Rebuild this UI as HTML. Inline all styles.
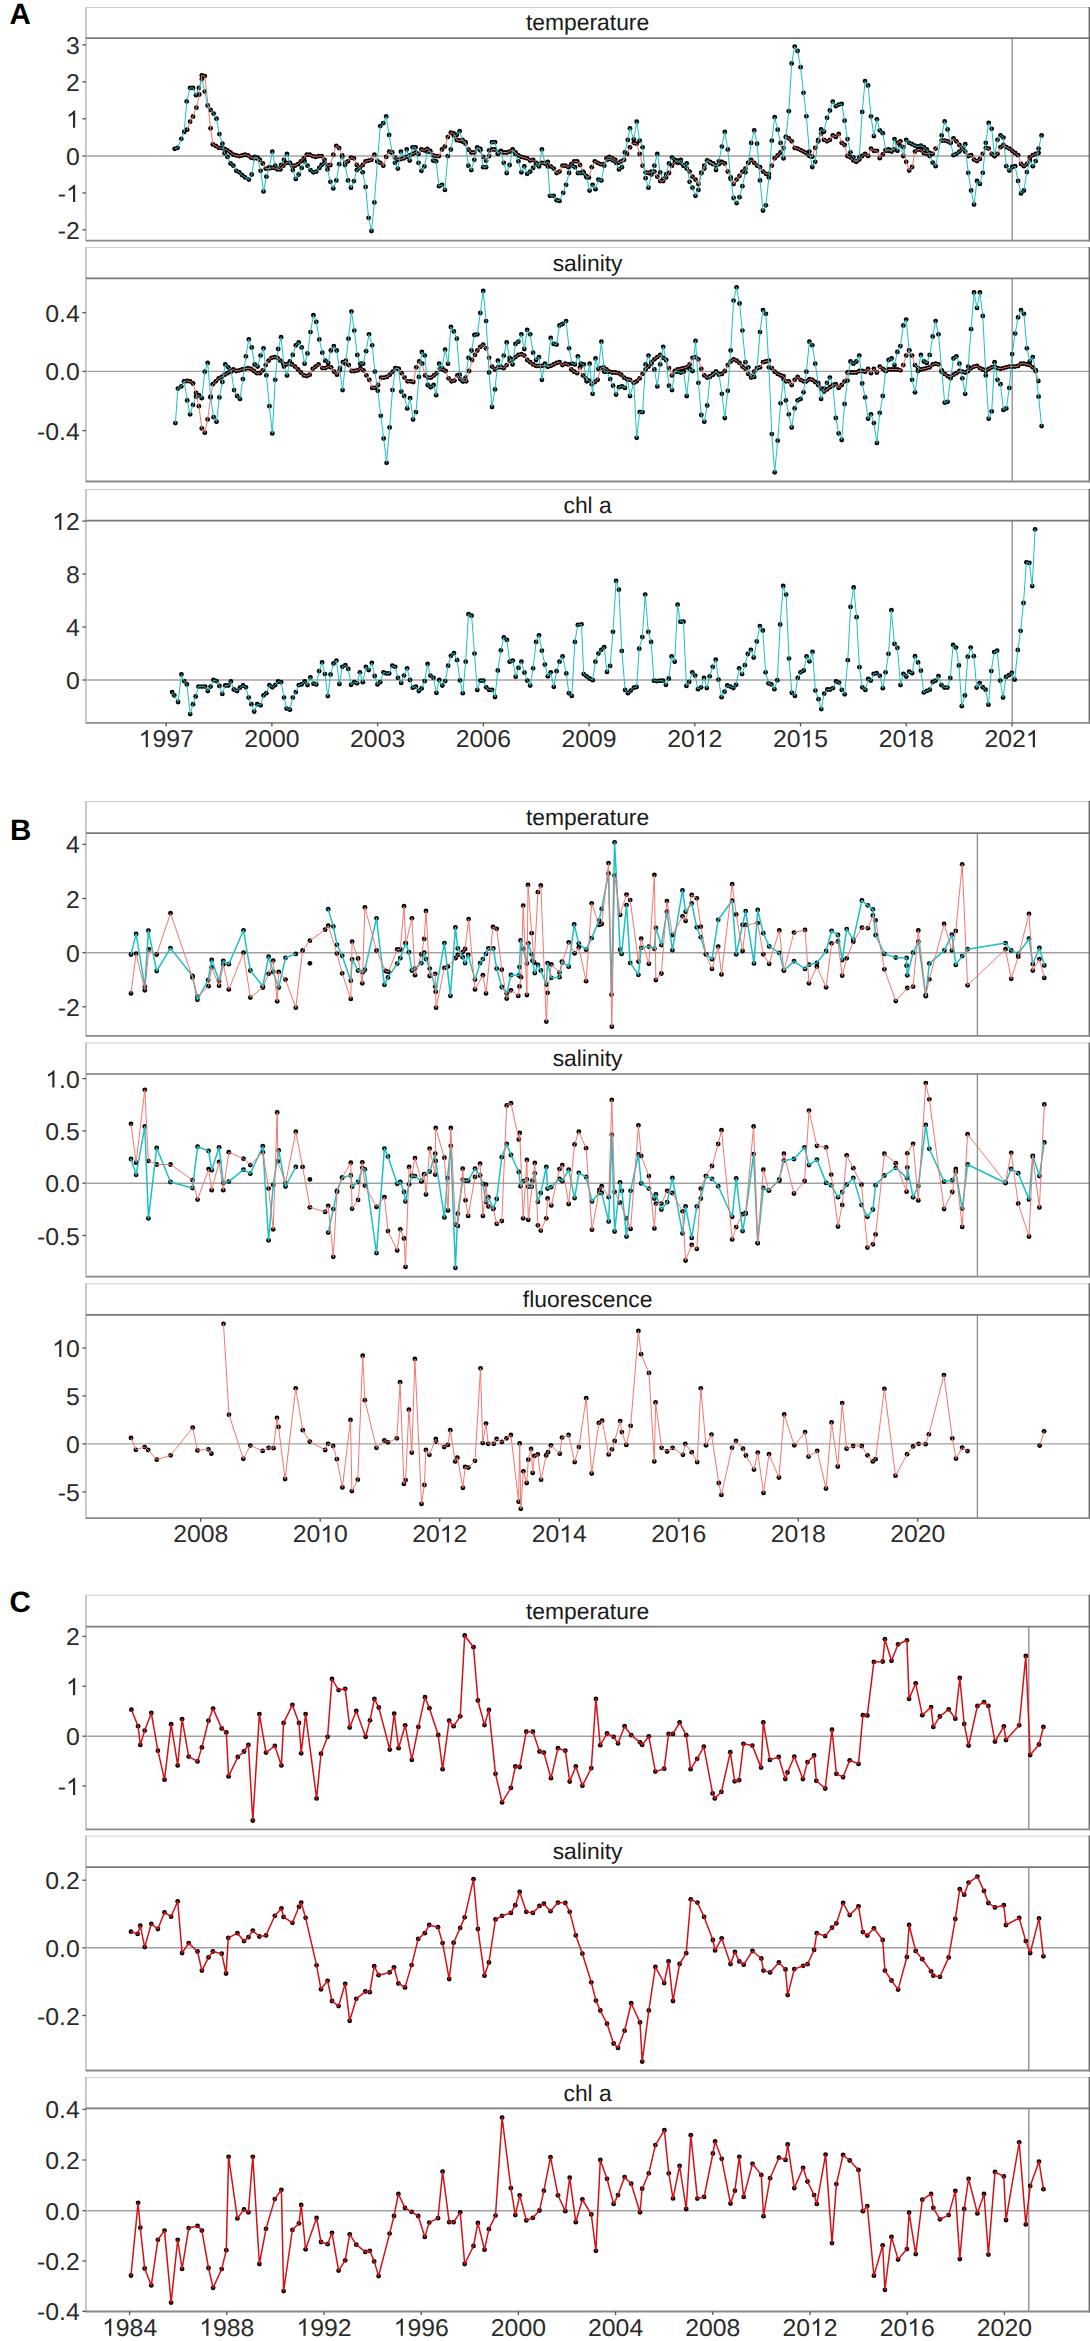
<!DOCTYPE html>
<html><head><meta charset="utf-8"><title>Time series anomalies</title>
<style>
html,body{margin:0;padding:0;background:#fff;}
svg{display:block;}
text{font-family:"Liberation Sans",sans-serif;font-kerning:none;text-rendering:geometricPrecision;}
.one{fill:#2b2b2b;}
.yt{font-size:24.3px;fill:#2b2b2b;text-anchor:end;}
.xt{font-size:24.3px;fill:#2b2b2b;text-anchor:middle;}
.st{font-size:22.85px;fill:#1a1a1a;text-anchor:middle;}
.lt{font-size:29.5px;font-weight:bold;fill:#000;}
</style></head>
<body><svg width="1090" height="2341" viewBox="0 0 1090 2341">
<rect width="1090" height="2341" fill="#fff"/>
<line x1="86.0" y1="7.5" x2="1089.3" y2="7.5" stroke="#cfcfcf" stroke-width="1"/><line x1="86.0" y1="156.0" x2="1089.3" y2="156.0" stroke="#a2a2a2" stroke-width="1.4"/><line x1="1012.2" y1="38.1" x2="1012.2" y2="240.6" stroke="#8a8a8a" stroke-width="1.3"/>
<line x1="86.0" y1="247.5" x2="1089.3" y2="247.5" stroke="#cfcfcf" stroke-width="1"/><line x1="86.0" y1="371.4" x2="1089.3" y2="371.4" stroke="#a2a2a2" stroke-width="1.4"/><line x1="1012.2" y1="278.4" x2="1012.2" y2="481.5" stroke="#8a8a8a" stroke-width="1.3"/>
<line x1="86.0" y1="489.5" x2="1089.3" y2="489.5" stroke="#cfcfcf" stroke-width="1"/><line x1="86.0" y1="680.0" x2="1089.3" y2="680.0" stroke="#a2a2a2" stroke-width="1.4"/><line x1="1012.2" y1="520.6" x2="1012.2" y2="722.9" stroke="#8a8a8a" stroke-width="1.3"/>
<line x1="86.0" y1="801.5" x2="1089.3" y2="801.5" stroke="#cfcfcf" stroke-width="1"/><line x1="86.0" y1="952.7" x2="1089.3" y2="952.7" stroke="#a2a2a2" stroke-width="1.4"/><line x1="977.4" y1="833.2" x2="977.4" y2="1035.9" stroke="#8a8a8a" stroke-width="1.3"/>
<line x1="86.0" y1="1042.9" x2="1089.3" y2="1042.9" stroke="#cfcfcf" stroke-width="1"/><line x1="86.0" y1="1183.2" x2="1089.3" y2="1183.2" stroke="#a2a2a2" stroke-width="1.4"/><line x1="977.4" y1="1074.0" x2="977.4" y2="1276.7" stroke="#8a8a8a" stroke-width="1.3"/>
<line x1="86.0" y1="1283.8" x2="1089.3" y2="1283.8" stroke="#cfcfcf" stroke-width="1"/><line x1="86.0" y1="1443.9" x2="1089.3" y2="1443.9" stroke="#a2a2a2" stroke-width="1.4"/><line x1="977.4" y1="1314.9" x2="977.4" y2="1518.1" stroke="#8a8a8a" stroke-width="1.3"/>
<line x1="86.0" y1="1595.2" x2="1089.3" y2="1595.2" stroke="#cfcfcf" stroke-width="1"/><line x1="86.0" y1="1736.2" x2="1089.3" y2="1736.2" stroke="#a2a2a2" stroke-width="1.4"/><line x1="1028.8" y1="1626.6" x2="1028.8" y2="1829.4" stroke="#8a8a8a" stroke-width="1.3"/>
<line x1="86.0" y1="1836.1" x2="1089.3" y2="1836.1" stroke="#cfcfcf" stroke-width="1"/><line x1="86.0" y1="1947.8" x2="1089.3" y2="1947.8" stroke="#a2a2a2" stroke-width="1.4"/><line x1="1028.8" y1="1867.2" x2="1028.8" y2="2070.5" stroke="#8a8a8a" stroke-width="1.3"/>
<line x1="86.0" y1="2077.6" x2="1089.3" y2="2077.6" stroke="#cfcfcf" stroke-width="1"/><line x1="86.0" y1="2210.7" x2="1089.3" y2="2210.7" stroke="#a2a2a2" stroke-width="1.4"/><line x1="1028.8" y1="2108.4" x2="1028.8" y2="2311.5" stroke="#8a8a8a" stroke-width="1.3"/>
<g fill="#000"><circle cx="187.2" cy="129.7" r="2.4"/><circle cx="190.1" cy="121.7" r="2.4"/><circle cx="193.0" cy="116.5" r="2.4"/><circle cx="196.4" cy="107.7" r="2.4"/><circle cx="199.3" cy="94.5" r="2.4"/><circle cx="201.8" cy="75.4" r="2.4"/><circle cx="204.8" cy="76.1" r="2.4"/><circle cx="210.6" cy="128.3" r="2.4"/><circle cx="212.8" cy="144.4" r="2.4"/><circle cx="215.8" cy="145.9" r="2.4"/><circle cx="218.7" cy="147.8" r="2.4"/><circle cx="221.7" cy="148.1" r="2.4"/><circle cx="224.6" cy="148.8" r="2.4"/><circle cx="227.5" cy="150.3" r="2.4"/><circle cx="230.5" cy="152.5" r="2.4"/><circle cx="233.4" cy="154.7" r="2.4"/><circle cx="236.3" cy="155.4" r="2.4"/><circle cx="239.3" cy="156.1" r="2.4"/><circle cx="242.2" cy="155.4" r="2.4"/><circle cx="245.1" cy="154.7" r="2.4"/><circle cx="248.1" cy="155.4" r="2.4"/><circle cx="251.0" cy="157.6" r="2.4"/><circle cx="253.9" cy="158.3" r="2.4"/><circle cx="256.9" cy="158.3" r="2.4"/><circle cx="259.8" cy="159.8" r="2.4"/><circle cx="262.8" cy="163.5" r="2.4"/><circle cx="265.7" cy="168.6" r="2.4"/><circle cx="268.6" cy="168.6" r="2.4"/><circle cx="271.6" cy="167.9" r="2.4"/><circle cx="274.5" cy="167.9" r="2.4"/><circle cx="277.4" cy="169.4" r="2.4"/><circle cx="280.4" cy="169.4" r="2.4"/><circle cx="283.3" cy="165.7" r="2.4"/><circle cx="286.2" cy="162.8" r="2.4"/><circle cx="289.2" cy="162.8" r="2.4"/><circle cx="292.1" cy="165.7" r="2.4"/><circle cx="295.0" cy="165.7" r="2.4"/><circle cx="298.0" cy="164.2" r="2.4"/><circle cx="300.9" cy="161.3" r="2.4"/><circle cx="303.9" cy="158.3" r="2.4"/><circle cx="306.8" cy="154.7" r="2.4"/><circle cx="309.7" cy="154.7" r="2.4"/><circle cx="312.7" cy="156.1" r="2.4"/><circle cx="315.6" cy="156.9" r="2.4"/><circle cx="318.5" cy="156.1" r="2.4"/><circle cx="321.6" cy="156.1" r="2.4"/><circle cx="324.5" cy="159.8" r="2.4"/><circle cx="327.5" cy="165.7" r="2.4"/><circle cx="330.4" cy="165.0" r="2.4"/><circle cx="333.3" cy="154.7" r="2.4"/><circle cx="336.3" cy="145.9" r="2.4"/><circle cx="339.2" cy="148.1" r="2.4"/><circle cx="342.2" cy="155.4" r="2.4"/><circle cx="345.1" cy="162.8" r="2.4"/><circle cx="348.0" cy="161.3" r="2.4"/><circle cx="351.0" cy="157.6" r="2.4"/><circle cx="353.9" cy="158.3" r="2.4"/><circle cx="356.8" cy="165.0" r="2.4"/><circle cx="359.8" cy="167.9" r="2.4"/><circle cx="362.7" cy="165.0" r="2.4"/><circle cx="365.6" cy="161.3" r="2.4"/><circle cx="368.6" cy="160.6" r="2.4"/><circle cx="371.5" cy="159.8" r="2.4"/><circle cx="374.4" cy="154.7" r="2.4"/><circle cx="377.4" cy="161.3" r="2.4"/><circle cx="380.3" cy="162.8" r="2.4"/><circle cx="383.3" cy="165.7" r="2.4"/><circle cx="386.2" cy="156.9" r="2.4"/><circle cx="389.1" cy="151.7" r="2.4"/><circle cx="392.1" cy="152.5" r="2.4"/><circle cx="395.0" cy="157.6" r="2.4"/><circle cx="397.9" cy="159.8" r="2.4"/><circle cx="400.9" cy="159.1" r="2.4"/><circle cx="403.8" cy="158.3" r="2.4"/><circle cx="406.7" cy="156.9" r="2.4"/><circle cx="409.7" cy="155.4" r="2.4"/><circle cx="412.6" cy="153.9" r="2.4"/><circle cx="415.6" cy="152.5" r="2.4"/><circle cx="418.5" cy="153.9" r="2.4"/><circle cx="421.4" cy="149.5" r="2.4"/><circle cx="424.4" cy="150.3" r="2.4"/><circle cx="427.3" cy="148.8" r="2.4"/><circle cx="430.2" cy="151.0" r="2.4"/><circle cx="433.2" cy="155.4" r="2.4"/><circle cx="436.1" cy="156.1" r="2.4"/><circle cx="439.0" cy="156.1" r="2.4"/><circle cx="442.0" cy="149.5" r="2.4"/><circle cx="444.9" cy="146.6" r="2.4"/><circle cx="447.8" cy="137.1" r="2.4"/><circle cx="450.8" cy="132.7" r="2.4"/><circle cx="453.7" cy="133.4" r="2.4"/><circle cx="456.7" cy="140.0" r="2.4"/><circle cx="459.6" cy="140.7" r="2.4"/><circle cx="462.5" cy="140.0" r="2.4"/><circle cx="465.5" cy="142.2" r="2.4"/><circle cx="468.4" cy="149.5" r="2.4"/><circle cx="471.3" cy="152.5" r="2.4"/><circle cx="474.3" cy="152.5" r="2.4"/><circle cx="477.3" cy="148.1" r="2.4"/><circle cx="480.3" cy="150.3" r="2.4"/><circle cx="483.2" cy="156.9" r="2.4"/><circle cx="486.1" cy="160.6" r="2.4"/><circle cx="489.1" cy="156.1" r="2.4"/><circle cx="492.0" cy="149.5" r="2.4"/><circle cx="495.0" cy="149.5" r="2.4"/><circle cx="497.9" cy="153.2" r="2.4"/><circle cx="500.8" cy="151.7" r="2.4"/><circle cx="503.8" cy="152.5" r="2.4"/><circle cx="506.7" cy="152.5" r="2.4"/><circle cx="509.6" cy="151.7" r="2.4"/><circle cx="512.6" cy="149.5" r="2.4"/><circle cx="515.5" cy="152.5" r="2.4"/><circle cx="518.4" cy="155.4" r="2.4"/><circle cx="521.4" cy="156.9" r="2.4"/><circle cx="524.3" cy="157.6" r="2.4"/><circle cx="527.2" cy="158.3" r="2.4"/><circle cx="530.2" cy="160.6" r="2.4"/><circle cx="533.1" cy="159.8" r="2.4"/><circle cx="536.1" cy="162.8" r="2.4"/><circle cx="539.0" cy="164.2" r="2.4"/><circle cx="541.9" cy="162.8" r="2.4"/><circle cx="544.9" cy="163.5" r="2.4"/><circle cx="547.8" cy="162.0" r="2.4"/><circle cx="550.7" cy="166.4" r="2.4"/><circle cx="553.7" cy="168.6" r="2.4"/><circle cx="556.6" cy="173.0" r="2.4"/><circle cx="559.5" cy="171.6" r="2.4"/><circle cx="562.5" cy="165.7" r="2.4"/><circle cx="565.4" cy="165.7" r="2.4"/><circle cx="568.3" cy="167.2" r="2.4"/><circle cx="571.3" cy="164.2" r="2.4"/><circle cx="574.2" cy="161.3" r="2.4"/><circle cx="577.2" cy="161.3" r="2.4"/><circle cx="580.1" cy="165.0" r="2.4"/><circle cx="583.0" cy="171.6" r="2.4"/><circle cx="586.0" cy="176.0" r="2.4"/><circle cx="588.9" cy="177.4" r="2.4"/><circle cx="591.8" cy="167.2" r="2.4"/><circle cx="594.8" cy="161.3" r="2.4"/><circle cx="597.7" cy="162.8" r="2.4"/><circle cx="600.6" cy="164.2" r="2.4"/><circle cx="603.6" cy="164.2" r="2.4"/><circle cx="606.5" cy="158.3" r="2.4"/><circle cx="609.4" cy="156.9" r="2.4"/><circle cx="612.4" cy="158.3" r="2.4"/><circle cx="615.3" cy="159.8" r="2.4"/><circle cx="618.3" cy="162.8" r="2.4"/><circle cx="621.2" cy="161.3" r="2.4"/><circle cx="624.1" cy="159.8" r="2.4"/><circle cx="627.1" cy="153.9" r="2.4"/><circle cx="630.0" cy="147.3" r="2.4"/><circle cx="633.8" cy="142.9" r="2.4"/><circle cx="636.7" cy="143.7" r="2.4"/><circle cx="639.7" cy="153.9" r="2.4"/><circle cx="642.6" cy="165.7" r="2.4"/><circle cx="645.6" cy="172.3" r="2.4"/><circle cx="648.5" cy="173.0" r="2.4"/><circle cx="651.4" cy="171.6" r="2.4"/><circle cx="654.4" cy="171.6" r="2.4"/><circle cx="657.3" cy="176.7" r="2.4"/><circle cx="660.2" cy="181.1" r="2.4"/><circle cx="663.2" cy="181.1" r="2.4"/><circle cx="666.1" cy="177.4" r="2.4"/><circle cx="669.0" cy="173.0" r="2.4"/><circle cx="672.0" cy="165.7" r="2.4"/><circle cx="674.9" cy="162.0" r="2.4"/><circle cx="677.8" cy="160.6" r="2.4"/><circle cx="680.8" cy="162.8" r="2.4"/><circle cx="683.7" cy="165.7" r="2.4"/><circle cx="686.7" cy="168.6" r="2.4"/><circle cx="689.6" cy="171.6" r="2.4"/><circle cx="692.5" cy="176.7" r="2.4"/><circle cx="695.5" cy="179.6" r="2.4"/><circle cx="698.4" cy="184.0" r="2.4"/><circle cx="701.3" cy="173.0" r="2.4"/><circle cx="704.3" cy="165.7" r="2.4"/><circle cx="707.2" cy="160.6" r="2.4"/><circle cx="710.1" cy="162.0" r="2.4"/><circle cx="713.1" cy="163.5" r="2.4"/><circle cx="716.0" cy="165.7" r="2.4"/><circle cx="718.9" cy="164.2" r="2.4"/><circle cx="721.9" cy="162.0" r="2.4"/><circle cx="724.8" cy="163.5" r="2.4"/><circle cx="727.8" cy="171.6" r="2.4"/><circle cx="730.7" cy="177.4" r="2.4"/><circle cx="733.6" cy="184.0" r="2.4"/><circle cx="736.6" cy="179.6" r="2.4"/><circle cx="739.5" cy="176.0" r="2.4"/><circle cx="742.4" cy="171.6" r="2.4"/><circle cx="745.4" cy="168.6" r="2.4"/><circle cx="748.3" cy="162.8" r="2.4"/><circle cx="751.2" cy="159.8" r="2.4"/><circle cx="754.2" cy="162.8" r="2.4"/><circle cx="757.1" cy="165.7" r="2.4"/><circle cx="760.0" cy="167.2" r="2.4"/><circle cx="763.0" cy="171.6" r="2.4"/><circle cx="765.9" cy="173.8" r="2.4"/><circle cx="768.9" cy="173.8" r="2.4"/><circle cx="771.8" cy="165.7" r="2.4"/><circle cx="774.7" cy="158.3" r="2.4"/><circle cx="777.7" cy="155.4" r="2.4"/><circle cx="780.6" cy="152.5" r="2.4"/><circle cx="783.5" cy="148.1" r="2.4"/><circle cx="785.9" cy="136.9" r="2.4"/><circle cx="788.8" cy="138.3" r="2.4"/><circle cx="791.7" cy="141.3" r="2.4"/><circle cx="794.7" cy="147.9" r="2.4"/><circle cx="797.6" cy="148.6" r="2.4"/><circle cx="800.6" cy="150.1" r="2.4"/><circle cx="803.5" cy="151.6" r="2.4"/><circle cx="806.4" cy="153.0" r="2.4"/><circle cx="809.4" cy="156.0" r="2.4"/><circle cx="812.3" cy="156.7" r="2.4"/><circle cx="815.2" cy="147.9" r="2.4"/><circle cx="818.2" cy="141.3" r="2.4"/><circle cx="821.1" cy="133.9" r="2.4"/><circle cx="824.0" cy="139.8" r="2.4"/><circle cx="827.0" cy="141.3" r="2.4"/><circle cx="829.9" cy="139.8" r="2.4"/><circle cx="832.8" cy="135.4" r="2.4"/><circle cx="835.8" cy="136.9" r="2.4"/><circle cx="838.7" cy="133.9" r="2.4"/><circle cx="841.7" cy="142.8" r="2.4"/><circle cx="844.6" cy="145.0" r="2.4"/><circle cx="847.5" cy="156.0" r="2.4"/><circle cx="850.5" cy="157.4" r="2.4"/><circle cx="853.4" cy="160.4" r="2.4"/><circle cx="856.3" cy="161.8" r="2.4"/><circle cx="859.3" cy="159.6" r="2.4"/><circle cx="862.2" cy="156.0" r="2.4"/><circle cx="865.1" cy="153.8" r="2.4"/><circle cx="868.1" cy="156.0" r="2.4"/><circle cx="871.0" cy="148.6" r="2.4"/><circle cx="873.9" cy="150.8" r="2.4"/><circle cx="876.9" cy="150.8" r="2.4"/><circle cx="879.8" cy="158.2" r="2.4"/><circle cx="882.8" cy="154.5" r="2.4"/><circle cx="885.7" cy="150.8" r="2.4"/><circle cx="888.6" cy="150.8" r="2.4"/><circle cx="891.6" cy="150.1" r="2.4"/><circle cx="894.5" cy="149.4" r="2.4"/><circle cx="897.4" cy="142.8" r="2.4"/><circle cx="900.4" cy="141.3" r="2.4"/><circle cx="903.3" cy="147.2" r="2.4"/><circle cx="906.2" cy="161.8" r="2.4"/><circle cx="909.2" cy="170.6" r="2.4"/><circle cx="912.1" cy="167.0" r="2.4"/><circle cx="915.0" cy="151.6" r="2.4"/><circle cx="918.0" cy="149.4" r="2.4"/><circle cx="920.9" cy="150.1" r="2.4"/><circle cx="923.9" cy="153.0" r="2.4"/><circle cx="926.8" cy="153.8" r="2.4"/><circle cx="929.7" cy="153.0" r="2.4"/><circle cx="932.7" cy="153.8" r="2.4"/><circle cx="935.6" cy="148.6" r="2.4"/><circle cx="941.7" cy="140.6" r="2.4"/><circle cx="944.7" cy="140.6" r="2.4"/><circle cx="947.6" cy="141.3" r="2.4"/><circle cx="950.6" cy="142.8" r="2.4"/><circle cx="953.5" cy="138.3" r="2.4"/><circle cx="956.4" cy="141.3" r="2.4"/><circle cx="959.4" cy="145.0" r="2.4"/><circle cx="962.3" cy="148.6" r="2.4"/><circle cx="965.2" cy="151.6" r="2.4"/><circle cx="968.2" cy="156.0" r="2.4"/><circle cx="971.1" cy="155.2" r="2.4"/><circle cx="974.0" cy="159.6" r="2.4"/><circle cx="977.0" cy="161.1" r="2.4"/><circle cx="979.9" cy="158.9" r="2.4"/><circle cx="982.8" cy="153.8" r="2.4"/><circle cx="985.8" cy="147.9" r="2.4"/><circle cx="988.7" cy="148.6" r="2.4"/><circle cx="991.7" cy="153.8" r="2.4"/><circle cx="994.6" cy="156.0" r="2.4"/><circle cx="997.5" cy="153.8" r="2.4"/><circle cx="1000.5" cy="147.2" r="2.4"/><circle cx="1003.4" cy="145.0" r="2.4"/><circle cx="1006.3" cy="147.2" r="2.4"/><circle cx="1009.3" cy="148.6" r="2.4"/><circle cx="1012.2" cy="150.8" r="2.4"/><circle cx="1015.1" cy="153.0" r="2.4"/><circle cx="1018.1" cy="155.2" r="2.4"/><circle cx="1021.0" cy="164.0" r="2.4"/><circle cx="1023.9" cy="166.2" r="2.4"/><circle cx="1026.9" cy="164.0" r="2.4"/><circle cx="1029.8" cy="157.4" r="2.4"/><circle cx="1032.8" cy="155.2" r="2.4"/><circle cx="1035.7" cy="153.8" r="2.4"/><circle cx="1038.6" cy="153.0" r="2.4"/><circle cx="174.7" cy="148.8" r="2.4"/><circle cx="177.6" cy="147.8" r="2.4"/><circle cx="181.3" cy="138.8" r="2.4"/><circle cx="184.2" cy="131.9" r="2.4"/><circle cx="186.7" cy="101.4" r="2.4"/><circle cx="190.1" cy="87.9" r="2.4"/><circle cx="193.0" cy="87.9" r="2.4"/><circle cx="196.0" cy="95.2" r="2.4"/><circle cx="198.9" cy="87.9" r="2.4"/><circle cx="201.8" cy="79.1" r="2.4"/><circle cx="204.8" cy="91.6" r="2.4"/><circle cx="207.7" cy="105.5" r="2.4"/><circle cx="210.6" cy="109.9" r="2.4"/><circle cx="213.6" cy="113.6" r="2.4"/><circle cx="216.5" cy="118.7" r="2.4"/><circle cx="219.4" cy="134.1" r="2.4"/><circle cx="222.4" cy="143.7" r="2.4"/><circle cx="224.6" cy="153.2" r="2.4"/><circle cx="227.5" cy="156.9" r="2.4"/><circle cx="230.5" cy="163.5" r="2.4"/><circle cx="233.4" cy="165.7" r="2.4"/><circle cx="236.3" cy="170.8" r="2.4"/><circle cx="239.3" cy="172.3" r="2.4"/><circle cx="242.2" cy="175.2" r="2.4"/><circle cx="245.1" cy="177.4" r="2.4"/><circle cx="248.8" cy="179.6" r="2.4"/><circle cx="251.7" cy="174.5" r="2.4"/><circle cx="254.7" cy="156.9" r="2.4"/><circle cx="257.6" cy="157.6" r="2.4"/><circle cx="260.6" cy="170.8" r="2.4"/><circle cx="263.5" cy="191.4" r="2.4"/><circle cx="266.4" cy="176.7" r="2.4"/><circle cx="269.4" cy="167.2" r="2.4"/><circle cx="272.3" cy="151.7" r="2.4"/><circle cx="275.2" cy="165.7" r="2.4"/><circle cx="278.2" cy="168.6" r="2.4"/><circle cx="281.1" cy="165.0" r="2.4"/><circle cx="284.0" cy="159.8" r="2.4"/><circle cx="287.0" cy="153.9" r="2.4"/><circle cx="289.9" cy="162.8" r="2.4"/><circle cx="292.8" cy="170.1" r="2.4"/><circle cx="295.8" cy="178.9" r="2.4"/><circle cx="298.7" cy="174.5" r="2.4"/><circle cx="301.7" cy="167.9" r="2.4"/><circle cx="304.6" cy="161.3" r="2.4"/><circle cx="307.5" cy="165.7" r="2.4"/><circle cx="310.5" cy="170.1" r="2.4"/><circle cx="313.4" cy="172.3" r="2.4"/><circle cx="316.3" cy="171.6" r="2.4"/><circle cx="319.3" cy="167.9" r="2.4"/><circle cx="321.6" cy="165.0" r="2.4"/><circle cx="324.5" cy="162.8" r="2.4"/><circle cx="327.5" cy="169.4" r="2.4"/><circle cx="330.4" cy="181.8" r="2.4"/><circle cx="333.3" cy="188.4" r="2.4"/><circle cx="336.3" cy="180.4" r="2.4"/><circle cx="339.2" cy="164.2" r="2.4"/><circle cx="342.2" cy="156.9" r="2.4"/><circle cx="345.1" cy="165.0" r="2.4"/><circle cx="348.0" cy="180.4" r="2.4"/><circle cx="351.0" cy="187.7" r="2.4"/><circle cx="353.9" cy="181.1" r="2.4"/><circle cx="356.8" cy="170.1" r="2.4"/><circle cx="359.8" cy="167.9" r="2.4"/><circle cx="362.7" cy="172.3" r="2.4"/><circle cx="365.6" cy="187.0" r="2.4"/><circle cx="368.6" cy="217.8" r="2.4"/><circle cx="371.5" cy="231.0" r="2.4"/><circle cx="374.4" cy="202.4" r="2.4"/><circle cx="377.4" cy="161.3" r="2.4"/><circle cx="380.3" cy="126.1" r="2.4"/><circle cx="383.3" cy="123.1" r="2.4"/><circle cx="386.2" cy="116.5" r="2.4"/><circle cx="389.1" cy="134.9" r="2.4"/><circle cx="392.1" cy="152.5" r="2.4"/><circle cx="395.0" cy="162.8" r="2.4"/><circle cx="397.9" cy="168.6" r="2.4"/><circle cx="400.9" cy="151.7" r="2.4"/><circle cx="403.8" cy="157.6" r="2.4"/><circle cx="406.7" cy="149.5" r="2.4"/><circle cx="409.7" cy="160.6" r="2.4"/><circle cx="412.6" cy="147.3" r="2.4"/><circle cx="415.6" cy="147.3" r="2.4"/><circle cx="418.5" cy="162.8" r="2.4"/><circle cx="421.4" cy="170.8" r="2.4"/><circle cx="424.4" cy="166.4" r="2.4"/><circle cx="427.3" cy="151.7" r="2.4"/><circle cx="430.2" cy="151.7" r="2.4"/><circle cx="433.2" cy="160.6" r="2.4"/><circle cx="436.1" cy="161.3" r="2.4"/><circle cx="439.0" cy="186.2" r="2.4"/><circle cx="442.0" cy="184.8" r="2.4"/><circle cx="444.9" cy="189.9" r="2.4"/><circle cx="447.8" cy="156.1" r="2.4"/><circle cx="450.8" cy="149.5" r="2.4"/><circle cx="453.7" cy="135.6" r="2.4"/><circle cx="456.7" cy="134.9" r="2.4"/><circle cx="459.6" cy="131.2" r="2.4"/><circle cx="462.5" cy="141.5" r="2.4"/><circle cx="465.5" cy="143.7" r="2.4"/><circle cx="468.4" cy="165.7" r="2.4"/><circle cx="471.3" cy="170.1" r="2.4"/><circle cx="474.3" cy="159.8" r="2.4"/><circle cx="477.3" cy="147.3" r="2.4"/><circle cx="480.3" cy="148.8" r="2.4"/><circle cx="483.2" cy="167.2" r="2.4"/><circle cx="486.1" cy="167.2" r="2.4"/><circle cx="489.1" cy="150.3" r="2.4"/><circle cx="492.0" cy="142.2" r="2.4"/><circle cx="495.0" cy="142.2" r="2.4"/><circle cx="497.9" cy="153.9" r="2.4"/><circle cx="500.8" cy="151.0" r="2.4"/><circle cx="503.8" cy="162.8" r="2.4"/><circle cx="506.7" cy="173.0" r="2.4"/><circle cx="509.6" cy="165.0" r="2.4"/><circle cx="512.6" cy="150.3" r="2.4"/><circle cx="515.5" cy="153.9" r="2.4"/><circle cx="518.4" cy="161.3" r="2.4"/><circle cx="521.4" cy="172.3" r="2.4"/><circle cx="524.3" cy="166.4" r="2.4"/><circle cx="527.2" cy="173.8" r="2.4"/><circle cx="530.2" cy="171.6" r="2.4"/><circle cx="533.1" cy="167.9" r="2.4"/><circle cx="536.1" cy="164.2" r="2.4"/><circle cx="539.0" cy="166.4" r="2.4"/><circle cx="541.9" cy="149.5" r="2.4"/><circle cx="544.9" cy="162.8" r="2.4"/><circle cx="547.8" cy="166.4" r="2.4"/><circle cx="550.0" cy="195.8" r="2.4"/><circle cx="553.7" cy="195.8" r="2.4"/><circle cx="556.6" cy="200.2" r="2.4"/><circle cx="559.5" cy="200.9" r="2.4"/><circle cx="563.2" cy="192.8" r="2.4"/><circle cx="566.1" cy="184.8" r="2.4"/><circle cx="569.1" cy="173.0" r="2.4"/><circle cx="572.0" cy="165.7" r="2.4"/><circle cx="575.0" cy="167.2" r="2.4"/><circle cx="577.9" cy="173.0" r="2.4"/><circle cx="580.8" cy="173.0" r="2.4"/><circle cx="583.8" cy="173.0" r="2.4"/><circle cx="586.7" cy="177.4" r="2.4"/><circle cx="589.6" cy="190.6" r="2.4"/><circle cx="592.6" cy="184.8" r="2.4"/><circle cx="595.5" cy="189.2" r="2.4"/><circle cx="598.4" cy="179.6" r="2.4"/><circle cx="601.4" cy="180.4" r="2.4"/><circle cx="604.3" cy="165.7" r="2.4"/><circle cx="607.2" cy="159.8" r="2.4"/><circle cx="610.2" cy="159.1" r="2.4"/><circle cx="613.1" cy="160.6" r="2.4"/><circle cx="616.1" cy="162.8" r="2.4"/><circle cx="619.0" cy="169.4" r="2.4"/><circle cx="621.9" cy="167.2" r="2.4"/><circle cx="624.9" cy="152.5" r="2.4"/><circle cx="627.8" cy="140.0" r="2.4"/><circle cx="630.0" cy="128.3" r="2.4"/><circle cx="633.8" cy="139.3" r="2.4"/><circle cx="636.7" cy="121.7" r="2.4"/><circle cx="639.7" cy="140.7" r="2.4"/><circle cx="642.6" cy="147.3" r="2.4"/><circle cx="645.6" cy="178.2" r="2.4"/><circle cx="648.5" cy="187.7" r="2.4"/><circle cx="651.4" cy="174.5" r="2.4"/><circle cx="654.4" cy="165.7" r="2.4"/><circle cx="657.3" cy="153.9" r="2.4"/><circle cx="660.2" cy="172.3" r="2.4"/><circle cx="663.2" cy="178.9" r="2.4"/><circle cx="666.1" cy="174.5" r="2.4"/><circle cx="669.0" cy="163.5" r="2.4"/><circle cx="672.0" cy="157.6" r="2.4"/><circle cx="674.9" cy="159.8" r="2.4"/><circle cx="677.8" cy="162.8" r="2.4"/><circle cx="680.8" cy="159.8" r="2.4"/><circle cx="683.7" cy="165.7" r="2.4"/><circle cx="686.7" cy="163.5" r="2.4"/><circle cx="689.6" cy="181.8" r="2.4"/><circle cx="692.5" cy="187.7" r="2.4"/><circle cx="695.5" cy="195.8" r="2.4"/><circle cx="698.4" cy="189.9" r="2.4"/><circle cx="701.3" cy="173.0" r="2.4"/><circle cx="704.3" cy="168.6" r="2.4"/><circle cx="707.2" cy="160.6" r="2.4"/><circle cx="710.1" cy="162.8" r="2.4"/><circle cx="713.1" cy="164.2" r="2.4"/><circle cx="716.0" cy="170.1" r="2.4"/><circle cx="718.9" cy="161.3" r="2.4"/><circle cx="721.9" cy="146.6" r="2.4"/><circle cx="724.8" cy="131.9" r="2.4"/><circle cx="727.8" cy="149.5" r="2.4"/><circle cx="730.7" cy="178.9" r="2.4"/><circle cx="733.6" cy="198.0" r="2.4"/><circle cx="736.6" cy="203.1" r="2.4"/><circle cx="739.5" cy="197.2" r="2.4"/><circle cx="742.4" cy="186.2" r="2.4"/><circle cx="745.4" cy="172.3" r="2.4"/><circle cx="748.3" cy="162.8" r="2.4"/><circle cx="751.2" cy="142.9" r="2.4"/><circle cx="754.2" cy="130.5" r="2.4"/><circle cx="757.1" cy="143.7" r="2.4"/><circle cx="760.0" cy="180.4" r="2.4"/><circle cx="763.0" cy="210.5" r="2.4"/><circle cx="765.9" cy="205.3" r="2.4"/><circle cx="768.9" cy="177.4" r="2.4"/><circle cx="771.8" cy="140.7" r="2.4"/><circle cx="774.7" cy="117.2" r="2.4"/><circle cx="777.7" cy="129.7" r="2.4"/><circle cx="780.6" cy="142.9" r="2.4"/><circle cx="783.5" cy="158.3" r="2.4"/><circle cx="785.9" cy="136.9" r="2.4"/><circle cx="788.8" cy="111.2" r="2.4"/><circle cx="791.7" cy="63.5" r="2.4"/><circle cx="794.7" cy="46.6" r="2.4"/><circle cx="797.6" cy="51.0" r="2.4"/><circle cx="800.6" cy="67.2" r="2.4"/><circle cx="803.5" cy="92.8" r="2.4"/><circle cx="806.4" cy="116.3" r="2.4"/><circle cx="809.4" cy="151.6" r="2.4"/><circle cx="812.3" cy="167.0" r="2.4"/><circle cx="815.2" cy="161.8" r="2.4"/><circle cx="818.2" cy="139.8" r="2.4"/><circle cx="821.1" cy="129.5" r="2.4"/><circle cx="824.0" cy="131.7" r="2.4"/><circle cx="827.0" cy="117.8" r="2.4"/><circle cx="829.9" cy="110.5" r="2.4"/><circle cx="832.8" cy="101.7" r="2.4"/><circle cx="835.8" cy="106.1" r="2.4"/><circle cx="838.7" cy="104.6" r="2.4"/><circle cx="841.7" cy="103.9" r="2.4"/><circle cx="844.6" cy="120.7" r="2.4"/><circle cx="847.5" cy="139.1" r="2.4"/><circle cx="850.5" cy="152.3" r="2.4"/><circle cx="853.4" cy="157.4" r="2.4"/><circle cx="856.3" cy="161.1" r="2.4"/><circle cx="859.3" cy="157.4" r="2.4"/><circle cx="862.2" cy="111.9" r="2.4"/><circle cx="865.1" cy="81.1" r="2.4"/><circle cx="868.1" cy="85.5" r="2.4"/><circle cx="871.0" cy="116.3" r="2.4"/><circle cx="873.9" cy="136.1" r="2.4"/><circle cx="876.9" cy="119.3" r="2.4"/><circle cx="879.8" cy="130.3" r="2.4"/><circle cx="882.8" cy="133.2" r="2.4"/><circle cx="885.7" cy="150.1" r="2.4"/><circle cx="888.6" cy="149.4" r="2.4"/><circle cx="891.6" cy="151.6" r="2.4"/><circle cx="894.5" cy="139.1" r="2.4"/><circle cx="897.4" cy="150.8" r="2.4"/><circle cx="900.4" cy="145.7" r="2.4"/><circle cx="903.3" cy="156.0" r="2.4"/><circle cx="906.2" cy="139.8" r="2.4"/><circle cx="909.2" cy="142.8" r="2.4"/><circle cx="912.1" cy="144.2" r="2.4"/><circle cx="915.0" cy="145.7" r="2.4"/><circle cx="918.0" cy="146.4" r="2.4"/><circle cx="920.9" cy="145.7" r="2.4"/><circle cx="923.9" cy="147.2" r="2.4"/><circle cx="926.8" cy="149.4" r="2.4"/><circle cx="929.7" cy="156.0" r="2.4"/><circle cx="932.7" cy="162.6" r="2.4"/><circle cx="935.6" cy="166.2" r="2.4"/><circle cx="941.7" cy="135.4" r="2.4"/><circle cx="944.7" cy="121.5" r="2.4"/><circle cx="947.6" cy="129.5" r="2.4"/><circle cx="950.6" cy="142.8" r="2.4"/><circle cx="953.5" cy="155.2" r="2.4"/><circle cx="956.4" cy="153.8" r="2.4"/><circle cx="959.4" cy="151.6" r="2.4"/><circle cx="962.3" cy="148.6" r="2.4"/><circle cx="965.2" cy="144.2" r="2.4"/><circle cx="968.2" cy="172.8" r="2.4"/><circle cx="971.1" cy="190.5" r="2.4"/><circle cx="974.0" cy="204.4" r="2.4"/><circle cx="977.0" cy="180.9" r="2.4"/><circle cx="979.9" cy="183.9" r="2.4"/><circle cx="982.8" cy="172.8" r="2.4"/><circle cx="985.8" cy="142.8" r="2.4"/><circle cx="988.7" cy="122.9" r="2.4"/><circle cx="991.7" cy="128.8" r="2.4"/><circle cx="994.6" cy="156.0" r="2.4"/><circle cx="997.5" cy="139.8" r="2.4"/><circle cx="1000.5" cy="135.4" r="2.4"/><circle cx="1003.4" cy="137.6" r="2.4"/><circle cx="1006.3" cy="166.2" r="2.4"/><circle cx="1009.3" cy="170.6" r="2.4"/><circle cx="1012.2" cy="167.0" r="2.4"/><circle cx="1015.1" cy="166.2" r="2.4"/><circle cx="1018.1" cy="180.9" r="2.4"/><circle cx="1021.0" cy="193.4" r="2.4"/><circle cx="1023.9" cy="190.5" r="2.4"/><circle cx="1026.9" cy="172.1" r="2.4"/><circle cx="1029.8" cy="160.4" r="2.4"/><circle cx="1032.8" cy="166.2" r="2.4"/><circle cx="1035.7" cy="161.1" r="2.4"/><circle cx="1038.6" cy="148.6" r="2.4"/><circle cx="1041.6" cy="135.4" r="2.4"/></g>
<polyline points="187.2,129.7 190.1,121.7 193.0,116.5 196.4,107.7 199.3,94.5 201.8,75.4 204.8,76.1 210.6,128.3 212.8,144.4 215.8,145.9 218.7,147.8 221.7,148.1 224.6,148.8 227.5,150.3 230.5,152.5 233.4,154.7 236.3,155.4 239.3,156.1 242.2,155.4 245.1,154.7 248.1,155.4 251.0,157.6 253.9,158.3 256.9,158.3 259.8,159.8 262.8,163.5 265.7,168.6 268.6,168.6 271.6,167.9 274.5,167.9 277.4,169.4 280.4,169.4 283.3,165.7 286.2,162.8 289.2,162.8 292.1,165.7 295.0,165.7 298.0,164.2 300.9,161.3 303.9,158.3 306.8,154.7 309.7,154.7 312.7,156.1 315.6,156.9 318.5,156.1 321.6,156.1 324.5,159.8 327.5,165.7 330.4,165.0 333.3,154.7 336.3,145.9 339.2,148.1 342.2,155.4 345.1,162.8 348.0,161.3 351.0,157.6 353.9,158.3 356.8,165.0 359.8,167.9 362.7,165.0 365.6,161.3 368.6,160.6 371.5,159.8 374.4,154.7 377.4,161.3 380.3,162.8 383.3,165.7 386.2,156.9 389.1,151.7 392.1,152.5 395.0,157.6 397.9,159.8 400.9,159.1 403.8,158.3 406.7,156.9 409.7,155.4 412.6,153.9 415.6,152.5 418.5,153.9 421.4,149.5 424.4,150.3 427.3,148.8 430.2,151.0 433.2,155.4 436.1,156.1 439.0,156.1 442.0,149.5 444.9,146.6 447.8,137.1 450.8,132.7 453.7,133.4 456.7,140.0 459.6,140.7 462.5,140.0 465.5,142.2 468.4,149.5 471.3,152.5 474.3,152.5 477.3,148.1 480.3,150.3 483.2,156.9 486.1,160.6 489.1,156.1 492.0,149.5 495.0,149.5 497.9,153.2 500.8,151.7 503.8,152.5 506.7,152.5 509.6,151.7 512.6,149.5 515.5,152.5 518.4,155.4 521.4,156.9 524.3,157.6 527.2,158.3 530.2,160.6 533.1,159.8 536.1,162.8 539.0,164.2 541.9,162.8 544.9,163.5 547.8,162.0 550.7,166.4 553.7,168.6 556.6,173.0 559.5,171.6 562.5,165.7 565.4,165.7 568.3,167.2 571.3,164.2 574.2,161.3 577.2,161.3 580.1,165.0 583.0,171.6 586.0,176.0 588.9,177.4 591.8,167.2 594.8,161.3 597.7,162.8 600.6,164.2 603.6,164.2 606.5,158.3 609.4,156.9 612.4,158.3 615.3,159.8 618.3,162.8 621.2,161.3 624.1,159.8 627.1,153.9 630.0,147.3 633.8,142.9 636.7,143.7 639.7,153.9 642.6,165.7 645.6,172.3 648.5,173.0 651.4,171.6 654.4,171.6 657.3,176.7 660.2,181.1 663.2,181.1 666.1,177.4 669.0,173.0 672.0,165.7 674.9,162.0 677.8,160.6 680.8,162.8 683.7,165.7 686.7,168.6 689.6,171.6 692.5,176.7 695.5,179.6 698.4,184.0 701.3,173.0 704.3,165.7 707.2,160.6 710.1,162.0 713.1,163.5 716.0,165.7 718.9,164.2 721.9,162.0 724.8,163.5 727.8,171.6 730.7,177.4 733.6,184.0 736.6,179.6 739.5,176.0 742.4,171.6 745.4,168.6 748.3,162.8 751.2,159.8 754.2,162.8 757.1,165.7 760.0,167.2 763.0,171.6 765.9,173.8 768.9,173.8 771.8,165.7 774.7,158.3 777.7,155.4 780.6,152.5 783.5,148.1 785.9,136.9 788.8,138.3 791.7,141.3 794.7,147.9 797.6,148.6 800.6,150.1 803.5,151.6 806.4,153.0 809.4,156.0 812.3,156.7 815.2,147.9 818.2,141.3 821.1,133.9 824.0,139.8 827.0,141.3 829.9,139.8 832.8,135.4 835.8,136.9 838.7,133.9 841.7,142.8 844.6,145.0 847.5,156.0 850.5,157.4 853.4,160.4 856.3,161.8 859.3,159.6 862.2,156.0 865.1,153.8 868.1,156.0 871.0,148.6 873.9,150.8 876.9,150.8 879.8,158.2 882.8,154.5 885.7,150.8 888.6,150.8 891.6,150.1 894.5,149.4 897.4,142.8 900.4,141.3 903.3,147.2 906.2,161.8 909.2,170.6 912.1,167.0 915.0,151.6 918.0,149.4 920.9,150.1 923.9,153.0 926.8,153.8 929.7,153.0 932.7,153.8 935.6,148.6 941.7,140.6 944.7,140.6 947.6,141.3 950.6,142.8 953.5,138.3 956.4,141.3 959.4,145.0 962.3,148.6 965.2,151.6 968.2,156.0 971.1,155.2 974.0,159.6 977.0,161.1 979.9,158.9 982.8,153.8 985.8,147.9 988.7,148.6 991.7,153.8 994.6,156.0 997.5,153.8 1000.5,147.2 1003.4,145.0 1006.3,147.2 1009.3,148.6 1012.2,150.8 1015.1,153.0 1018.1,155.2 1021.0,164.0 1023.9,166.2 1026.9,164.0 1029.8,157.4 1032.8,155.2 1035.7,153.8 1038.6,153.0" fill="none" stroke="#f4766e" stroke-width="1.0" stroke-linejoin="round" stroke-linecap="round"/>
<polyline points="174.7,148.8 177.6,147.8 181.3,138.8 184.2,131.9 186.7,101.4 190.1,87.9 193.0,87.9 196.0,95.2 198.9,87.9 201.8,79.1 204.8,91.6 207.7,105.5 210.6,109.9 213.6,113.6 216.5,118.7 219.4,134.1 222.4,143.7 224.6,153.2 227.5,156.9 230.5,163.5 233.4,165.7 236.3,170.8 239.3,172.3 242.2,175.2 245.1,177.4 248.8,179.6 251.7,174.5 254.7,156.9 257.6,157.6 260.6,170.8 263.5,191.4 266.4,176.7 269.4,167.2 272.3,151.7 275.2,165.7 278.2,168.6 281.1,165.0 284.0,159.8 287.0,153.9 289.9,162.8 292.8,170.1 295.8,178.9 298.7,174.5 301.7,167.9 304.6,161.3 307.5,165.7 310.5,170.1 313.4,172.3 316.3,171.6 319.3,167.9 321.6,165.0 324.5,162.8 327.5,169.4 330.4,181.8 333.3,188.4 336.3,180.4 339.2,164.2 342.2,156.9 345.1,165.0 348.0,180.4 351.0,187.7 353.9,181.1 356.8,170.1 359.8,167.9 362.7,172.3 365.6,187.0 368.6,217.8 371.5,231.0 374.4,202.4 377.4,161.3 380.3,126.1 383.3,123.1 386.2,116.5 389.1,134.9 392.1,152.5 395.0,162.8 397.9,168.6 400.9,151.7 403.8,157.6 406.7,149.5 409.7,160.6 412.6,147.3 415.6,147.3 418.5,162.8 421.4,170.8 424.4,166.4 427.3,151.7 430.2,151.7 433.2,160.6 436.1,161.3 439.0,186.2 442.0,184.8 444.9,189.9 447.8,156.1 450.8,149.5 453.7,135.6 456.7,134.9 459.6,131.2 462.5,141.5 465.5,143.7 468.4,165.7 471.3,170.1 474.3,159.8 477.3,147.3 480.3,148.8 483.2,167.2 486.1,167.2 489.1,150.3 492.0,142.2 495.0,142.2 497.9,153.9 500.8,151.0 503.8,162.8 506.7,173.0 509.6,165.0 512.6,150.3 515.5,153.9 518.4,161.3 521.4,172.3 524.3,166.4 527.2,173.8 530.2,171.6 533.1,167.9 536.1,164.2 539.0,166.4 541.9,149.5 544.9,162.8 547.8,166.4 550.0,195.8 553.7,195.8 556.6,200.2 559.5,200.9 563.2,192.8 566.1,184.8 569.1,173.0 572.0,165.7 575.0,167.2 577.9,173.0 580.8,173.0 583.8,173.0 586.7,177.4 589.6,190.6 592.6,184.8 595.5,189.2 598.4,179.6 601.4,180.4 604.3,165.7 607.2,159.8 610.2,159.1 613.1,160.6 616.1,162.8 619.0,169.4 621.9,167.2 624.9,152.5 627.8,140.0 630.0,128.3 633.8,139.3 636.7,121.7 639.7,140.7 642.6,147.3 645.6,178.2 648.5,187.7 651.4,174.5 654.4,165.7 657.3,153.9 660.2,172.3 663.2,178.9 666.1,174.5 669.0,163.5 672.0,157.6 674.9,159.8 677.8,162.8 680.8,159.8 683.7,165.7 686.7,163.5 689.6,181.8 692.5,187.7 695.5,195.8 698.4,189.9 701.3,173.0 704.3,168.6 707.2,160.6 710.1,162.8 713.1,164.2 716.0,170.1 718.9,161.3 721.9,146.6 724.8,131.9 727.8,149.5 730.7,178.9 733.6,198.0 736.6,203.1 739.5,197.2 742.4,186.2 745.4,172.3 748.3,162.8 751.2,142.9 754.2,130.5 757.1,143.7 760.0,180.4 763.0,210.5 765.9,205.3 768.9,177.4 771.8,140.7 774.7,117.2 777.7,129.7 780.6,142.9 783.5,158.3 785.9,136.9 788.8,111.2 791.7,63.5 794.7,46.6 797.6,51.0 800.6,67.2 803.5,92.8 806.4,116.3 809.4,151.6 812.3,167.0 815.2,161.8 818.2,139.8 821.1,129.5 824.0,131.7 827.0,117.8 829.9,110.5 832.8,101.7 835.8,106.1 838.7,104.6 841.7,103.9 844.6,120.7 847.5,139.1 850.5,152.3 853.4,157.4 856.3,161.1 859.3,157.4 862.2,111.9 865.1,81.1 868.1,85.5 871.0,116.3 873.9,136.1 876.9,119.3 879.8,130.3 882.8,133.2 885.7,150.1 888.6,149.4 891.6,151.6 894.5,139.1 897.4,150.8 900.4,145.7 903.3,156.0 906.2,139.8 909.2,142.8 912.1,144.2 915.0,145.7 918.0,146.4 920.9,145.7 923.9,147.2 926.8,149.4 929.7,156.0 932.7,162.6 935.6,166.2 941.7,135.4 944.7,121.5 947.6,129.5 950.6,142.8 953.5,155.2 956.4,153.8 959.4,151.6 962.3,148.6 965.2,144.2 968.2,172.8 971.1,190.5 974.0,204.4 977.0,180.9 979.9,183.9 982.8,172.8 985.8,142.8 988.7,122.9 991.7,128.8 994.6,156.0 997.5,139.8 1000.5,135.4 1003.4,137.6 1006.3,166.2 1009.3,170.6 1012.2,167.0 1015.1,166.2 1018.1,180.9 1021.0,193.4 1023.9,190.5 1026.9,172.1 1029.8,160.4 1032.8,166.2 1035.7,161.1 1038.6,148.6 1041.6,135.4" fill="none" stroke="#1cc0c4" stroke-width="1.0" stroke-linejoin="round" stroke-linecap="round"/>
<g fill="#000"><circle cx="184.2" cy="381.3" r="2.4"/><circle cx="187.2" cy="381.0" r="2.4"/><circle cx="190.1" cy="381.3" r="2.4"/><circle cx="193.0" cy="383.5" r="2.4"/><circle cx="196.0" cy="393.0" r="2.4"/><circle cx="198.9" cy="406.2" r="2.4"/><circle cx="201.8" cy="428.3" r="2.4"/><circle cx="204.8" cy="432.7" r="2.4"/><circle cx="207.7" cy="419.4" r="2.4"/><circle cx="210.6" cy="397.4" r="2.4"/><circle cx="212.8" cy="384.2" r="2.4"/><circle cx="215.8" cy="381.3" r="2.4"/><circle cx="218.7" cy="378.3" r="2.4"/><circle cx="221.7" cy="376.9" r="2.4"/><circle cx="224.6" cy="374.7" r="2.4"/><circle cx="227.5" cy="373.2" r="2.4"/><circle cx="230.5" cy="371.0" r="2.4"/><circle cx="233.4" cy="369.5" r="2.4"/><circle cx="236.3" cy="371.0" r="2.4"/><circle cx="239.3" cy="370.3" r="2.4"/><circle cx="242.2" cy="369.5" r="2.4"/><circle cx="245.1" cy="368.8" r="2.4"/><circle cx="248.1" cy="368.1" r="2.4"/><circle cx="251.0" cy="368.8" r="2.4"/><circle cx="253.9" cy="371.0" r="2.4"/><circle cx="256.9" cy="373.2" r="2.4"/><circle cx="259.8" cy="373.2" r="2.4"/><circle cx="262.8" cy="370.3" r="2.4"/><circle cx="265.7" cy="365.1" r="2.4"/><circle cx="268.6" cy="360.7" r="2.4"/><circle cx="271.6" cy="357.8" r="2.4"/><circle cx="274.5" cy="357.1" r="2.4"/><circle cx="277.4" cy="357.8" r="2.4"/><circle cx="280.4" cy="360.7" r="2.4"/><circle cx="283.3" cy="363.7" r="2.4"/><circle cx="286.2" cy="364.4" r="2.4"/><circle cx="289.2" cy="363.7" r="2.4"/><circle cx="292.1" cy="364.4" r="2.4"/><circle cx="295.0" cy="366.6" r="2.4"/><circle cx="298.0" cy="369.5" r="2.4"/><circle cx="300.9" cy="372.5" r="2.4"/><circle cx="303.9" cy="375.4" r="2.4"/><circle cx="306.8" cy="376.1" r="2.4"/><circle cx="309.7" cy="374.7" r="2.4"/><circle cx="312.7" cy="368.8" r="2.4"/><circle cx="315.6" cy="366.6" r="2.4"/><circle cx="318.5" cy="364.4" r="2.4"/><circle cx="322.3" cy="368.1" r="2.4"/><circle cx="325.3" cy="368.1" r="2.4"/><circle cx="328.2" cy="366.6" r="2.4"/><circle cx="331.1" cy="367.3" r="2.4"/><circle cx="334.1" cy="371.7" r="2.4"/><circle cx="337.0" cy="374.7" r="2.4"/><circle cx="340.0" cy="368.1" r="2.4"/><circle cx="342.9" cy="362.2" r="2.4"/><circle cx="345.8" cy="360.7" r="2.4"/><circle cx="348.8" cy="365.1" r="2.4"/><circle cx="351.7" cy="371.0" r="2.4"/><circle cx="354.6" cy="371.0" r="2.4"/><circle cx="357.6" cy="370.3" r="2.4"/><circle cx="360.5" cy="368.1" r="2.4"/><circle cx="363.4" cy="370.3" r="2.4"/><circle cx="366.4" cy="375.4" r="2.4"/><circle cx="369.3" cy="379.8" r="2.4"/><circle cx="372.2" cy="387.9" r="2.4"/><circle cx="375.2" cy="387.9" r="2.4"/><circle cx="378.1" cy="385.0" r="2.4"/><circle cx="381.1" cy="377.6" r="2.4"/><circle cx="384.0" cy="377.6" r="2.4"/><circle cx="386.9" cy="376.9" r="2.4"/><circle cx="389.9" cy="374.7" r="2.4"/><circle cx="392.8" cy="371.7" r="2.4"/><circle cx="395.7" cy="368.1" r="2.4"/><circle cx="398.7" cy="368.8" r="2.4"/><circle cx="401.6" cy="373.2" r="2.4"/><circle cx="404.5" cy="377.6" r="2.4"/><circle cx="407.5" cy="381.3" r="2.4"/><circle cx="410.4" cy="381.3" r="2.4"/><circle cx="413.3" cy="382.0" r="2.4"/><circle cx="416.3" cy="367.3" r="2.4"/><circle cx="419.2" cy="361.5" r="2.4"/><circle cx="422.2" cy="363.7" r="2.4"/><circle cx="425.1" cy="375.4" r="2.4"/><circle cx="428.0" cy="377.6" r="2.4"/><circle cx="431.0" cy="377.6" r="2.4"/><circle cx="433.9" cy="375.4" r="2.4"/><circle cx="436.8" cy="373.2" r="2.4"/><circle cx="439.8" cy="368.8" r="2.4"/><circle cx="442.7" cy="369.5" r="2.4"/><circle cx="445.6" cy="371.0" r="2.4"/><circle cx="448.6" cy="378.3" r="2.4"/><circle cx="451.5" cy="381.3" r="2.4"/><circle cx="454.4" cy="380.6" r="2.4"/><circle cx="457.4" cy="375.4" r="2.4"/><circle cx="460.3" cy="379.1" r="2.4"/><circle cx="463.3" cy="381.3" r="2.4"/><circle cx="466.2" cy="381.3" r="2.4"/><circle cx="469.1" cy="371.0" r="2.4"/><circle cx="472.1" cy="360.0" r="2.4"/><circle cx="475.0" cy="354.9" r="2.4"/><circle cx="477.3" cy="350.5" r="2.4"/><circle cx="480.3" cy="346.8" r="2.4"/><circle cx="483.2" cy="344.6" r="2.4"/><circle cx="486.1" cy="348.3" r="2.4"/><circle cx="489.1" cy="357.8" r="2.4"/><circle cx="492.0" cy="366.6" r="2.4"/><circle cx="495.0" cy="369.5" r="2.4"/><circle cx="497.9" cy="367.3" r="2.4"/><circle cx="500.8" cy="367.3" r="2.4"/><circle cx="503.8" cy="368.1" r="2.4"/><circle cx="506.7" cy="365.1" r="2.4"/><circle cx="509.6" cy="360.7" r="2.4"/><circle cx="512.6" cy="359.3" r="2.4"/><circle cx="515.5" cy="357.1" r="2.4"/><circle cx="518.4" cy="354.9" r="2.4"/><circle cx="521.4" cy="354.1" r="2.4"/><circle cx="524.3" cy="355.6" r="2.4"/><circle cx="527.2" cy="360.0" r="2.4"/><circle cx="530.2" cy="362.2" r="2.4"/><circle cx="533.1" cy="364.4" r="2.4"/><circle cx="536.1" cy="365.9" r="2.4"/><circle cx="539.0" cy="365.9" r="2.4"/><circle cx="541.9" cy="365.9" r="2.4"/><circle cx="544.9" cy="365.1" r="2.4"/><circle cx="547.8" cy="366.6" r="2.4"/><circle cx="550.7" cy="365.9" r="2.4"/><circle cx="553.7" cy="364.4" r="2.4"/><circle cx="556.6" cy="362.9" r="2.4"/><circle cx="559.5" cy="362.2" r="2.4"/><circle cx="562.5" cy="365.1" r="2.4"/><circle cx="565.4" cy="363.7" r="2.4"/><circle cx="568.3" cy="364.4" r="2.4"/><circle cx="571.3" cy="369.5" r="2.4"/><circle cx="574.2" cy="371.7" r="2.4"/><circle cx="577.2" cy="373.2" r="2.4"/><circle cx="580.1" cy="367.3" r="2.4"/><circle cx="583.0" cy="375.4" r="2.4"/><circle cx="586.0" cy="378.3" r="2.4"/><circle cx="588.9" cy="380.6" r="2.4"/><circle cx="591.8" cy="384.2" r="2.4"/><circle cx="594.8" cy="382.0" r="2.4"/><circle cx="597.7" cy="379.8" r="2.4"/><circle cx="600.6" cy="368.1" r="2.4"/><circle cx="603.6" cy="367.3" r="2.4"/><circle cx="606.5" cy="369.5" r="2.4"/><circle cx="609.4" cy="371.7" r="2.4"/><circle cx="612.4" cy="372.5" r="2.4"/><circle cx="615.3" cy="372.5" r="2.4"/><circle cx="618.3" cy="373.2" r="2.4"/><circle cx="621.2" cy="374.7" r="2.4"/><circle cx="624.1" cy="377.6" r="2.4"/><circle cx="627.1" cy="379.1" r="2.4"/><circle cx="630.0" cy="379.8" r="2.4"/><circle cx="633.8" cy="382.8" r="2.4"/><circle cx="636.7" cy="381.3" r="2.4"/><circle cx="639.7" cy="378.3" r="2.4"/><circle cx="642.6" cy="373.9" r="2.4"/><circle cx="645.6" cy="369.5" r="2.4"/><circle cx="648.5" cy="366.6" r="2.4"/><circle cx="651.4" cy="362.2" r="2.4"/><circle cx="654.4" cy="359.3" r="2.4"/><circle cx="657.3" cy="357.1" r="2.4"/><circle cx="660.2" cy="354.9" r="2.4"/><circle cx="663.2" cy="357.8" r="2.4"/><circle cx="666.1" cy="360.0" r="2.4"/><circle cx="669.0" cy="368.1" r="2.4"/><circle cx="672.0" cy="375.4" r="2.4"/><circle cx="674.9" cy="371.0" r="2.4"/><circle cx="677.8" cy="369.5" r="2.4"/><circle cx="680.8" cy="368.8" r="2.4"/><circle cx="683.7" cy="368.1" r="2.4"/><circle cx="686.7" cy="367.3" r="2.4"/><circle cx="689.6" cy="364.4" r="2.4"/><circle cx="692.5" cy="357.8" r="2.4"/><circle cx="695.5" cy="357.1" r="2.4"/><circle cx="698.4" cy="359.3" r="2.4"/><circle cx="701.3" cy="368.8" r="2.4"/><circle cx="704.3" cy="375.4" r="2.4"/><circle cx="707.2" cy="377.6" r="2.4"/><circle cx="710.1" cy="376.1" r="2.4"/><circle cx="713.1" cy="374.7" r="2.4"/><circle cx="716.0" cy="371.7" r="2.4"/><circle cx="718.9" cy="374.7" r="2.4"/><circle cx="721.9" cy="373.9" r="2.4"/><circle cx="724.8" cy="371.0" r="2.4"/><circle cx="727.8" cy="365.1" r="2.4"/><circle cx="730.7" cy="361.5" r="2.4"/><circle cx="733.6" cy="359.3" r="2.4"/><circle cx="736.6" cy="360.7" r="2.4"/><circle cx="739.5" cy="362.9" r="2.4"/><circle cx="742.4" cy="366.6" r="2.4"/><circle cx="745.4" cy="368.8" r="2.4"/><circle cx="748.3" cy="373.9" r="2.4"/><circle cx="751.2" cy="376.1" r="2.4"/><circle cx="754.2" cy="371.7" r="2.4"/><circle cx="757.1" cy="368.1" r="2.4"/><circle cx="760.0" cy="367.3" r="2.4"/><circle cx="763.0" cy="362.2" r="2.4"/><circle cx="765.9" cy="361.5" r="2.4"/><circle cx="768.9" cy="360.7" r="2.4"/><circle cx="771.8" cy="368.1" r="2.4"/><circle cx="774.7" cy="371.7" r="2.4"/><circle cx="777.7" cy="373.9" r="2.4"/><circle cx="780.6" cy="375.4" r="2.4"/><circle cx="783.5" cy="376.1" r="2.4"/><circle cx="785.9" cy="381.3" r="2.4"/><circle cx="788.8" cy="381.3" r="2.4"/><circle cx="791.7" cy="385.0" r="2.4"/><circle cx="794.7" cy="379.8" r="2.4"/><circle cx="797.6" cy="376.9" r="2.4"/><circle cx="800.6" cy="379.8" r="2.4"/><circle cx="803.5" cy="381.3" r="2.4"/><circle cx="806.4" cy="381.3" r="2.4"/><circle cx="809.4" cy="379.1" r="2.4"/><circle cx="812.3" cy="379.8" r="2.4"/><circle cx="815.2" cy="382.0" r="2.4"/><circle cx="818.2" cy="385.0" r="2.4"/><circle cx="821.1" cy="388.6" r="2.4"/><circle cx="824.0" cy="391.6" r="2.4"/><circle cx="827.0" cy="389.4" r="2.4"/><circle cx="829.9" cy="387.2" r="2.4"/><circle cx="832.8" cy="385.7" r="2.4"/><circle cx="835.8" cy="384.2" r="2.4"/><circle cx="838.7" cy="387.9" r="2.4"/><circle cx="841.7" cy="385.0" r="2.4"/><circle cx="844.6" cy="381.3" r="2.4"/><circle cx="847.5" cy="372.5" r="2.4"/><circle cx="850.5" cy="372.5" r="2.4"/><circle cx="853.4" cy="372.5" r="2.4"/><circle cx="856.3" cy="372.5" r="2.4"/><circle cx="859.3" cy="371.0" r="2.4"/><circle cx="862.2" cy="371.0" r="2.4"/><circle cx="865.1" cy="371.7" r="2.4"/><circle cx="868.1" cy="368.8" r="2.4"/><circle cx="871.0" cy="373.2" r="2.4"/><circle cx="873.9" cy="368.8" r="2.4"/><circle cx="876.9" cy="372.5" r="2.4"/><circle cx="879.8" cy="366.6" r="2.4"/><circle cx="882.8" cy="368.8" r="2.4"/><circle cx="885.7" cy="371.0" r="2.4"/><circle cx="888.6" cy="369.5" r="2.4"/><circle cx="891.6" cy="369.5" r="2.4"/><circle cx="894.5" cy="369.5" r="2.4"/><circle cx="897.4" cy="369.5" r="2.4"/><circle cx="900.4" cy="370.3" r="2.4"/><circle cx="903.3" cy="365.1" r="2.4"/><circle cx="906.2" cy="355.6" r="2.4"/><circle cx="909.2" cy="350.5" r="2.4"/><circle cx="912.1" cy="355.6" r="2.4"/><circle cx="915.0" cy="365.1" r="2.4"/><circle cx="918.0" cy="368.1" r="2.4"/><circle cx="920.9" cy="369.5" r="2.4"/><circle cx="923.9" cy="368.8" r="2.4"/><circle cx="926.8" cy="368.1" r="2.4"/><circle cx="929.7" cy="367.3" r="2.4"/><circle cx="932.7" cy="364.4" r="2.4"/><circle cx="935.6" cy="363.7" r="2.4"/><circle cx="938.5" cy="364.4" r="2.4"/><circle cx="941.7" cy="371.7" r="2.4"/><circle cx="944.7" cy="373.9" r="2.4"/><circle cx="947.6" cy="376.1" r="2.4"/><circle cx="950.6" cy="376.9" r="2.4"/><circle cx="953.5" cy="374.7" r="2.4"/><circle cx="956.4" cy="373.2" r="2.4"/><circle cx="959.4" cy="371.0" r="2.4"/><circle cx="962.3" cy="371.7" r="2.4"/><circle cx="965.2" cy="372.5" r="2.4"/><circle cx="968.2" cy="371.0" r="2.4"/><circle cx="971.1" cy="368.1" r="2.4"/><circle cx="974.0" cy="366.6" r="2.4"/><circle cx="977.0" cy="365.9" r="2.4"/><circle cx="979.9" cy="368.1" r="2.4"/><circle cx="982.8" cy="369.5" r="2.4"/><circle cx="985.8" cy="371.0" r="2.4"/><circle cx="988.7" cy="368.8" r="2.4"/><circle cx="991.7" cy="367.3" r="2.4"/><circle cx="994.6" cy="366.6" r="2.4"/><circle cx="997.5" cy="368.1" r="2.4"/><circle cx="1000.5" cy="368.8" r="2.4"/><circle cx="1003.4" cy="368.1" r="2.4"/><circle cx="1006.3" cy="367.3" r="2.4"/><circle cx="1009.3" cy="366.6" r="2.4"/><circle cx="1012.2" cy="366.6" r="2.4"/><circle cx="1015.1" cy="366.6" r="2.4"/><circle cx="1018.1" cy="365.9" r="2.4"/><circle cx="1021.0" cy="363.7" r="2.4"/><circle cx="1023.9" cy="363.7" r="2.4"/><circle cx="1026.9" cy="364.4" r="2.4"/><circle cx="1029.8" cy="365.1" r="2.4"/><circle cx="1032.8" cy="367.3" r="2.4"/><circle cx="1035.7" cy="370.3" r="2.4"/><circle cx="1038.3" cy="381.0" r="2.4"/><circle cx="175.4" cy="423.1" r="2.4"/><circle cx="177.9" cy="388.6" r="2.4"/><circle cx="181.3" cy="386.4" r="2.4"/><circle cx="184.2" cy="381.3" r="2.4"/><circle cx="187.2" cy="400.4" r="2.4"/><circle cx="190.1" cy="414.3" r="2.4"/><circle cx="193.0" cy="404.8" r="2.4"/><circle cx="196.0" cy="396.7" r="2.4"/><circle cx="198.9" cy="395.2" r="2.4"/><circle cx="201.8" cy="398.2" r="2.4"/><circle cx="204.8" cy="371.7" r="2.4"/><circle cx="207.7" cy="362.9" r="2.4"/><circle cx="210.6" cy="396.7" r="2.4"/><circle cx="213.6" cy="417.2" r="2.4"/><circle cx="216.5" cy="421.7" r="2.4"/><circle cx="219.4" cy="397.4" r="2.4"/><circle cx="222.4" cy="382.0" r="2.4"/><circle cx="225.3" cy="364.4" r="2.4"/><circle cx="228.3" cy="367.3" r="2.4"/><circle cx="231.2" cy="371.7" r="2.4"/><circle cx="234.1" cy="390.1" r="2.4"/><circle cx="237.1" cy="396.0" r="2.4"/><circle cx="240.0" cy="398.9" r="2.4"/><circle cx="242.9" cy="379.1" r="2.4"/><circle cx="245.9" cy="356.3" r="2.4"/><circle cx="248.8" cy="339.4" r="2.4"/><circle cx="251.7" cy="347.5" r="2.4"/><circle cx="254.7" cy="364.4" r="2.4"/><circle cx="257.6" cy="366.6" r="2.4"/><circle cx="260.6" cy="355.6" r="2.4"/><circle cx="263.5" cy="348.3" r="2.4"/><circle cx="266.4" cy="375.4" r="2.4"/><circle cx="269.4" cy="406.2" r="2.4"/><circle cx="272.3" cy="433.4" r="2.4"/><circle cx="275.2" cy="379.8" r="2.4"/><circle cx="278.2" cy="349.0" r="2.4"/><circle cx="281.1" cy="337.2" r="2.4"/><circle cx="284.0" cy="366.6" r="2.4"/><circle cx="287.0" cy="375.4" r="2.4"/><circle cx="289.9" cy="361.5" r="2.4"/><circle cx="292.8" cy="354.9" r="2.4"/><circle cx="295.8" cy="345.3" r="2.4"/><circle cx="298.7" cy="342.4" r="2.4"/><circle cx="301.7" cy="347.5" r="2.4"/><circle cx="304.6" cy="363.7" r="2.4"/><circle cx="307.5" cy="353.4" r="2.4"/><circle cx="310.5" cy="332.1" r="2.4"/><circle cx="313.4" cy="315.2" r="2.4"/><circle cx="316.3" cy="321.8" r="2.4"/><circle cx="319.3" cy="339.4" r="2.4"/><circle cx="322.3" cy="352.7" r="2.4"/><circle cx="325.3" cy="360.7" r="2.4"/><circle cx="328.2" cy="362.9" r="2.4"/><circle cx="330.9" cy="350.5" r="2.4"/><circle cx="333.8" cy="346.1" r="2.4"/><circle cx="336.7" cy="350.5" r="2.4"/><circle cx="339.7" cy="370.3" r="2.4"/><circle cx="342.6" cy="390.1" r="2.4"/><circle cx="345.5" cy="363.7" r="2.4"/><circle cx="348.5" cy="338.7" r="2.4"/><circle cx="351.4" cy="311.6" r="2.4"/><circle cx="354.3" cy="330.6" r="2.4"/><circle cx="357.3" cy="354.9" r="2.4"/><circle cx="360.2" cy="363.7" r="2.4"/><circle cx="363.1" cy="363.7" r="2.4"/><circle cx="366.1" cy="351.2" r="2.4"/><circle cx="369.0" cy="334.3" r="2.4"/><circle cx="372.2" cy="345.3" r="2.4"/><circle cx="374.9" cy="371.7" r="2.4"/><circle cx="377.8" cy="390.8" r="2.4"/><circle cx="380.8" cy="415.8" r="2.4"/><circle cx="383.7" cy="438.5" r="2.4"/><circle cx="386.6" cy="462.8" r="2.4"/><circle cx="389.6" cy="427.5" r="2.4"/><circle cx="392.5" cy="390.1" r="2.4"/><circle cx="395.4" cy="368.1" r="2.4"/><circle cx="398.4" cy="368.8" r="2.4"/><circle cx="401.3" cy="391.6" r="2.4"/><circle cx="404.2" cy="396.0" r="2.4"/><circle cx="407.2" cy="408.4" r="2.4"/><circle cx="410.1" cy="398.2" r="2.4"/><circle cx="413.1" cy="419.4" r="2.4"/><circle cx="416.0" cy="412.1" r="2.4"/><circle cx="418.9" cy="376.9" r="2.4"/><circle cx="421.9" cy="351.9" r="2.4"/><circle cx="424.8" cy="355.6" r="2.4"/><circle cx="427.7" cy="385.0" r="2.4"/><circle cx="430.7" cy="387.2" r="2.4"/><circle cx="433.6" cy="385.0" r="2.4"/><circle cx="436.2" cy="395.2" r="2.4"/><circle cx="439.2" cy="363.7" r="2.4"/><circle cx="442.1" cy="368.1" r="2.4"/><circle cx="445.1" cy="349.7" r="2.4"/><circle cx="448.0" cy="363.7" r="2.4"/><circle cx="450.9" cy="327.0" r="2.4"/><circle cx="453.9" cy="331.4" r="2.4"/><circle cx="456.8" cy="338.7" r="2.4"/><circle cx="459.7" cy="374.7" r="2.4"/><circle cx="462.7" cy="381.3" r="2.4"/><circle cx="465.6" cy="377.6" r="2.4"/><circle cx="468.5" cy="357.8" r="2.4"/><circle cx="471.5" cy="350.5" r="2.4"/><circle cx="474.4" cy="335.0" r="2.4"/><circle cx="477.3" cy="334.3" r="2.4"/><circle cx="480.3" cy="313.0" r="2.4"/><circle cx="483.2" cy="291.0" r="2.4"/><circle cx="486.1" cy="321.1" r="2.4"/><circle cx="489.1" cy="372.5" r="2.4"/><circle cx="492.0" cy="407.0" r="2.4"/><circle cx="495.0" cy="389.4" r="2.4"/><circle cx="497.9" cy="360.7" r="2.4"/><circle cx="500.8" cy="366.6" r="2.4"/><circle cx="503.8" cy="355.6" r="2.4"/><circle cx="506.7" cy="342.4" r="2.4"/><circle cx="509.6" cy="357.8" r="2.4"/><circle cx="512.6" cy="364.4" r="2.4"/><circle cx="515.5" cy="343.9" r="2.4"/><circle cx="518.4" cy="341.7" r="2.4"/><circle cx="521.4" cy="334.3" r="2.4"/><circle cx="524.3" cy="349.0" r="2.4"/><circle cx="527.2" cy="329.9" r="2.4"/><circle cx="530.2" cy="334.3" r="2.4"/><circle cx="533.1" cy="352.7" r="2.4"/><circle cx="536.1" cy="360.0" r="2.4"/><circle cx="539.0" cy="357.1" r="2.4"/><circle cx="541.9" cy="379.8" r="2.4"/><circle cx="544.9" cy="363.7" r="2.4"/><circle cx="547.8" cy="366.6" r="2.4"/><circle cx="550.7" cy="338.0" r="2.4"/><circle cx="553.7" cy="343.9" r="2.4"/><circle cx="556.6" cy="344.6" r="2.4"/><circle cx="559.5" cy="325.5" r="2.4"/><circle cx="562.5" cy="324.0" r="2.4"/><circle cx="566.1" cy="321.1" r="2.4"/><circle cx="569.1" cy="348.3" r="2.4"/><circle cx="572.0" cy="363.7" r="2.4"/><circle cx="575.0" cy="364.4" r="2.4"/><circle cx="577.9" cy="356.3" r="2.4"/><circle cx="580.8" cy="363.7" r="2.4"/><circle cx="583.8" cy="364.4" r="2.4"/><circle cx="586.7" cy="381.3" r="2.4"/><circle cx="589.6" cy="363.7" r="2.4"/><circle cx="592.6" cy="393.8" r="2.4"/><circle cx="595.5" cy="358.5" r="2.4"/><circle cx="598.4" cy="368.8" r="2.4"/><circle cx="601.4" cy="341.7" r="2.4"/><circle cx="604.3" cy="371.7" r="2.4"/><circle cx="607.2" cy="371.7" r="2.4"/><circle cx="610.2" cy="379.1" r="2.4"/><circle cx="613.1" cy="385.7" r="2.4"/><circle cx="616.1" cy="394.5" r="2.4"/><circle cx="619.0" cy="387.2" r="2.4"/><circle cx="621.9" cy="386.4" r="2.4"/><circle cx="624.9" cy="387.9" r="2.4"/><circle cx="627.8" cy="379.8" r="2.4"/><circle cx="630.0" cy="396.0" r="2.4"/><circle cx="633.8" cy="382.8" r="2.4"/><circle cx="636.7" cy="437.8" r="2.4"/><circle cx="639.7" cy="412.1" r="2.4"/><circle cx="642.6" cy="412.1" r="2.4"/><circle cx="645.6" cy="364.4" r="2.4"/><circle cx="648.5" cy="355.6" r="2.4"/><circle cx="651.4" cy="363.7" r="2.4"/><circle cx="654.4" cy="369.5" r="2.4"/><circle cx="657.3" cy="386.4" r="2.4"/><circle cx="660.2" cy="364.4" r="2.4"/><circle cx="663.2" cy="346.8" r="2.4"/><circle cx="666.1" cy="360.0" r="2.4"/><circle cx="669.0" cy="385.7" r="2.4"/><circle cx="672.0" cy="390.1" r="2.4"/><circle cx="674.9" cy="371.7" r="2.4"/><circle cx="677.8" cy="371.7" r="2.4"/><circle cx="680.8" cy="372.5" r="2.4"/><circle cx="683.7" cy="371.7" r="2.4"/><circle cx="686.7" cy="396.0" r="2.4"/><circle cx="689.6" cy="368.8" r="2.4"/><circle cx="692.5" cy="371.0" r="2.4"/><circle cx="695.5" cy="340.9" r="2.4"/><circle cx="698.4" cy="382.8" r="2.4"/><circle cx="701.3" cy="415.0" r="2.4"/><circle cx="704.3" cy="421.7" r="2.4"/><circle cx="707.2" cy="405.5" r="2.4"/><circle cx="710.1" cy="376.9" r="2.4"/><circle cx="713.1" cy="373.9" r="2.4"/><circle cx="716.0" cy="371.7" r="2.4"/><circle cx="718.9" cy="373.9" r="2.4"/><circle cx="721.9" cy="393.8" r="2.4"/><circle cx="724.8" cy="418.0" r="2.4"/><circle cx="727.8" cy="390.8" r="2.4"/><circle cx="730.7" cy="350.5" r="2.4"/><circle cx="733.6" cy="300.6" r="2.4"/><circle cx="736.6" cy="287.3" r="2.4"/><circle cx="739.5" cy="303.5" r="2.4"/><circle cx="742.4" cy="330.6" r="2.4"/><circle cx="745.4" cy="362.2" r="2.4"/><circle cx="748.3" cy="367.3" r="2.4"/><circle cx="751.2" cy="377.6" r="2.4"/><circle cx="754.2" cy="376.9" r="2.4"/><circle cx="757.1" cy="368.1" r="2.4"/><circle cx="760.0" cy="332.1" r="2.4"/><circle cx="763.0" cy="310.1" r="2.4"/><circle cx="765.9" cy="313.8" r="2.4"/><circle cx="768.9" cy="367.3" r="2.4"/><circle cx="771.8" cy="434.1" r="2.4"/><circle cx="774.7" cy="472.3" r="2.4"/><circle cx="777.7" cy="440.7" r="2.4"/><circle cx="780.6" cy="403.3" r="2.4"/><circle cx="783.5" cy="379.1" r="2.4"/><circle cx="785.9" cy="400.4" r="2.4"/><circle cx="788.8" cy="414.3" r="2.4"/><circle cx="791.7" cy="427.5" r="2.4"/><circle cx="794.7" cy="408.4" r="2.4"/><circle cx="797.6" cy="400.4" r="2.4"/><circle cx="800.6" cy="398.9" r="2.4"/><circle cx="803.5" cy="392.3" r="2.4"/><circle cx="806.4" cy="371.7" r="2.4"/><circle cx="809.4" cy="341.7" r="2.4"/><circle cx="812.3" cy="345.3" r="2.4"/><circle cx="815.2" cy="363.7" r="2.4"/><circle cx="818.2" cy="382.8" r="2.4"/><circle cx="821.1" cy="398.9" r="2.4"/><circle cx="824.0" cy="388.6" r="2.4"/><circle cx="827.0" cy="382.8" r="2.4"/><circle cx="829.9" cy="377.6" r="2.4"/><circle cx="832.8" cy="385.0" r="2.4"/><circle cx="835.8" cy="418.0" r="2.4"/><circle cx="838.7" cy="433.4" r="2.4"/><circle cx="841.7" cy="440.0" r="2.4"/><circle cx="844.6" cy="404.0" r="2.4"/><circle cx="847.5" cy="380.6" r="2.4"/><circle cx="850.5" cy="361.5" r="2.4"/><circle cx="853.4" cy="363.7" r="2.4"/><circle cx="856.3" cy="361.5" r="2.4"/><circle cx="859.3" cy="355.6" r="2.4"/><circle cx="862.2" cy="383.5" r="2.4"/><circle cx="865.1" cy="397.4" r="2.4"/><circle cx="868.1" cy="418.7" r="2.4"/><circle cx="871.0" cy="414.3" r="2.4"/><circle cx="873.9" cy="423.1" r="2.4"/><circle cx="876.9" cy="442.9" r="2.4"/><circle cx="879.8" cy="412.8" r="2.4"/><circle cx="882.8" cy="396.0" r="2.4"/><circle cx="885.7" cy="371.0" r="2.4"/><circle cx="888.6" cy="360.0" r="2.4"/><circle cx="891.6" cy="358.5" r="2.4"/><circle cx="894.5" cy="365.1" r="2.4"/><circle cx="897.4" cy="351.9" r="2.4"/><circle cx="900.4" cy="346.1" r="2.4"/><circle cx="903.3" cy="325.5" r="2.4"/><circle cx="906.2" cy="319.6" r="2.4"/><circle cx="909.2" cy="350.5" r="2.4"/><circle cx="912.1" cy="379.8" r="2.4"/><circle cx="915.0" cy="392.3" r="2.4"/><circle cx="918.0" cy="371.0" r="2.4"/><circle cx="920.9" cy="354.9" r="2.4"/><circle cx="923.9" cy="361.5" r="2.4"/><circle cx="926.8" cy="362.9" r="2.4"/><circle cx="929.7" cy="354.9" r="2.4"/><circle cx="932.7" cy="336.5" r="2.4"/><circle cx="935.6" cy="321.1" r="2.4"/><circle cx="938.5" cy="334.3" r="2.4"/><circle cx="941.7" cy="370.3" r="2.4"/><circle cx="944.7" cy="402.6" r="2.4"/><circle cx="947.6" cy="401.8" r="2.4"/><circle cx="950.6" cy="378.3" r="2.4"/><circle cx="953.5" cy="358.5" r="2.4"/><circle cx="956.4" cy="356.3" r="2.4"/><circle cx="959.4" cy="363.7" r="2.4"/><circle cx="962.3" cy="378.3" r="2.4"/><circle cx="965.2" cy="393.8" r="2.4"/><circle cx="968.2" cy="366.6" r="2.4"/><circle cx="971.1" cy="329.2" r="2.4"/><circle cx="974.0" cy="292.5" r="2.4"/><circle cx="977.0" cy="307.9" r="2.4"/><circle cx="979.9" cy="292.5" r="2.4"/><circle cx="982.8" cy="316.0" r="2.4"/><circle cx="985.8" cy="375.4" r="2.4"/><circle cx="988.7" cy="418.7" r="2.4"/><circle cx="991.7" cy="411.4" r="2.4"/><circle cx="994.6" cy="362.2" r="2.4"/><circle cx="997.5" cy="379.8" r="2.4"/><circle cx="1000.5" cy="384.2" r="2.4"/><circle cx="1003.4" cy="409.9" r="2.4"/><circle cx="1006.3" cy="408.4" r="2.4"/><circle cx="1009.3" cy="387.9" r="2.4"/><circle cx="1012.2" cy="354.1" r="2.4"/><circle cx="1015.1" cy="333.6" r="2.4"/><circle cx="1018.1" cy="317.4" r="2.4"/><circle cx="1021.0" cy="310.1" r="2.4"/><circle cx="1023.9" cy="313.8" r="2.4"/><circle cx="1026.9" cy="348.3" r="2.4"/><circle cx="1029.8" cy="361.5" r="2.4"/><circle cx="1032.8" cy="357.1" r="2.4"/><circle cx="1035.7" cy="371.0" r="2.4"/><circle cx="1038.6" cy="396.7" r="2.4"/><circle cx="1041.6" cy="426.1" r="2.4"/></g>
<polyline points="184.2,381.3 187.2,381.0 190.1,381.3 193.0,383.5 196.0,393.0 198.9,406.2 201.8,428.3 204.8,432.7 207.7,419.4 210.6,397.4 212.8,384.2 215.8,381.3 218.7,378.3 221.7,376.9 224.6,374.7 227.5,373.2 230.5,371.0 233.4,369.5 236.3,371.0 239.3,370.3 242.2,369.5 245.1,368.8 248.1,368.1 251.0,368.8 253.9,371.0 256.9,373.2 259.8,373.2 262.8,370.3 265.7,365.1 268.6,360.7 271.6,357.8 274.5,357.1 277.4,357.8 280.4,360.7 283.3,363.7 286.2,364.4 289.2,363.7 292.1,364.4 295.0,366.6 298.0,369.5 300.9,372.5 303.9,375.4 306.8,376.1 309.7,374.7 312.7,368.8 315.6,366.6 318.5,364.4 322.3,368.1 325.3,368.1 328.2,366.6 331.1,367.3 334.1,371.7 337.0,374.7 340.0,368.1 342.9,362.2 345.8,360.7 348.8,365.1 351.7,371.0 354.6,371.0 357.6,370.3 360.5,368.1 363.4,370.3 366.4,375.4 369.3,379.8 372.2,387.9 375.2,387.9 378.1,385.0 381.1,377.6 384.0,377.6 386.9,376.9 389.9,374.7 392.8,371.7 395.7,368.1 398.7,368.8 401.6,373.2 404.5,377.6 407.5,381.3 410.4,381.3 413.3,382.0 416.3,367.3 419.2,361.5 422.2,363.7 425.1,375.4 428.0,377.6 431.0,377.6 433.9,375.4 436.8,373.2 439.8,368.8 442.7,369.5 445.6,371.0 448.6,378.3 451.5,381.3 454.4,380.6 457.4,375.4 460.3,379.1 463.3,381.3 466.2,381.3 469.1,371.0 472.1,360.0 475.0,354.9 477.3,350.5 480.3,346.8 483.2,344.6 486.1,348.3 489.1,357.8 492.0,366.6 495.0,369.5 497.9,367.3 500.8,367.3 503.8,368.1 506.7,365.1 509.6,360.7 512.6,359.3 515.5,357.1 518.4,354.9 521.4,354.1 524.3,355.6 527.2,360.0 530.2,362.2 533.1,364.4 536.1,365.9 539.0,365.9 541.9,365.9 544.9,365.1 547.8,366.6 550.7,365.9 553.7,364.4 556.6,362.9 559.5,362.2 562.5,365.1 565.4,363.7 568.3,364.4 571.3,369.5 574.2,371.7 577.2,373.2 580.1,367.3 583.0,375.4 586.0,378.3 588.9,380.6 591.8,384.2 594.8,382.0 597.7,379.8 600.6,368.1 603.6,367.3 606.5,369.5 609.4,371.7 612.4,372.5 615.3,372.5 618.3,373.2 621.2,374.7 624.1,377.6 627.1,379.1 630.0,379.8 633.8,382.8 636.7,381.3 639.7,378.3 642.6,373.9 645.6,369.5 648.5,366.6 651.4,362.2 654.4,359.3 657.3,357.1 660.2,354.9 663.2,357.8 666.1,360.0 669.0,368.1 672.0,375.4 674.9,371.0 677.8,369.5 680.8,368.8 683.7,368.1 686.7,367.3 689.6,364.4 692.5,357.8 695.5,357.1 698.4,359.3 701.3,368.8 704.3,375.4 707.2,377.6 710.1,376.1 713.1,374.7 716.0,371.7 718.9,374.7 721.9,373.9 724.8,371.0 727.8,365.1 730.7,361.5 733.6,359.3 736.6,360.7 739.5,362.9 742.4,366.6 745.4,368.8 748.3,373.9 751.2,376.1 754.2,371.7 757.1,368.1 760.0,367.3 763.0,362.2 765.9,361.5 768.9,360.7 771.8,368.1 774.7,371.7 777.7,373.9 780.6,375.4 783.5,376.1 785.9,381.3 788.8,381.3 791.7,385.0 794.7,379.8 797.6,376.9 800.6,379.8 803.5,381.3 806.4,381.3 809.4,379.1 812.3,379.8 815.2,382.0 818.2,385.0 821.1,388.6 824.0,391.6 827.0,389.4 829.9,387.2 832.8,385.7 835.8,384.2 838.7,387.9 841.7,385.0 844.6,381.3 847.5,372.5 850.5,372.5 853.4,372.5 856.3,372.5 859.3,371.0 862.2,371.0 865.1,371.7 868.1,368.8 871.0,373.2 873.9,368.8 876.9,372.5 879.8,366.6 882.8,368.8 885.7,371.0 888.6,369.5 891.6,369.5 894.5,369.5 897.4,369.5 900.4,370.3 903.3,365.1 906.2,355.6 909.2,350.5 912.1,355.6 915.0,365.1 918.0,368.1 920.9,369.5 923.9,368.8 926.8,368.1 929.7,367.3 932.7,364.4 935.6,363.7 938.5,364.4 941.7,371.7 944.7,373.9 947.6,376.1 950.6,376.9 953.5,374.7 956.4,373.2 959.4,371.0 962.3,371.7 965.2,372.5 968.2,371.0 971.1,368.1 974.0,366.6 977.0,365.9 979.9,368.1 982.8,369.5 985.8,371.0 988.7,368.8 991.7,367.3 994.6,366.6 997.5,368.1 1000.5,368.8 1003.4,368.1 1006.3,367.3 1009.3,366.6 1012.2,366.6 1015.1,366.6 1018.1,365.9 1021.0,363.7 1023.9,363.7 1026.9,364.4 1029.8,365.1 1032.8,367.3 1035.7,370.3 1038.3,381.0" fill="none" stroke="#f4766e" stroke-width="1.0" stroke-linejoin="round" stroke-linecap="round"/>
<polyline points="175.4,423.1 177.9,388.6 181.3,386.4 184.2,381.3 187.2,400.4 190.1,414.3 193.0,404.8 196.0,396.7 198.9,395.2 201.8,398.2 204.8,371.7 207.7,362.9 210.6,396.7 213.6,417.2 216.5,421.7 219.4,397.4 222.4,382.0 225.3,364.4 228.3,367.3 231.2,371.7 234.1,390.1 237.1,396.0 240.0,398.9 242.9,379.1 245.9,356.3 248.8,339.4 251.7,347.5 254.7,364.4 257.6,366.6 260.6,355.6 263.5,348.3 266.4,375.4 269.4,406.2 272.3,433.4 275.2,379.8 278.2,349.0 281.1,337.2 284.0,366.6 287.0,375.4 289.9,361.5 292.8,354.9 295.8,345.3 298.7,342.4 301.7,347.5 304.6,363.7 307.5,353.4 310.5,332.1 313.4,315.2 316.3,321.8 319.3,339.4 322.3,352.7 325.3,360.7 328.2,362.9 330.9,350.5 333.8,346.1 336.7,350.5 339.7,370.3 342.6,390.1 345.5,363.7 348.5,338.7 351.4,311.6 354.3,330.6 357.3,354.9 360.2,363.7 363.1,363.7 366.1,351.2 369.0,334.3 372.2,345.3 374.9,371.7 377.8,390.8 380.8,415.8 383.7,438.5 386.6,462.8 389.6,427.5 392.5,390.1 395.4,368.1 398.4,368.8 401.3,391.6 404.2,396.0 407.2,408.4 410.1,398.2 413.1,419.4 416.0,412.1 418.9,376.9 421.9,351.9 424.8,355.6 427.7,385.0 430.7,387.2 433.6,385.0 436.2,395.2 439.2,363.7 442.1,368.1 445.1,349.7 448.0,363.7 450.9,327.0 453.9,331.4 456.8,338.7 459.7,374.7 462.7,381.3 465.6,377.6 468.5,357.8 471.5,350.5 474.4,335.0 477.3,334.3 480.3,313.0 483.2,291.0 486.1,321.1 489.1,372.5 492.0,407.0 495.0,389.4 497.9,360.7 500.8,366.6 503.8,355.6 506.7,342.4 509.6,357.8 512.6,364.4 515.5,343.9 518.4,341.7 521.4,334.3 524.3,349.0 527.2,329.9 530.2,334.3 533.1,352.7 536.1,360.0 539.0,357.1 541.9,379.8 544.9,363.7 547.8,366.6 550.7,338.0 553.7,343.9 556.6,344.6 559.5,325.5 562.5,324.0 566.1,321.1 569.1,348.3 572.0,363.7 575.0,364.4 577.9,356.3 580.8,363.7 583.8,364.4 586.7,381.3 589.6,363.7 592.6,393.8 595.5,358.5 598.4,368.8 601.4,341.7 604.3,371.7 607.2,371.7 610.2,379.1 613.1,385.7 616.1,394.5 619.0,387.2 621.9,386.4 624.9,387.9 627.8,379.8 630.0,396.0 633.8,382.8 636.7,437.8 639.7,412.1 642.6,412.1 645.6,364.4 648.5,355.6 651.4,363.7 654.4,369.5 657.3,386.4 660.2,364.4 663.2,346.8 666.1,360.0 669.0,385.7 672.0,390.1 674.9,371.7 677.8,371.7 680.8,372.5 683.7,371.7 686.7,396.0 689.6,368.8 692.5,371.0 695.5,340.9 698.4,382.8 701.3,415.0 704.3,421.7 707.2,405.5 710.1,376.9 713.1,373.9 716.0,371.7 718.9,373.9 721.9,393.8 724.8,418.0 727.8,390.8 730.7,350.5 733.6,300.6 736.6,287.3 739.5,303.5 742.4,330.6 745.4,362.2 748.3,367.3 751.2,377.6 754.2,376.9 757.1,368.1 760.0,332.1 763.0,310.1 765.9,313.8 768.9,367.3 771.8,434.1 774.7,472.3 777.7,440.7 780.6,403.3 783.5,379.1 785.9,400.4 788.8,414.3 791.7,427.5 794.7,408.4 797.6,400.4 800.6,398.9 803.5,392.3 806.4,371.7 809.4,341.7 812.3,345.3 815.2,363.7 818.2,382.8 821.1,398.9 824.0,388.6 827.0,382.8 829.9,377.6 832.8,385.0 835.8,418.0 838.7,433.4 841.7,440.0 844.6,404.0 847.5,380.6 850.5,361.5 853.4,363.7 856.3,361.5 859.3,355.6 862.2,383.5 865.1,397.4 868.1,418.7 871.0,414.3 873.9,423.1 876.9,442.9 879.8,412.8 882.8,396.0 885.7,371.0 888.6,360.0 891.6,358.5 894.5,365.1 897.4,351.9 900.4,346.1 903.3,325.5 906.2,319.6 909.2,350.5 912.1,379.8 915.0,392.3 918.0,371.0 920.9,354.9 923.9,361.5 926.8,362.9 929.7,354.9 932.7,336.5 935.6,321.1 938.5,334.3 941.7,370.3 944.7,402.6 947.6,401.8 950.6,378.3 953.5,358.5 956.4,356.3 959.4,363.7 962.3,378.3 965.2,393.8 968.2,366.6 971.1,329.2 974.0,292.5 977.0,307.9 979.9,292.5 982.8,316.0 985.8,375.4 988.7,418.7 991.7,411.4 994.6,362.2 997.5,379.8 1000.5,384.2 1003.4,409.9 1006.3,408.4 1009.3,387.9 1012.2,354.1 1015.1,333.6 1018.1,317.4 1021.0,310.1 1023.9,313.8 1026.9,348.3 1029.8,361.5 1032.8,357.1 1035.7,371.0 1038.6,396.7 1041.6,426.1" fill="none" stroke="#1cc0c4" stroke-width="1.0" stroke-linejoin="round" stroke-linecap="round"/>
<g fill="#000"><circle cx="172.1" cy="692.1" r="2.4"/><circle cx="174.3" cy="695.4" r="2.4"/><circle cx="178.1" cy="702.0" r="2.4"/><circle cx="181.4" cy="674.5" r="2.4"/><circle cx="184.2" cy="681.1" r="2.4"/><circle cx="186.9" cy="684.4" r="2.4"/><circle cx="190.2" cy="714.1" r="2.4"/><circle cx="193.0" cy="704.2" r="2.4"/><circle cx="195.7" cy="696.5" r="2.4"/><circle cx="198.5" cy="686.6" r="2.4"/><circle cx="201.8" cy="686.6" r="2.4"/><circle cx="205.1" cy="686.6" r="2.4"/><circle cx="207.8" cy="691.0" r="2.4"/><circle cx="210.6" cy="686.6" r="2.4"/><circle cx="213.5" cy="680.0" r="2.4"/><circle cx="216.6" cy="681.1" r="2.4"/><circle cx="219.4" cy="685.9" r="2.4"/><circle cx="222.3" cy="693.9" r="2.4"/><circle cx="225.2" cy="685.5" r="2.4"/><circle cx="228.3" cy="685.5" r="2.4"/><circle cx="230.9" cy="681.5" r="2.4"/><circle cx="233.8" cy="689.5" r="2.4"/><circle cx="237.1" cy="691.0" r="2.4"/><circle cx="239.9" cy="687.7" r="2.4"/><circle cx="243.0" cy="685.5" r="2.4"/><circle cx="245.9" cy="687.3" r="2.4"/><circle cx="248.7" cy="697.6" r="2.4"/><circle cx="251.4" cy="704.2" r="2.4"/><circle cx="254.2" cy="711.5" r="2.4"/><circle cx="257.3" cy="704.2" r="2.4"/><circle cx="260.6" cy="705.3" r="2.4"/><circle cx="263.5" cy="695.4" r="2.4"/><circle cx="266.3" cy="693.2" r="2.4"/><circle cx="269.4" cy="685.1" r="2.4"/><circle cx="272.3" cy="687.3" r="2.4"/><circle cx="275.2" cy="685.1" r="2.4"/><circle cx="278.2" cy="681.5" r="2.4"/><circle cx="281.1" cy="682.2" r="2.4"/><circle cx="284.0" cy="697.6" r="2.4"/><circle cx="286.6" cy="708.6" r="2.4"/><circle cx="289.9" cy="709.7" r="2.4"/><circle cx="292.8" cy="697.6" r="2.4"/><circle cx="295.9" cy="692.1" r="2.4"/><circle cx="298.7" cy="685.1" r="2.4"/><circle cx="301.6" cy="684.4" r="2.4"/><circle cx="304.7" cy="681.5" r="2.4"/><circle cx="307.5" cy="685.1" r="2.4"/><circle cx="310.4" cy="677.4" r="2.4"/><circle cx="313.5" cy="683.7" r="2.4"/><circle cx="316.3" cy="684.4" r="2.4"/><circle cx="319.2" cy="671.2" r="2.4"/><circle cx="322.1" cy="662.4" r="2.4"/><circle cx="324.9" cy="674.1" r="2.4"/><circle cx="327.8" cy="696.1" r="2.4"/><circle cx="330.6" cy="674.5" r="2.4"/><circle cx="333.5" cy="663.5" r="2.4"/><circle cx="336.4" cy="660.6" r="2.4"/><circle cx="339.4" cy="684.0" r="2.4"/><circle cx="342.3" cy="666.8" r="2.4"/><circle cx="345.4" cy="665.2" r="2.4"/><circle cx="348.3" cy="669.0" r="2.4"/><circle cx="351.1" cy="684.8" r="2.4"/><circle cx="354.2" cy="682.2" r="2.4"/><circle cx="357.1" cy="683.3" r="2.4"/><circle cx="359.9" cy="672.3" r="2.4"/><circle cx="362.8" cy="682.2" r="2.4"/><circle cx="365.9" cy="666.8" r="2.4"/><circle cx="368.7" cy="670.1" r="2.4"/><circle cx="371.8" cy="662.8" r="2.4"/><circle cx="374.7" cy="676.0" r="2.4"/><circle cx="377.5" cy="684.4" r="2.4"/><circle cx="380.2" cy="682.2" r="2.4"/><circle cx="383.5" cy="672.3" r="2.4"/><circle cx="386.3" cy="673.4" r="2.4"/><circle cx="389.2" cy="673.4" r="2.4"/><circle cx="392.3" cy="665.7" r="2.4"/><circle cx="395.2" cy="666.8" r="2.4"/><circle cx="398.0" cy="677.8" r="2.4"/><circle cx="401.2" cy="682.9" r="2.4"/><circle cx="404.0" cy="675.6" r="2.4"/><circle cx="407.1" cy="668.3" r="2.4"/><circle cx="410.0" cy="680.0" r="2.4"/><circle cx="412.8" cy="687.7" r="2.4"/><circle cx="415.9" cy="686.6" r="2.4"/><circle cx="418.8" cy="691.0" r="2.4"/><circle cx="421.6" cy="688.4" r="2.4"/><circle cx="424.7" cy="681.1" r="2.4"/><circle cx="427.6" cy="663.9" r="2.4"/><circle cx="430.4" cy="675.6" r="2.4"/><circle cx="433.5" cy="677.8" r="2.4"/><circle cx="436.4" cy="692.8" r="2.4"/><circle cx="439.3" cy="680.0" r="2.4"/><circle cx="442.3" cy="685.5" r="2.4"/><circle cx="445.2" cy="681.1" r="2.4"/><circle cx="448.1" cy="665.7" r="2.4"/><circle cx="450.9" cy="655.8" r="2.4"/><circle cx="454.0" cy="653.1" r="2.4"/><circle cx="457.1" cy="660.2" r="2.4"/><circle cx="460.0" cy="680.4" r="2.4"/><circle cx="462.8" cy="693.2" r="2.4"/><circle cx="465.7" cy="661.7" r="2.4"/><circle cx="468.5" cy="614.2" r="2.4"/><circle cx="471.6" cy="615.7" r="2.4"/><circle cx="474.5" cy="653.6" r="2.4"/><circle cx="477.3" cy="689.9" r="2.4"/><circle cx="480.4" cy="680.7" r="2.4"/><circle cx="483.3" cy="680.7" r="2.4"/><circle cx="486.2" cy="687.3" r="2.4"/><circle cx="489.2" cy="689.9" r="2.4"/><circle cx="492.1" cy="689.9" r="2.4"/><circle cx="495.0" cy="697.0" r="2.4"/><circle cx="497.8" cy="670.5" r="2.4"/><circle cx="500.9" cy="650.3" r="2.4"/><circle cx="503.8" cy="637.5" r="2.4"/><circle cx="506.9" cy="639.9" r="2.4"/><circle cx="509.7" cy="661.7" r="2.4"/><circle cx="512.8" cy="660.6" r="2.4"/><circle cx="515.7" cy="676.7" r="2.4"/><circle cx="518.5" cy="667.9" r="2.4"/><circle cx="521.4" cy="661.7" r="2.4"/><circle cx="524.5" cy="672.7" r="2.4"/><circle cx="527.3" cy="680.7" r="2.4"/><circle cx="530.2" cy="685.5" r="2.4"/><circle cx="533.1" cy="668.3" r="2.4"/><circle cx="536.1" cy="641.9" r="2.4"/><circle cx="539.0" cy="635.3" r="2.4"/><circle cx="541.9" cy="650.7" r="2.4"/><circle cx="544.9" cy="664.6" r="2.4"/><circle cx="547.8" cy="676.3" r="2.4"/><circle cx="550.7" cy="672.3" r="2.4"/><circle cx="553.8" cy="686.8" r="2.4"/><circle cx="556.6" cy="671.2" r="2.4"/><circle cx="559.5" cy="661.7" r="2.4"/><circle cx="562.6" cy="656.4" r="2.4"/><circle cx="566.3" cy="673.4" r="2.4"/><circle cx="568.9" cy="693.2" r="2.4"/><circle cx="571.8" cy="695.9" r="2.4"/><circle cx="574.9" cy="641.9" r="2.4"/><circle cx="577.8" cy="625.0" r="2.4"/><circle cx="581.5" cy="624.3" r="2.4"/><circle cx="583.7" cy="674.1" r="2.4"/><circle cx="586.6" cy="676.3" r="2.4"/><circle cx="589.6" cy="678.5" r="2.4"/><circle cx="592.7" cy="680.2" r="2.4"/><circle cx="595.4" cy="661.7" r="2.4"/><circle cx="598.4" cy="653.6" r="2.4"/><circle cx="601.3" cy="649.8" r="2.4"/><circle cx="604.2" cy="647.2" r="2.4"/><circle cx="607.0" cy="671.9" r="2.4"/><circle cx="610.1" cy="665.9" r="2.4"/><circle cx="613.0" cy="631.8" r="2.4"/><circle cx="616.1" cy="580.9" r="2.4"/><circle cx="618.9" cy="589.7" r="2.4"/><circle cx="621.8" cy="650.9" r="2.4"/><circle cx="625.1" cy="689.9" r="2.4"/><circle cx="628.0" cy="693.2" r="2.4"/><circle cx="630.8" cy="690.6" r="2.4"/><circle cx="633.9" cy="687.7" r="2.4"/><circle cx="636.6" cy="687.0" r="2.4"/><circle cx="639.2" cy="648.7" r="2.4"/><circle cx="642.3" cy="637.1" r="2.4"/><circle cx="645.2" cy="594.6" r="2.4"/><circle cx="648.3" cy="631.8" r="2.4"/><circle cx="651.1" cy="641.9" r="2.4"/><circle cx="654.0" cy="680.7" r="2.4"/><circle cx="656.9" cy="681.1" r="2.4"/><circle cx="659.9" cy="680.7" r="2.4"/><circle cx="663.0" cy="680.7" r="2.4"/><circle cx="665.9" cy="684.8" r="2.4"/><circle cx="668.8" cy="678.5" r="2.4"/><circle cx="671.6" cy="656.4" r="2.4"/><circle cx="674.7" cy="661.7" r="2.4"/><circle cx="677.6" cy="604.7" r="2.4"/><circle cx="680.4" cy="621.7" r="2.4"/><circle cx="683.5" cy="621.7" r="2.4"/><circle cx="686.4" cy="685.9" r="2.4"/><circle cx="689.2" cy="681.8" r="2.4"/><circle cx="692.3" cy="672.3" r="2.4"/><circle cx="695.2" cy="675.6" r="2.4"/><circle cx="698.0" cy="689.2" r="2.4"/><circle cx="701.1" cy="687.3" r="2.4"/><circle cx="704.0" cy="677.8" r="2.4"/><circle cx="706.8" cy="688.1" r="2.4"/><circle cx="709.7" cy="676.3" r="2.4"/><circle cx="712.8" cy="666.8" r="2.4"/><circle cx="715.7" cy="659.7" r="2.4"/><circle cx="718.5" cy="679.6" r="2.4"/><circle cx="721.6" cy="697.2" r="2.4"/><circle cx="724.5" cy="691.7" r="2.4"/><circle cx="727.3" cy="685.5" r="2.4"/><circle cx="730.4" cy="686.6" r="2.4"/><circle cx="733.3" cy="688.1" r="2.4"/><circle cx="736.1" cy="684.8" r="2.4"/><circle cx="739.2" cy="668.3" r="2.4"/><circle cx="742.1" cy="674.1" r="2.4"/><circle cx="744.9" cy="665.2" r="2.4"/><circle cx="747.8" cy="654.0" r="2.4"/><circle cx="750.9" cy="649.8" r="2.4"/><circle cx="753.7" cy="657.5" r="2.4"/><circle cx="756.8" cy="641.5" r="2.4"/><circle cx="759.9" cy="626.1" r="2.4"/><circle cx="762.8" cy="630.5" r="2.4"/><circle cx="765.6" cy="672.3" r="2.4"/><circle cx="768.5" cy="683.3" r="2.4"/><circle cx="771.4" cy="684.4" r="2.4"/><circle cx="774.4" cy="689.2" r="2.4"/><circle cx="777.3" cy="680.2" r="2.4"/><circle cx="780.2" cy="624.5" r="2.4"/><circle cx="783.2" cy="586.0" r="2.4"/><circle cx="786.1" cy="594.6" r="2.4"/><circle cx="789.0" cy="658.6" r="2.4"/><circle cx="791.8" cy="692.8" r="2.4"/><circle cx="794.9" cy="695.9" r="2.4"/><circle cx="797.8" cy="677.8" r="2.4"/><circle cx="800.6" cy="672.3" r="2.4"/><circle cx="803.7" cy="670.5" r="2.4"/><circle cx="806.6" cy="656.4" r="2.4"/><circle cx="809.4" cy="661.3" r="2.4"/><circle cx="812.5" cy="651.8" r="2.4"/><circle cx="815.4" cy="690.6" r="2.4"/><circle cx="818.5" cy="699.2" r="2.4"/><circle cx="821.3" cy="709.1" r="2.4"/><circle cx="824.2" cy="693.7" r="2.4"/><circle cx="827.3" cy="689.5" r="2.4"/><circle cx="830.1" cy="689.5" r="2.4"/><circle cx="833.0" cy="688.1" r="2.4"/><circle cx="836.1" cy="681.5" r="2.4"/><circle cx="839.0" cy="682.6" r="2.4"/><circle cx="841.8" cy="689.9" r="2.4"/><circle cx="844.7" cy="694.3" r="2.4"/><circle cx="847.8" cy="660.2" r="2.4"/><circle cx="850.6" cy="606.9" r="2.4"/><circle cx="853.7" cy="587.5" r="2.4"/><circle cx="856.6" cy="617.2" r="2.4"/><circle cx="859.4" cy="667.2" r="2.4"/><circle cx="862.3" cy="687.3" r="2.4"/><circle cx="865.4" cy="689.9" r="2.4"/><circle cx="868.2" cy="678.9" r="2.4"/><circle cx="870.8" cy="680.6" r="2.4"/><circle cx="873.7" cy="673.8" r="2.4"/><circle cx="876.6" cy="673.2" r="2.4"/><circle cx="879.9" cy="675.8" r="2.4"/><circle cx="882.8" cy="688.2" r="2.4"/><circle cx="885.6" cy="672.3" r="2.4"/><circle cx="888.5" cy="653.8" r="2.4"/><circle cx="891.4" cy="610.2" r="2.4"/><circle cx="894.5" cy="643.9" r="2.4"/><circle cx="897.4" cy="648.0" r="2.4"/><circle cx="900.5" cy="685.1" r="2.4"/><circle cx="903.4" cy="673.8" r="2.4"/><circle cx="906.3" cy="676.5" r="2.4"/><circle cx="909.2" cy="671.7" r="2.4"/><circle cx="912.1" cy="673.2" r="2.4"/><circle cx="915.0" cy="656.2" r="2.4"/><circle cx="918.1" cy="662.4" r="2.4"/><circle cx="920.9" cy="670.7" r="2.4"/><circle cx="923.8" cy="692.4" r="2.4"/><circle cx="926.9" cy="690.9" r="2.4"/><circle cx="929.8" cy="689.7" r="2.4"/><circle cx="932.7" cy="682.0" r="2.4"/><circle cx="935.6" cy="680.6" r="2.4"/><circle cx="938.5" cy="676.1" r="2.4"/><circle cx="941.4" cy="685.1" r="2.4"/><circle cx="944.5" cy="687.6" r="2.4"/><circle cx="947.4" cy="687.6" r="2.4"/><circle cx="950.3" cy="677.9" r="2.4"/><circle cx="953.1" cy="644.9" r="2.4"/><circle cx="956.0" cy="647.6" r="2.4"/><circle cx="958.9" cy="665.5" r="2.4"/><circle cx="961.8" cy="706.2" r="2.4"/><circle cx="964.9" cy="695.5" r="2.4"/><circle cx="967.8" cy="656.7" r="2.4"/><circle cx="970.7" cy="647.6" r="2.4"/><circle cx="973.8" cy="656.2" r="2.4"/><circle cx="976.7" cy="687.6" r="2.4"/><circle cx="979.6" cy="683.1" r="2.4"/><circle cx="982.7" cy="687.2" r="2.4"/><circle cx="985.6" cy="689.7" r="2.4"/><circle cx="988.4" cy="704.7" r="2.4"/><circle cx="991.3" cy="671.1" r="2.4"/><circle cx="994.2" cy="652.1" r="2.4"/><circle cx="997.1" cy="650.7" r="2.4"/><circle cx="1000.2" cy="680.6" r="2.4"/><circle cx="1003.1" cy="697.5" r="2.4"/><circle cx="1006.0" cy="676.9" r="2.4"/><circle cx="1008.9" cy="675.2" r="2.4"/><circle cx="1011.8" cy="672.8" r="2.4"/><circle cx="1014.7" cy="679.6" r="2.4"/><circle cx="1017.8" cy="650.0" r="2.4"/><circle cx="1020.6" cy="630.8" r="2.4"/><circle cx="1023.5" cy="603.0" r="2.4"/><circle cx="1026.4" cy="562.3" r="2.4"/><circle cx="1029.3" cy="562.9" r="2.4"/><circle cx="1032.2" cy="586.1" r="2.4"/><circle cx="1035.1" cy="529.3" r="2.4"/></g>
<polyline points="172.1,692.1 174.3,695.4 178.1,702.0 181.4,674.5 184.2,681.1 186.9,684.4 190.2,714.1 193.0,704.2 195.7,696.5 198.5,686.6 201.8,686.6 205.1,686.6 207.8,691.0 210.6,686.6 213.5,680.0 216.6,681.1 219.4,685.9 222.3,693.9 225.2,685.5 228.3,685.5 230.9,681.5 233.8,689.5 237.1,691.0 239.9,687.7 243.0,685.5 245.9,687.3 248.7,697.6 251.4,704.2 254.2,711.5 257.3,704.2 260.6,705.3 263.5,695.4 266.3,693.2 269.4,685.1 272.3,687.3 275.2,685.1 278.2,681.5 281.1,682.2 284.0,697.6 286.6,708.6 289.9,709.7 292.8,697.6 295.9,692.1 298.7,685.1 301.6,684.4 304.7,681.5 307.5,685.1 310.4,677.4 313.5,683.7 316.3,684.4 319.2,671.2 322.1,662.4 324.9,674.1 327.8,696.1 330.6,674.5 333.5,663.5 336.4,660.6 339.4,684.0 342.3,666.8 345.4,665.2 348.3,669.0 351.1,684.8 354.2,682.2 357.1,683.3 359.9,672.3 362.8,682.2 365.9,666.8 368.7,670.1 371.8,662.8 374.7,676.0 377.5,684.4 380.2,682.2 383.5,672.3 386.3,673.4 389.2,673.4 392.3,665.7 395.2,666.8 398.0,677.8 401.2,682.9 404.0,675.6 407.1,668.3 410.0,680.0 412.8,687.7 415.9,686.6 418.8,691.0 421.6,688.4 424.7,681.1 427.6,663.9 430.4,675.6 433.5,677.8 436.4,692.8 439.3,680.0 442.3,685.5 445.2,681.1 448.1,665.7 450.9,655.8 454.0,653.1 457.1,660.2 460.0,680.4 462.8,693.2 465.7,661.7 468.5,614.2 471.6,615.7 474.5,653.6 477.3,689.9 480.4,680.7 483.3,680.7 486.2,687.3 489.2,689.9 492.1,689.9 495.0,697.0 497.8,670.5 500.9,650.3 503.8,637.5 506.9,639.9 509.7,661.7 512.8,660.6 515.7,676.7 518.5,667.9 521.4,661.7 524.5,672.7 527.3,680.7 530.2,685.5 533.1,668.3 536.1,641.9 539.0,635.3 541.9,650.7 544.9,664.6 547.8,676.3 550.7,672.3 553.8,686.8 556.6,671.2 559.5,661.7 562.6,656.4 566.3,673.4 568.9,693.2 571.8,695.9 574.9,641.9 577.8,625.0 581.5,624.3 583.7,674.1 586.6,676.3 589.6,678.5 592.7,680.2 595.4,661.7 598.4,653.6 601.3,649.8 604.2,647.2 607.0,671.9 610.1,665.9 613.0,631.8 616.1,580.9 618.9,589.7 621.8,650.9 625.1,689.9 628.0,693.2 630.8,690.6 633.9,687.7 636.6,687.0 639.2,648.7 642.3,637.1 645.2,594.6 648.3,631.8 651.1,641.9 654.0,680.7 656.9,681.1 659.9,680.7 663.0,680.7 665.9,684.8 668.8,678.5 671.6,656.4 674.7,661.7 677.6,604.7 680.4,621.7 683.5,621.7 686.4,685.9 689.2,681.8 692.3,672.3 695.2,675.6 698.0,689.2 701.1,687.3 704.0,677.8 706.8,688.1 709.7,676.3 712.8,666.8 715.7,659.7 718.5,679.6 721.6,697.2 724.5,691.7 727.3,685.5 730.4,686.6 733.3,688.1 736.1,684.8 739.2,668.3 742.1,674.1 744.9,665.2 747.8,654.0 750.9,649.8 753.7,657.5 756.8,641.5 759.9,626.1 762.8,630.5 765.6,672.3 768.5,683.3 771.4,684.4 774.4,689.2 777.3,680.2 780.2,624.5 783.2,586.0 786.1,594.6 789.0,658.6 791.8,692.8 794.9,695.9 797.8,677.8 800.6,672.3 803.7,670.5 806.6,656.4 809.4,661.3 812.5,651.8 815.4,690.6 818.5,699.2 821.3,709.1 824.2,693.7 827.3,689.5 830.1,689.5 833.0,688.1 836.1,681.5 839.0,682.6 841.8,689.9 844.7,694.3 847.8,660.2 850.6,606.9 853.7,587.5 856.6,617.2 859.4,667.2 862.3,687.3 865.4,689.9 868.2,678.9 870.8,680.6 873.7,673.8 876.6,673.2 879.9,675.8 882.8,688.2 885.6,672.3 888.5,653.8 891.4,610.2 894.5,643.9 897.4,648.0 900.5,685.1 903.4,673.8 906.3,676.5 909.2,671.7 912.1,673.2 915.0,656.2 918.1,662.4 920.9,670.7 923.8,692.4 926.9,690.9 929.8,689.7 932.7,682.0 935.6,680.6 938.5,676.1 941.4,685.1 944.5,687.6 947.4,687.6 950.3,677.9 953.1,644.9 956.0,647.6 958.9,665.5 961.8,706.2 964.9,695.5 967.8,656.7 970.7,647.6 973.8,656.2 976.7,687.6 979.6,683.1 982.7,687.2 985.6,689.7 988.4,704.7 991.3,671.1 994.2,652.1 997.1,650.7 1000.2,680.6 1003.1,697.5 1006.0,676.9 1008.9,675.2 1011.8,672.8 1014.7,679.6 1017.8,650.0 1020.6,630.8 1023.5,603.0 1026.4,562.3 1029.3,562.9 1032.2,586.1 1035.1,529.3" fill="none" stroke="#1cc0c4" stroke-width="1.0" stroke-linejoin="round" stroke-linecap="round"/>
<g fill="#000"><circle cx="131.0" cy="954.5" r="2.4"/><circle cx="136.1" cy="933.9" r="2.4"/><circle cx="144.8" cy="986.6" r="2.4"/><circle cx="148.4" cy="930.6" r="2.4"/><circle cx="156.7" cy="971.0" r="2.4"/><circle cx="170.5" cy="948.1" r="2.4"/><circle cx="192.5" cy="976.0" r="2.4"/><circle cx="197.4" cy="999.8" r="2.4"/><circle cx="208.1" cy="980.2" r="2.4"/><circle cx="211.7" cy="960.0" r="2.4"/><circle cx="219.1" cy="981.1" r="2.4"/><circle cx="223.3" cy="960.9" r="2.4"/><circle cx="228.8" cy="964.2" r="2.4"/><circle cx="243.5" cy="930.3" r="2.4"/><circle cx="250.3" cy="970.5" r="2.4"/><circle cx="262.8" cy="986.2" r="2.4"/><circle cx="268.6" cy="956.7" r="2.4"/><circle cx="273.2" cy="971.9" r="2.4"/><circle cx="278.7" cy="987.5" r="2.4"/><circle cx="285.5" cy="957.8" r="2.4"/><circle cx="295.8" cy="953.9" r="2.4"/><circle cx="328.2" cy="909.2" r="2.4"/><circle cx="333.3" cy="926.4" r="2.4"/><circle cx="337.0" cy="944.8" r="2.4"/><circle cx="342.2" cy="955.8" r="2.4"/><circle cx="350.8" cy="980.7" r="2.4"/><circle cx="352.1" cy="959.4" r="2.4"/><circle cx="358.1" cy="970.5" r="2.4"/><circle cx="362.7" cy="972.3" r="2.4"/><circle cx="364.9" cy="969.7" r="2.4"/><circle cx="376.5" cy="918.3" r="2.4"/><circle cx="384.4" cy="984.8" r="2.4"/><circle cx="388.0" cy="977.4" r="2.4"/><circle cx="397.2" cy="963.7" r="2.4"/><circle cx="400.3" cy="958.2" r="2.4"/><circle cx="405.5" cy="943.1" r="2.4"/><circle cx="408.9" cy="952.1" r="2.4"/><circle cx="411.9" cy="970.5" r="2.4"/><circle cx="415.0" cy="968.6" r="2.4"/><circle cx="421.4" cy="963.1" r="2.4"/><circle cx="424.2" cy="952.7" r="2.4"/><circle cx="426.0" cy="959.1" r="2.4"/><circle cx="429.7" cy="968.6" r="2.4"/><circle cx="435.2" cy="986.6" r="2.4"/><circle cx="435.7" cy="991.7" r="2.4"/><circle cx="444.4" cy="943.1" r="2.4"/><circle cx="450.4" cy="995.8" r="2.4"/><circle cx="455.4" cy="927.5" r="2.4"/><circle cx="457.8" cy="948.4" r="2.4"/><circle cx="462.7" cy="957.2" r="2.4"/><circle cx="465.1" cy="963.1" r="2.4"/><circle cx="468.2" cy="955.0" r="2.4"/><circle cx="475.0" cy="979.6" r="2.4"/><circle cx="480.1" cy="963.1" r="2.4"/><circle cx="482.9" cy="959.1" r="2.4"/><circle cx="486.0" cy="953.9" r="2.4"/><circle cx="488.4" cy="948.4" r="2.4"/><circle cx="493.3" cy="948.4" r="2.4"/><circle cx="496.7" cy="968.6" r="2.4"/><circle cx="501.8" cy="987.0" r="2.4"/><circle cx="506.7" cy="993.4" r="2.4"/><circle cx="511.0" cy="975.0" r="2.4"/><circle cx="518.8" cy="975.4" r="2.4"/><circle cx="519.5" cy="967.1" r="2.4"/><circle cx="520.6" cy="940.5" r="2.4"/><circle cx="523.2" cy="948.8" r="2.4"/><circle cx="526.9" cy="963.4" r="2.4"/><circle cx="528.3" cy="943.3" r="2.4"/><circle cx="531.7" cy="954.3" r="2.4"/><circle cx="532.4" cy="960.7" r="2.4"/><circle cx="534.8" cy="973.0" r="2.4"/><circle cx="537.9" cy="964.9" r="2.4"/><circle cx="540.8" cy="970.4" r="2.4"/><circle cx="546.3" cy="984.5" r="2.4"/><circle cx="547.6" cy="963.1" r="2.4"/><circle cx="551.3" cy="977.8" r="2.4"/><circle cx="559.5" cy="977.2" r="2.4"/><circle cx="561.9" cy="961.6" r="2.4"/><circle cx="568.7" cy="966.7" r="2.4"/><circle cx="574.2" cy="924.4" r="2.4"/><circle cx="578.8" cy="943.6" r="2.4"/><circle cx="586.1" cy="949.7" r="2.4"/><circle cx="591.7" cy="938.1" r="2.4"/><circle cx="599.0" cy="920.7" r="2.4"/><circle cx="601.7" cy="908.9" r="2.4"/><circle cx="608.5" cy="873.5" r="2.4"/><circle cx="611.5" cy="994.6" r="2.4"/><circle cx="614.6" cy="842.3" r="2.4"/><circle cx="620.1" cy="949.7" r="2.4"/><circle cx="621.6" cy="953.9" r="2.4"/><circle cx="626.5" cy="905.1" r="2.4"/><circle cx="630.2" cy="962.9" r="2.4"/><circle cx="638.4" cy="974.8" r="2.4"/><circle cx="641.2" cy="947.8" r="2.4"/><circle cx="648.9" cy="946.6" r="2.4"/><circle cx="654.4" cy="948.8" r="2.4"/><circle cx="655.9" cy="928.0" r="2.4"/><circle cx="661.4" cy="945.1" r="2.4"/><circle cx="666.9" cy="911.7" r="2.4"/><circle cx="672.4" cy="950.2" r="2.4"/><circle cx="682.5" cy="890.4" r="2.4"/><circle cx="685.6" cy="911.7" r="2.4"/><circle cx="691.7" cy="903.4" r="2.4"/><circle cx="696.8" cy="927.3" r="2.4"/><circle cx="700.8" cy="937.2" r="2.4"/><circle cx="706.0" cy="954.3" r="2.4"/><circle cx="712.0" cy="959.2" r="2.4"/><circle cx="718.2" cy="919.8" r="2.4"/><circle cx="732.2" cy="900.7" r="2.4"/><circle cx="736.2" cy="954.3" r="2.4"/><circle cx="742.6" cy="924.9" r="2.4"/><circle cx="745.7" cy="911.1" r="2.4"/><circle cx="754.0" cy="963.4" r="2.4"/><circle cx="757.7" cy="909.9" r="2.4"/><circle cx="763.3" cy="933.2" r="2.4"/><circle cx="769.2" cy="946.4" r="2.4"/><circle cx="779.3" cy="952.8" r="2.4"/><circle cx="783.9" cy="970.4" r="2.4"/><circle cx="794.0" cy="961.2" r="2.4"/><circle cx="805.0" cy="968.9" r="2.4"/><circle cx="809.0" cy="964.7" r="2.4"/><circle cx="816.9" cy="962.9" r="2.4"/><circle cx="826.1" cy="951.0" r="2.4"/><circle cx="831.6" cy="930.8" r="2.4"/><circle cx="838.0" cy="935.0" r="2.4"/><circle cx="842.2" cy="960.1" r="2.4"/><circle cx="846.7" cy="929.1" r="2.4"/><circle cx="853.3" cy="939.6" r="2.4"/><circle cx="861.9" cy="900.5" r="2.4"/><circle cx="867.8" cy="905.3" r="2.4"/><circle cx="872.9" cy="909.3" r="2.4"/><circle cx="875.6" cy="935.0" r="2.4"/><circle cx="884.4" cy="953.9" r="2.4"/><circle cx="895.8" cy="957.6" r="2.4"/><circle cx="906.6" cy="957.9" r="2.4"/><circle cx="906.6" cy="965.7" r="2.4"/><circle cx="907.3" cy="975.3" r="2.4"/><circle cx="913.1" cy="952.7" r="2.4"/><circle cx="918.3" cy="941.7" r="2.4"/><circle cx="925.8" cy="996.2" r="2.4"/><circle cx="929.3" cy="963.6" r="2.4"/><circle cx="944.4" cy="950.4" r="2.4"/><circle cx="951.9" cy="934.7" r="2.4"/><circle cx="955.8" cy="964.9" r="2.4"/><circle cx="962.2" cy="956.1" r="2.4"/><circle cx="967.6" cy="949.2" r="2.4"/><circle cx="1005.5" cy="943.1" r="2.4"/><circle cx="1011.2" cy="950.4" r="2.4"/><circle cx="1018.2" cy="953.9" r="2.4"/><circle cx="1029.0" cy="938.7" r="2.4"/><circle cx="1032.8" cy="964.0" r="2.4"/><circle cx="1039.4" cy="948.0" r="2.4"/><circle cx="1044.3" cy="965.4" r="2.4"/><circle cx="131.0" cy="993.4" r="2.4"/><circle cx="136.1" cy="953.6" r="2.4"/><circle cx="144.8" cy="990.3" r="2.4"/><circle cx="148.8" cy="949.5" r="2.4"/><circle cx="156.7" cy="954.5" r="2.4"/><circle cx="170.5" cy="913.2" r="2.4"/><circle cx="192.5" cy="977.4" r="2.4"/><circle cx="197.4" cy="996.7" r="2.4"/><circle cx="208.6" cy="986.2" r="2.4"/><circle cx="211.7" cy="967.3" r="2.4"/><circle cx="219.1" cy="985.7" r="2.4"/><circle cx="223.3" cy="964.6" r="2.4"/><circle cx="228.8" cy="989.4" r="2.4"/><circle cx="243.5" cy="952.7" r="2.4"/><circle cx="250.3" cy="997.6" r="2.4"/><circle cx="262.8" cy="987.5" r="2.4"/><circle cx="268.6" cy="973.8" r="2.4"/><circle cx="273.2" cy="960.6" r="2.4"/><circle cx="277.2" cy="1001.3" r="2.4"/><circle cx="278.7" cy="971.9" r="2.4"/><circle cx="285.5" cy="979.6" r="2.4"/><circle cx="295.8" cy="1007.7" r="2.4"/><circle cx="302.6" cy="950.5" r="2.4"/><circle cx="309.9" cy="940.7" r="2.4"/><circle cx="325.1" cy="929.7" r="2.4"/><circle cx="328.2" cy="925.7" r="2.4"/><circle cx="337.0" cy="953.6" r="2.4"/><circle cx="342.2" cy="973.4" r="2.4"/><circle cx="350.8" cy="998.9" r="2.4"/><circle cx="352.1" cy="941.7" r="2.4"/><circle cx="358.1" cy="958.5" r="2.4"/><circle cx="362.3" cy="983.3" r="2.4"/><circle cx="364.9" cy="907.3" r="2.4"/><circle cx="376.5" cy="950.5" r="2.4"/><circle cx="385.6" cy="971.0" r="2.4"/><circle cx="388.4" cy="971.9" r="2.4"/><circle cx="397.2" cy="949.5" r="2.4"/><circle cx="400.3" cy="949.5" r="2.4"/><circle cx="404.0" cy="906.2" r="2.4"/><circle cx="405.8" cy="943.5" r="2.4"/><circle cx="411.9" cy="918.3" r="2.4"/><circle cx="415.0" cy="975.2" r="2.4"/><circle cx="421.4" cy="954.5" r="2.4"/><circle cx="424.2" cy="938.9" r="2.4"/><circle cx="426.0" cy="911.0" r="2.4"/><circle cx="429.7" cy="976.0" r="2.4"/><circle cx="435.2" cy="973.8" r="2.4"/><circle cx="436.1" cy="1007.7" r="2.4"/><circle cx="444.4" cy="967.9" r="2.4"/><circle cx="448.0" cy="966.4" r="2.4"/><circle cx="455.4" cy="958.2" r="2.4"/><circle cx="457.8" cy="955.0" r="2.4"/><circle cx="462.7" cy="952.1" r="2.4"/><circle cx="465.1" cy="949.0" r="2.4"/><circle cx="468.6" cy="919.1" r="2.4"/><circle cx="475.0" cy="989.4" r="2.4"/><circle cx="482.9" cy="975.2" r="2.4"/><circle cx="486.0" cy="993.4" r="2.4"/><circle cx="493.0" cy="927.0" r="2.4"/><circle cx="496.7" cy="928.8" r="2.4"/><circle cx="501.8" cy="969.7" r="2.4"/><circle cx="506.7" cy="998.5" r="2.4"/><circle cx="511.0" cy="990.3" r="2.4"/><circle cx="518.3" cy="995.9" r="2.4"/><circle cx="519.5" cy="986.4" r="2.4"/><circle cx="521.0" cy="977.2" r="2.4"/><circle cx="523.2" cy="905.6" r="2.4"/><circle cx="526.9" cy="995.0" r="2.4"/><circle cx="528.0" cy="884.9" r="2.4"/><circle cx="531.7" cy="933.2" r="2.4"/><circle cx="534.2" cy="962.5" r="2.4"/><circle cx="537.9" cy="892.2" r="2.4"/><circle cx="540.8" cy="885.5" r="2.4"/><circle cx="546.3" cy="1021.6" r="2.4"/><circle cx="547.6" cy="992.8" r="2.4"/><circle cx="551.3" cy="964.4" r="2.4"/><circle cx="559.5" cy="972.6" r="2.4"/><circle cx="562.3" cy="962.5" r="2.4"/><circle cx="568.7" cy="942.3" r="2.4"/><circle cx="574.6" cy="953.3" r="2.4"/><circle cx="578.8" cy="947.3" r="2.4"/><circle cx="586.1" cy="981.2" r="2.4"/><circle cx="591.7" cy="903.3" r="2.4"/><circle cx="599.0" cy="924.9" r="2.4"/><circle cx="601.7" cy="924.0" r="2.4"/><circle cx="608.5" cy="863.1" r="2.4"/><circle cx="611.8" cy="1026.7" r="2.4"/><circle cx="614.6" cy="875.4" r="2.4"/><circle cx="620.1" cy="914.8" r="2.4"/><circle cx="626.5" cy="894.6" r="2.4"/><circle cx="630.2" cy="900.1" r="2.4"/><circle cx="638.4" cy="961.6" r="2.4"/><circle cx="641.2" cy="938.7" r="2.4"/><circle cx="648.9" cy="963.8" r="2.4"/><circle cx="654.4" cy="875.0" r="2.4"/><circle cx="655.9" cy="980.0" r="2.4"/><circle cx="661.4" cy="973.5" r="2.4"/><circle cx="666.9" cy="901.1" r="2.4"/><circle cx="672.4" cy="935.0" r="2.4"/><circle cx="682.5" cy="916.3" r="2.4"/><circle cx="685.6" cy="920.9" r="2.4"/><circle cx="691.7" cy="895.0" r="2.4"/><circle cx="696.8" cy="898.3" r="2.4"/><circle cx="700.8" cy="926.7" r="2.4"/><circle cx="706.0" cy="954.3" r="2.4"/><circle cx="712.0" cy="968.9" r="2.4"/><circle cx="718.2" cy="946.6" r="2.4"/><circle cx="721.5" cy="974.4" r="2.4"/><circle cx="732.2" cy="884.2" r="2.4"/><circle cx="736.2" cy="914.4" r="2.4"/><circle cx="742.6" cy="951.0" r="2.4"/><circle cx="745.7" cy="924.9" r="2.4"/><circle cx="757.7" cy="923.1" r="2.4"/><circle cx="763.3" cy="954.3" r="2.4"/><circle cx="769.2" cy="963.8" r="2.4"/><circle cx="779.3" cy="930.4" r="2.4"/><circle cx="783.9" cy="970.4" r="2.4"/><circle cx="794.0" cy="932.6" r="2.4"/><circle cx="805.0" cy="929.9" r="2.4"/><circle cx="809.0" cy="983.3" r="2.4"/><circle cx="816.9" cy="966.7" r="2.4"/><circle cx="826.1" cy="987.3" r="2.4"/><circle cx="831.6" cy="943.3" r="2.4"/><circle cx="838.0" cy="941.4" r="2.4"/><circle cx="842.2" cy="975.7" r="2.4"/><circle cx="846.7" cy="958.3" r="2.4"/><circle cx="853.3" cy="941.8" r="2.4"/><circle cx="861.9" cy="927.7" r="2.4"/><circle cx="867.8" cy="928.2" r="2.4"/><circle cx="872.9" cy="915.4" r="2.4"/><circle cx="875.6" cy="920.3" r="2.4"/><circle cx="884.4" cy="969.3" r="2.4"/><circle cx="895.8" cy="1001.1" r="2.4"/><circle cx="907.3" cy="988.0" r="2.4"/><circle cx="913.1" cy="986.7" r="2.4"/><circle cx="918.3" cy="930.5" r="2.4"/><circle cx="925.8" cy="995.0" r="2.4"/><circle cx="929.3" cy="979.3" r="2.4"/><circle cx="944.1" cy="923.9" r="2.4"/><circle cx="951.9" cy="950.4" r="2.4"/><circle cx="955.8" cy="930.9" r="2.4"/><circle cx="962.2" cy="864.3" r="2.4"/><circle cx="967.6" cy="985.3" r="2.4"/><circle cx="1005.5" cy="949.2" r="2.4"/><circle cx="1011.2" cy="978.8" r="2.4"/><circle cx="1018.2" cy="956.7" r="2.4"/><circle cx="1029.0" cy="913.8" r="2.4"/><circle cx="1032.8" cy="970.6" r="2.4"/><circle cx="1039.4" cy="959.1" r="2.4"/><circle cx="1044.3" cy="977.9" r="2.4"/><circle cx="309.9" cy="963.3" r="2.4"/></g>
<polyline points="131.0,954.5 136.1,933.9 144.8,986.6 148.4,930.6 156.7,971.0 170.5,948.1 192.5,976.0 197.4,999.8 208.1,980.2 211.7,960.0 219.1,981.1 223.3,960.9 228.8,964.2 243.5,930.3 250.3,970.5 262.8,986.2 268.6,956.7 273.2,971.9 278.7,987.5 285.5,957.8 295.8,953.9" fill="none" stroke="#1cc0c4" stroke-width="1.5" stroke-linejoin="round" stroke-linecap="round"/>
<polyline points="328.2,909.2 333.3,926.4 337.0,944.8 342.2,955.8 350.8,980.7 352.1,959.4 358.1,970.5 362.7,972.3 364.9,969.7 376.5,918.3 384.4,984.8 388.0,977.4 397.2,963.7 400.3,958.2 405.5,943.1 408.9,952.1 411.9,970.5 415.0,968.6 421.4,963.1 424.2,952.7 426.0,959.1 429.7,968.6 435.2,986.6 435.7,991.7 444.4,943.1 450.4,995.8 455.4,927.5 457.8,948.4 462.7,957.2 465.1,963.1 468.2,955.0 475.0,979.6 480.1,963.1 482.9,959.1 486.0,953.9 488.4,948.4 493.3,948.4 496.7,968.6 501.8,987.0 506.7,993.4 511.0,975.0 518.8,975.4 519.5,967.1 520.6,940.5 523.2,948.8 526.9,963.4 528.3,943.3 531.7,954.3 532.4,960.7 534.8,973.0 537.9,964.9 540.8,970.4 546.3,984.5 547.6,963.1 551.3,977.8 559.5,977.2 561.9,961.6 568.7,966.7 574.2,924.4 578.8,943.6 586.1,949.7 591.7,938.1 599.0,920.7 601.7,908.9 608.5,873.5 611.5,994.6 614.6,842.3 620.1,949.7 621.6,953.9 626.5,905.1 630.2,962.9 638.4,974.8 641.2,947.8 648.9,946.6 654.4,948.8 655.9,928.0 661.4,945.1 666.9,911.7 672.4,950.2 682.5,890.4 685.6,911.7 691.7,903.4 696.8,927.3 700.8,937.2 706.0,954.3 712.0,959.2 718.2,919.8 732.2,900.7 736.2,954.3 742.6,924.9 745.7,911.1 754.0,963.4 757.7,909.9 763.3,933.2 769.2,946.4 779.3,952.8 783.9,970.4 794.0,961.2 805.0,968.9 809.0,964.7 816.9,962.9 826.1,951.0 831.6,930.8 838.0,935.0 842.2,960.1 846.7,929.1 853.3,939.6 861.9,900.5 867.8,905.3 872.9,909.3 875.6,935.0 884.4,953.9 895.8,957.6 906.6,957.9 906.6,965.7 907.3,975.3 913.1,952.7 918.3,941.7 925.8,996.2 929.3,963.6 944.4,950.4 951.9,934.7 955.8,964.9 962.2,956.1 967.6,949.2 1005.5,943.1 1011.2,950.4 1018.2,953.9 1029.0,938.7 1032.8,964.0 1039.4,948.0 1044.3,965.4" fill="none" stroke="#1cc0c4" stroke-width="1.5" stroke-linejoin="round" stroke-linecap="round"/>
<polyline points="131.0,993.4 136.1,953.6 144.8,990.3 148.8,949.5 156.7,954.5 170.5,913.2 192.5,977.4 197.4,996.7 208.6,986.2 211.7,967.3 219.1,985.7 223.3,964.6 228.8,989.4 243.5,952.7 250.3,997.6 262.8,987.5 268.6,973.8 273.2,960.6 277.2,1001.3 278.7,971.9 285.5,979.6 295.8,1007.7 302.6,950.5 309.9,940.7 325.1,929.7 328.2,925.7 337.0,953.6 342.2,973.4 350.8,998.9 352.1,941.7 358.1,958.5 362.3,983.3 364.9,907.3 376.5,950.5 385.6,971.0 388.4,971.9 397.2,949.5 400.3,949.5 404.0,906.2 405.8,943.5 411.9,918.3 415.0,975.2 421.4,954.5 424.2,938.9 426.0,911.0 429.7,976.0 435.2,973.8 436.1,1007.7 444.4,967.9 448.0,966.4 455.4,958.2 457.8,955.0 462.7,952.1 465.1,949.0 468.6,919.1 475.0,989.4 482.9,975.2 486.0,993.4 493.0,927.0 496.7,928.8 501.8,969.7 506.7,998.5 511.0,990.3 518.3,995.9 519.5,986.4 521.0,977.2 523.2,905.6 526.9,995.0 528.0,884.9 531.7,933.2 534.2,962.5 537.9,892.2 540.8,885.5 546.3,1021.6 547.6,992.8 551.3,964.4 559.5,972.6 562.3,962.5 568.7,942.3 574.6,953.3 578.8,947.3 586.1,981.2 591.7,903.3 599.0,924.9 601.7,924.0 608.5,863.1 611.8,1026.7 614.6,875.4 620.1,914.8 626.5,894.6 630.2,900.1 638.4,961.6 641.2,938.7 648.9,963.8 654.4,875.0 655.9,980.0 661.4,973.5 666.9,901.1 672.4,935.0 682.5,916.3 685.6,920.9 691.7,895.0 696.8,898.3 700.8,926.7 706.0,954.3 712.0,968.9 718.2,946.6 721.5,974.4 732.2,884.2 736.2,914.4 742.6,951.0 745.7,924.9 757.7,923.1 763.3,954.3 769.2,963.8 779.3,930.4 783.9,970.4 794.0,932.6 805.0,929.9 809.0,983.3 816.9,966.7 826.1,987.3 831.6,943.3 838.0,941.4 842.2,975.7 846.7,958.3 853.3,941.8 861.9,927.7 867.8,928.2 872.9,915.4 875.6,920.3 884.4,969.3 895.8,1001.1 907.3,988.0 913.1,986.7 918.3,930.5 925.8,995.0 929.3,979.3 944.1,923.9 951.9,950.4 955.8,930.9 962.2,864.3 967.6,985.3 1005.5,949.2 1011.2,978.8 1018.2,956.7 1029.0,913.8 1032.8,970.6 1039.4,959.1 1044.3,977.9" fill="none" stroke="#f4766e" stroke-width="1.0" stroke-linejoin="round" stroke-linecap="round"/>
<g fill="#000"><circle cx="131.0" cy="1159.0" r="2.4"/><circle cx="136.1" cy="1174.8" r="2.4"/><circle cx="144.8" cy="1126.5" r="2.4"/><circle cx="148.4" cy="1218.3" r="2.4"/><circle cx="156.7" cy="1148.0" r="2.4"/><circle cx="170.5" cy="1182.0" r="2.4"/><circle cx="192.5" cy="1188.0" r="2.4"/><circle cx="197.6" cy="1146.7" r="2.4"/><circle cx="208.6" cy="1150.9" r="2.4"/><circle cx="211.7" cy="1170.2" r="2.4"/><circle cx="219.1" cy="1147.3" r="2.4"/><circle cx="223.3" cy="1182.9" r="2.4"/><circle cx="228.8" cy="1181.6" r="2.4"/><circle cx="243.5" cy="1169.7" r="2.4"/><circle cx="250.3" cy="1173.7" r="2.4"/><circle cx="262.8" cy="1146.2" r="2.4"/><circle cx="268.6" cy="1240.3" r="2.4"/><circle cx="273.2" cy="1184.9" r="2.4"/><circle cx="278.7" cy="1150.4" r="2.4"/><circle cx="285.5" cy="1186.5" r="2.4"/><circle cx="295.8" cy="1166.9" r="2.4"/><circle cx="328.2" cy="1232.6" r="2.4"/><circle cx="333.3" cy="1209.1" r="2.4"/><circle cx="337.0" cy="1191.7" r="2.4"/><circle cx="342.2" cy="1177.6" r="2.4"/><circle cx="350.8" cy="1175.5" r="2.4"/><circle cx="352.1" cy="1186.7" r="2.4"/><circle cx="358.1" cy="1182.0" r="2.4"/><circle cx="362.3" cy="1167.8" r="2.4"/><circle cx="364.9" cy="1169.3" r="2.4"/><circle cx="376.5" cy="1253.1" r="2.4"/><circle cx="384.4" cy="1148.6" r="2.4"/><circle cx="388.0" cy="1156.4" r="2.4"/><circle cx="397.2" cy="1183.8" r="2.4"/><circle cx="400.3" cy="1182.0" r="2.4"/><circle cx="404.0" cy="1192.0" r="2.4"/><circle cx="405.5" cy="1201.4" r="2.4"/><circle cx="409.1" cy="1184.3" r="2.4"/><circle cx="411.9" cy="1176.1" r="2.4"/><circle cx="415.0" cy="1176.1" r="2.4"/><circle cx="421.4" cy="1181.2" r="2.4"/><circle cx="424.2" cy="1174.2" r="2.4"/><circle cx="429.7" cy="1171.5" r="2.4"/><circle cx="435.2" cy="1153.7" r="2.4"/><circle cx="435.7" cy="1161.0" r="2.4"/><circle cx="444.4" cy="1217.4" r="2.4"/><circle cx="447.5" cy="1177.9" r="2.4"/><circle cx="450.8" cy="1145.8" r="2.4"/><circle cx="455.4" cy="1267.8" r="2.4"/><circle cx="457.8" cy="1213.7" r="2.4"/><circle cx="462.7" cy="1179.8" r="2.4"/><circle cx="465.5" cy="1180.7" r="2.4"/><circle cx="468.2" cy="1180.7" r="2.4"/><circle cx="475.0" cy="1168.7" r="2.4"/><circle cx="480.1" cy="1175.5" r="2.4"/><circle cx="482.9" cy="1183.8" r="2.4"/><circle cx="486.0" cy="1202.1" r="2.4"/><circle cx="488.4" cy="1197.2" r="2.4"/><circle cx="493.3" cy="1208.2" r="2.4"/><circle cx="496.7" cy="1199.0" r="2.4"/><circle cx="501.8" cy="1157.2" r="2.4"/><circle cx="506.7" cy="1144.0" r="2.4"/><circle cx="511.0" cy="1155.0" r="2.4"/><circle cx="518.8" cy="1172.0" r="2.4"/><circle cx="520.6" cy="1186.2" r="2.4"/><circle cx="523.2" cy="1181.2" r="2.4"/><circle cx="526.9" cy="1179.4" r="2.4"/><circle cx="528.3" cy="1186.7" r="2.4"/><circle cx="531.7" cy="1186.7" r="2.4"/><circle cx="532.4" cy="1180.7" r="2.4"/><circle cx="534.8" cy="1173.3" r="2.4"/><circle cx="537.9" cy="1201.8" r="2.4"/><circle cx="540.8" cy="1193.0" r="2.4"/><circle cx="546.3" cy="1166.9" r="2.4"/><circle cx="547.6" cy="1188.6" r="2.4"/><circle cx="551.3" cy="1187.1" r="2.4"/><circle cx="559.5" cy="1178.8" r="2.4"/><circle cx="562.3" cy="1181.2" r="2.4"/><circle cx="568.7" cy="1169.7" r="2.4"/><circle cx="574.6" cy="1198.1" r="2.4"/><circle cx="578.8" cy="1172.8" r="2.4"/><circle cx="586.1" cy="1177.0" r="2.4"/><circle cx="592.0" cy="1201.4" r="2.4"/><circle cx="599.4" cy="1192.6" r="2.4"/><circle cx="601.7" cy="1193.0" r="2.4"/><circle cx="608.7" cy="1221.4" r="2.4"/><circle cx="611.8" cy="1134.8" r="2.4"/><circle cx="614.6" cy="1231.5" r="2.4"/><circle cx="620.1" cy="1182.5" r="2.4"/><circle cx="621.9" cy="1190.8" r="2.4"/><circle cx="626.5" cy="1236.6" r="2.4"/><circle cx="630.6" cy="1190.8" r="2.4"/><circle cx="638.4" cy="1154.4" r="2.4"/><circle cx="641.2" cy="1183.4" r="2.4"/><circle cx="648.9" cy="1188.6" r="2.4"/><circle cx="654.4" cy="1198.5" r="2.4"/><circle cx="655.9" cy="1194.4" r="2.4"/><circle cx="661.4" cy="1209.5" r="2.4"/><circle cx="667.2" cy="1202.1" r="2.4"/><circle cx="672.4" cy="1177.9" r="2.4"/><circle cx="682.5" cy="1233.3" r="2.4"/><circle cx="685.6" cy="1206.4" r="2.4"/><circle cx="691.7" cy="1237.9" r="2.4"/><circle cx="696.8" cy="1206.4" r="2.4"/><circle cx="700.8" cy="1198.5" r="2.4"/><circle cx="706.0" cy="1176.1" r="2.4"/><circle cx="712.0" cy="1178.8" r="2.4"/><circle cx="718.2" cy="1186.2" r="2.4"/><circle cx="732.2" cy="1216.8" r="2.4"/><circle cx="736.2" cy="1178.5" r="2.4"/><circle cx="742.6" cy="1231.1" r="2.4"/><circle cx="745.7" cy="1213.7" r="2.4"/><circle cx="753.6" cy="1154.1" r="2.4"/><circle cx="757.7" cy="1243.1" r="2.4"/><circle cx="763.3" cy="1188.0" r="2.4"/><circle cx="768.9" cy="1190.4" r="2.4"/><circle cx="779.3" cy="1179.4" r="2.4"/><circle cx="783.9" cy="1160.5" r="2.4"/><circle cx="794.0" cy="1159.0" r="2.4"/><circle cx="804.6" cy="1147.3" r="2.4"/><circle cx="809.0" cy="1165.1" r="2.4"/><circle cx="816.9" cy="1159.6" r="2.4"/><circle cx="826.1" cy="1182.9" r="2.4"/><circle cx="831.2" cy="1185.3" r="2.4"/><circle cx="838.0" cy="1197.2" r="2.4"/><circle cx="842.2" cy="1192.0" r="2.4"/><circle cx="846.7" cy="1184.7" r="2.4"/><circle cx="853.3" cy="1177.9" r="2.4"/><circle cx="861.5" cy="1204.9" r="2.4"/><circle cx="867.4" cy="1216.8" r="2.4"/><circle cx="872.9" cy="1209.5" r="2.4"/><circle cx="875.6" cy="1185.3" r="2.4"/><circle cx="884.4" cy="1175.5" r="2.4"/><circle cx="895.8" cy="1167.8" r="2.4"/><circle cx="907.0" cy="1178.1" r="2.4"/><circle cx="907.3" cy="1167.6" r="2.4"/><circle cx="913.1" cy="1197.3" r="2.4"/><circle cx="918.3" cy="1185.9" r="2.4"/><circle cx="925.8" cy="1124.9" r="2.4"/><circle cx="929.3" cy="1148.8" r="2.4"/><circle cx="944.1" cy="1181.6" r="2.4"/><circle cx="952.3" cy="1180.2" r="2.4"/><circle cx="955.8" cy="1172.0" r="2.4"/><circle cx="962.2" cy="1208.6" r="2.4"/><circle cx="967.6" cy="1164.5" r="2.4"/><circle cx="1005.5" cy="1183.0" r="2.4"/><circle cx="1011.2" cy="1168.9" r="2.4"/><circle cx="1018.2" cy="1173.2" r="2.4"/><circle cx="1029.0" cy="1199.4" r="2.4"/><circle cx="1032.8" cy="1155.8" r="2.4"/><circle cx="1039.4" cy="1176.0" r="2.4"/><circle cx="1044.3" cy="1142.4" r="2.4"/><circle cx="131.0" cy="1123.8" r="2.4"/><circle cx="136.1" cy="1162.7" r="2.4"/><circle cx="144.8" cy="1089.8" r="2.4"/><circle cx="148.4" cy="1160.9" r="2.4"/><circle cx="156.7" cy="1164.5" r="2.4"/><circle cx="170.5" cy="1164.5" r="2.4"/><circle cx="192.5" cy="1180.1" r="2.4"/><circle cx="197.6" cy="1199.6" r="2.4"/><circle cx="208.6" cy="1169.1" r="2.4"/><circle cx="211.7" cy="1190.2" r="2.4"/><circle cx="219.1" cy="1161.8" r="2.4"/><circle cx="223.3" cy="1190.2" r="2.4"/><circle cx="228.8" cy="1152.2" r="2.4"/><circle cx="243.5" cy="1158.7" r="2.4"/><circle cx="250.3" cy="1165.1" r="2.4"/><circle cx="262.8" cy="1152.2" r="2.4"/><circle cx="268.6" cy="1188.6" r="2.4"/><circle cx="273.2" cy="1229.3" r="2.4"/><circle cx="277.2" cy="1112.4" r="2.4"/><circle cx="277.8" cy="1161.4" r="2.4"/><circle cx="285.5" cy="1183.1" r="2.4"/><circle cx="295.8" cy="1131.7" r="2.4"/><circle cx="302.6" cy="1166.9" r="2.4"/><circle cx="309.9" cy="1207.3" r="2.4"/><circle cx="325.1" cy="1211.9" r="2.4"/><circle cx="328.2" cy="1205.8" r="2.4"/><circle cx="333.3" cy="1256.8" r="2.4"/><circle cx="337.0" cy="1190.8" r="2.4"/><circle cx="342.2" cy="1177.6" r="2.4"/><circle cx="350.8" cy="1162.7" r="2.4"/><circle cx="352.1" cy="1208.7" r="2.4"/><circle cx="358.1" cy="1199.9" r="2.4"/><circle cx="362.3" cy="1162.3" r="2.4"/><circle cx="364.9" cy="1185.6" r="2.4"/><circle cx="376.5" cy="1206.9" r="2.4"/><circle cx="384.4" cy="1197.2" r="2.4"/><circle cx="388.0" cy="1231.1" r="2.4"/><circle cx="397.2" cy="1250.4" r="2.4"/><circle cx="400.3" cy="1229.3" r="2.4"/><circle cx="404.0" cy="1238.5" r="2.4"/><circle cx="405.5" cy="1266.9" r="2.4"/><circle cx="409.1" cy="1166.9" r="2.4"/><circle cx="411.9" cy="1175.5" r="2.4"/><circle cx="415.0" cy="1158.1" r="2.4"/><circle cx="421.4" cy="1181.2" r="2.4"/><circle cx="424.2" cy="1174.2" r="2.4"/><circle cx="426.0" cy="1194.4" r="2.4"/><circle cx="429.7" cy="1148.6" r="2.4"/><circle cx="435.2" cy="1174.6" r="2.4"/><circle cx="435.7" cy="1128.0" r="2.4"/><circle cx="444.4" cy="1157.7" r="2.4"/><circle cx="448.0" cy="1210.4" r="2.4"/><circle cx="450.8" cy="1128.0" r="2.4"/><circle cx="455.4" cy="1224.7" r="2.4"/><circle cx="457.8" cy="1226.0" r="2.4"/><circle cx="462.7" cy="1168.7" r="2.4"/><circle cx="465.5" cy="1200.3" r="2.4"/><circle cx="468.2" cy="1215.9" r="2.4"/><circle cx="475.0" cy="1177.0" r="2.4"/><circle cx="480.1" cy="1163.6" r="2.4"/><circle cx="482.9" cy="1215.9" r="2.4"/><circle cx="486.0" cy="1184.7" r="2.4"/><circle cx="488.4" cy="1206.4" r="2.4"/><circle cx="493.3" cy="1209.1" r="2.4"/><circle cx="496.7" cy="1223.8" r="2.4"/><circle cx="501.8" cy="1221.0" r="2.4"/><circle cx="506.7" cy="1105.4" r="2.4"/><circle cx="511.0" cy="1103.2" r="2.4"/><circle cx="518.8" cy="1139.4" r="2.4"/><circle cx="519.7" cy="1133.0" r="2.4"/><circle cx="523.2" cy="1218.3" r="2.4"/><circle cx="526.9" cy="1159.9" r="2.4"/><circle cx="528.3" cy="1219.8" r="2.4"/><circle cx="534.8" cy="1162.9" r="2.4"/><circle cx="537.9" cy="1225.3" r="2.4"/><circle cx="540.8" cy="1230.6" r="2.4"/><circle cx="546.3" cy="1218.3" r="2.4"/><circle cx="547.6" cy="1198.5" r="2.4"/><circle cx="551.3" cy="1205.4" r="2.4"/><circle cx="559.5" cy="1169.1" r="2.4"/><circle cx="562.3" cy="1165.1" r="2.4"/><circle cx="568.7" cy="1204.0" r="2.4"/><circle cx="574.6" cy="1144.5" r="2.4"/><circle cx="578.8" cy="1131.7" r="2.4"/><circle cx="586.1" cy="1148.2" r="2.4"/><circle cx="592.0" cy="1229.7" r="2.4"/><circle cx="599.4" cy="1189.8" r="2.4"/><circle cx="601.7" cy="1186.2" r="2.4"/><circle cx="608.7" cy="1197.2" r="2.4"/><circle cx="611.8" cy="1099.9" r="2.4"/><circle cx="614.6" cy="1192.0" r="2.4"/><circle cx="620.1" cy="1202.7" r="2.4"/><circle cx="626.5" cy="1218.3" r="2.4"/><circle cx="630.6" cy="1228.9" r="2.4"/><circle cx="638.4" cy="1125.3" r="2.4"/><circle cx="641.2" cy="1155.9" r="2.4"/><circle cx="648.9" cy="1176.1" r="2.4"/><circle cx="654.4" cy="1228.4" r="2.4"/><circle cx="655.9" cy="1203.6" r="2.4"/><circle cx="661.4" cy="1203.6" r="2.4"/><circle cx="667.2" cy="1190.8" r="2.4"/><circle cx="672.4" cy="1193.0" r="2.4"/><circle cx="682.5" cy="1211.3" r="2.4"/><circle cx="685.6" cy="1260.5" r="2.4"/><circle cx="691.7" cy="1244.9" r="2.4"/><circle cx="696.8" cy="1248.9" r="2.4"/><circle cx="700.8" cy="1188.6" r="2.4"/><circle cx="706.0" cy="1176.1" r="2.4"/><circle cx="712.0" cy="1166.0" r="2.4"/><circle cx="718.2" cy="1144.0" r="2.4"/><circle cx="721.5" cy="1130.2" r="2.4"/><circle cx="732.2" cy="1239.4" r="2.4"/><circle cx="736.2" cy="1227.1" r="2.4"/><circle cx="742.6" cy="1214.2" r="2.4"/><circle cx="745.7" cy="1212.8" r="2.4"/><circle cx="753.6" cy="1126.5" r="2.4"/><circle cx="757.7" cy="1243.1" r="2.4"/><circle cx="763.3" cy="1169.7" r="2.4"/><circle cx="768.9" cy="1190.4" r="2.4"/><circle cx="779.3" cy="1180.7" r="2.4"/><circle cx="783.9" cy="1153.7" r="2.4"/><circle cx="794.0" cy="1193.5" r="2.4"/><circle cx="804.6" cy="1181.0" r="2.4"/><circle cx="809.0" cy="1110.6" r="2.4"/><circle cx="816.9" cy="1145.8" r="2.4"/><circle cx="826.1" cy="1147.3" r="2.4"/><circle cx="831.2" cy="1174.6" r="2.4"/><circle cx="838.0" cy="1226.5" r="2.4"/><circle cx="842.2" cy="1204.9" r="2.4"/><circle cx="846.7" cy="1155.3" r="2.4"/><circle cx="853.3" cy="1168.2" r="2.4"/><circle cx="861.5" cy="1184.7" r="2.4"/><circle cx="867.4" cy="1247.6" r="2.4"/><circle cx="872.9" cy="1244.3" r="2.4"/><circle cx="875.6" cy="1234.4" r="2.4"/><circle cx="884.4" cy="1153.7" r="2.4"/><circle cx="895.8" cy="1163.2" r="2.4"/><circle cx="906.6" cy="1191.7" r="2.4"/><circle cx="907.3" cy="1153.3" r="2.4"/><circle cx="913.1" cy="1143.8" r="2.4"/><circle cx="918.3" cy="1200.4" r="2.4"/><circle cx="925.8" cy="1083.1" r="2.4"/><circle cx="929.3" cy="1099.3" r="2.4"/><circle cx="944.1" cy="1209.0" r="2.4"/><circle cx="952.3" cy="1192.0" r="2.4"/><circle cx="955.8" cy="1168.9" r="2.4"/><circle cx="962.2" cy="1226.9" r="2.4"/><circle cx="967.6" cy="1134.2" r="2.4"/><circle cx="1005.5" cy="1182.5" r="2.4"/><circle cx="1011.2" cy="1152.8" r="2.4"/><circle cx="1018.2" cy="1203.4" r="2.4"/><circle cx="1029.0" cy="1236.5" r="2.4"/><circle cx="1032.8" cy="1156.8" r="2.4"/><circle cx="1039.4" cy="1207.4" r="2.4"/><circle cx="1044.3" cy="1104.4" r="2.4"/><circle cx="309.9" cy="1179.4" r="2.4"/></g>
<polyline points="131.0,1159.0 136.1,1174.8 144.8,1126.5 148.4,1218.3 156.7,1148.0 170.5,1182.0 192.5,1188.0 197.6,1146.7 208.6,1150.9 211.7,1170.2 219.1,1147.3 223.3,1182.9 228.8,1181.6 243.5,1169.7 250.3,1173.7 262.8,1146.2 268.6,1240.3 273.2,1184.9 278.7,1150.4 285.5,1186.5 295.8,1166.9" fill="none" stroke="#1cc0c4" stroke-width="1.5" stroke-linejoin="round" stroke-linecap="round"/>
<polyline points="328.2,1232.6 333.3,1209.1 337.0,1191.7 342.2,1177.6 350.8,1175.5 352.1,1186.7 358.1,1182.0 362.3,1167.8 364.9,1169.3 376.5,1253.1 384.4,1148.6 388.0,1156.4 397.2,1183.8 400.3,1182.0 404.0,1192.0 405.5,1201.4 409.1,1184.3 411.9,1176.1 415.0,1176.1 421.4,1181.2 424.2,1174.2 429.7,1171.5 435.2,1153.7 435.7,1161.0 444.4,1217.4 447.5,1177.9 450.8,1145.8 455.4,1267.8 457.8,1213.7 462.7,1179.8 465.5,1180.7 468.2,1180.7 475.0,1168.7 480.1,1175.5 482.9,1183.8 486.0,1202.1 488.4,1197.2 493.3,1208.2 496.7,1199.0 501.8,1157.2 506.7,1144.0 511.0,1155.0 518.8,1172.0 520.6,1186.2 523.2,1181.2 526.9,1179.4 528.3,1186.7 531.7,1186.7 532.4,1180.7 534.8,1173.3 537.9,1201.8 540.8,1193.0 546.3,1166.9 547.6,1188.6 551.3,1187.1 559.5,1178.8 562.3,1181.2 568.7,1169.7 574.6,1198.1 578.8,1172.8 586.1,1177.0 592.0,1201.4 599.4,1192.6 601.7,1193.0 608.7,1221.4 611.8,1134.8 614.6,1231.5 620.1,1182.5 621.9,1190.8 626.5,1236.6 630.6,1190.8 638.4,1154.4 641.2,1183.4 648.9,1188.6 654.4,1198.5 655.9,1194.4 661.4,1209.5 667.2,1202.1 672.4,1177.9 682.5,1233.3 685.6,1206.4 691.7,1237.9 696.8,1206.4 700.8,1198.5 706.0,1176.1 712.0,1178.8 718.2,1186.2 732.2,1216.8 736.2,1178.5 742.6,1231.1 745.7,1213.7 753.6,1154.1 757.7,1243.1 763.3,1188.0 768.9,1190.4 779.3,1179.4 783.9,1160.5 794.0,1159.0 804.6,1147.3 809.0,1165.1 816.9,1159.6 826.1,1182.9 831.2,1185.3 838.0,1197.2 842.2,1192.0 846.7,1184.7 853.3,1177.9 861.5,1204.9 867.4,1216.8 872.9,1209.5 875.6,1185.3 884.4,1175.5 895.8,1167.8 907.0,1178.1 907.3,1167.6 913.1,1197.3 918.3,1185.9 925.8,1124.9 929.3,1148.8 944.1,1181.6 952.3,1180.2 955.8,1172.0 962.2,1208.6 967.6,1164.5 1005.5,1183.0 1011.2,1168.9 1018.2,1173.2 1029.0,1199.4 1032.8,1155.8 1039.4,1176.0 1044.3,1142.4" fill="none" stroke="#1cc0c4" stroke-width="1.5" stroke-linejoin="round" stroke-linecap="round"/>
<polyline points="131.0,1123.8 136.1,1162.7 144.8,1089.8 148.4,1160.9 156.7,1164.5 170.5,1164.5 192.5,1180.1 197.6,1199.6 208.6,1169.1 211.7,1190.2 219.1,1161.8 223.3,1190.2 228.8,1152.2 243.5,1158.7 250.3,1165.1 262.8,1152.2 268.6,1188.6 273.2,1229.3 277.2,1112.4 277.8,1161.4 285.5,1183.1 295.8,1131.7 302.6,1166.9 309.9,1207.3 325.1,1211.9 328.2,1205.8 333.3,1256.8 337.0,1190.8 342.2,1177.6 350.8,1162.7 352.1,1208.7 358.1,1199.9 362.3,1162.3 364.9,1185.6 376.5,1206.9 384.4,1197.2 388.0,1231.1 397.2,1250.4 400.3,1229.3 404.0,1238.5 405.5,1266.9 409.1,1166.9 411.9,1175.5 415.0,1158.1 421.4,1181.2 424.2,1174.2 426.0,1194.4 429.7,1148.6 435.2,1174.6 435.7,1128.0 444.4,1157.7 448.0,1210.4 450.8,1128.0 455.4,1224.7 457.8,1226.0 462.7,1168.7 465.5,1200.3 468.2,1215.9 475.0,1177.0 480.1,1163.6 482.9,1215.9 486.0,1184.7 488.4,1206.4 493.3,1209.1 496.7,1223.8 501.8,1221.0 506.7,1105.4 511.0,1103.2 518.8,1139.4 519.7,1133.0 523.2,1218.3 526.9,1159.9 528.3,1219.8 534.8,1162.9 537.9,1225.3 540.8,1230.6 546.3,1218.3 547.6,1198.5 551.3,1205.4 559.5,1169.1 562.3,1165.1 568.7,1204.0 574.6,1144.5 578.8,1131.7 586.1,1148.2 592.0,1229.7 599.4,1189.8 601.7,1186.2 608.7,1197.2 611.8,1099.9 614.6,1192.0 620.1,1202.7 626.5,1218.3 630.6,1228.9 638.4,1125.3 641.2,1155.9 648.9,1176.1 654.4,1228.4 655.9,1203.6 661.4,1203.6 667.2,1190.8 672.4,1193.0 682.5,1211.3 685.6,1260.5 691.7,1244.9 696.8,1248.9 700.8,1188.6 706.0,1176.1 712.0,1166.0 718.2,1144.0 721.5,1130.2 732.2,1239.4 736.2,1227.1 742.6,1214.2 745.7,1212.8 753.6,1126.5 757.7,1243.1 763.3,1169.7 768.9,1190.4 779.3,1180.7 783.9,1153.7 794.0,1193.5 804.6,1181.0 809.0,1110.6 816.9,1145.8 826.1,1147.3 831.2,1174.6 838.0,1226.5 842.2,1204.9 846.7,1155.3 853.3,1168.2 861.5,1184.7 867.4,1247.6 872.9,1244.3 875.6,1234.4 884.4,1153.7 895.8,1163.2 906.6,1191.7 907.3,1153.3 913.1,1143.8 918.3,1200.4 925.8,1083.1 929.3,1099.3 944.1,1209.0 952.3,1192.0 955.8,1168.9 962.2,1226.9 967.6,1134.2 1005.5,1182.5 1011.2,1152.8 1018.2,1203.4 1029.0,1236.5 1032.8,1156.8 1039.4,1207.4 1044.3,1104.4" fill="none" stroke="#f4766e" stroke-width="1.0" stroke-linejoin="round" stroke-linecap="round"/>
<g fill="#000"><circle cx="131.0" cy="1437.9" r="2.4"/><circle cx="135.9" cy="1449.8" r="2.4"/><circle cx="144.7" cy="1447.1" r="2.4"/><circle cx="148.2" cy="1450.0" r="2.4"/><circle cx="156.8" cy="1459.7" r="2.4"/><circle cx="170.6" cy="1455.3" r="2.4"/><circle cx="192.7" cy="1427.7" r="2.4"/><circle cx="197.5" cy="1450.4" r="2.4"/><circle cx="208.5" cy="1449.3" r="2.4"/><circle cx="211.4" cy="1453.7" r="2.4"/><circle cx="223.5" cy="1323.8" r="2.4"/><circle cx="229.0" cy="1414.7" r="2.4"/><circle cx="243.3" cy="1458.8" r="2.4"/><circle cx="250.3" cy="1445.6" r="2.4"/><circle cx="262.7" cy="1450.9" r="2.4"/><circle cx="268.6" cy="1447.8" r="2.4"/><circle cx="273.5" cy="1448.2" r="2.4"/><circle cx="277.0" cy="1417.8" r="2.4"/><circle cx="278.5" cy="1426.9" r="2.4"/><circle cx="285.1" cy="1479.0" r="2.4"/><circle cx="295.7" cy="1388.3" r="2.4"/><circle cx="302.8" cy="1430.2" r="2.4"/><circle cx="309.8" cy="1441.6" r="2.4"/><circle cx="325.2" cy="1450.0" r="2.4"/><circle cx="328.1" cy="1443.8" r="2.4"/><circle cx="333.1" cy="1446.0" r="2.4"/><circle cx="336.9" cy="1459.2" r="2.4"/><circle cx="342.4" cy="1487.4" r="2.4"/><circle cx="350.5" cy="1420.0" r="2.4"/><circle cx="351.9" cy="1491.1" r="2.4"/><circle cx="357.8" cy="1479.7" r="2.4"/><circle cx="362.7" cy="1355.7" r="2.4"/><circle cx="364.9" cy="1400.2" r="2.4"/><circle cx="376.4" cy="1447.8" r="2.4"/><circle cx="384.3" cy="1440.5" r="2.4"/><circle cx="388.0" cy="1442.3" r="2.4"/><circle cx="396.8" cy="1438.3" r="2.4"/><circle cx="400.1" cy="1382.2" r="2.4"/><circle cx="403.9" cy="1483.9" r="2.4"/><circle cx="405.6" cy="1480.1" r="2.4"/><circle cx="408.9" cy="1409.7" r="2.4"/><circle cx="411.8" cy="1452.6" r="2.4"/><circle cx="414.9" cy="1359.0" r="2.4"/><circle cx="421.5" cy="1503.9" r="2.4"/><circle cx="424.4" cy="1485.0" r="2.4"/><circle cx="425.9" cy="1450.0" r="2.4"/><circle cx="429.4" cy="1454.8" r="2.4"/><circle cx="435.8" cy="1439.0" r="2.4"/><circle cx="436.0" cy="1441.6" r="2.4"/><circle cx="444.2" cy="1447.1" r="2.4"/><circle cx="447.9" cy="1444.9" r="2.4"/><circle cx="450.3" cy="1430.2" r="2.4"/><circle cx="455.2" cy="1461.4" r="2.4"/><circle cx="457.4" cy="1457.7" r="2.4"/><circle cx="462.9" cy="1487.8" r="2.4"/><circle cx="465.1" cy="1466.9" r="2.4"/><circle cx="468.4" cy="1467.6" r="2.4"/><circle cx="475.0" cy="1460.8" r="2.4"/><circle cx="480.5" cy="1368.3" r="2.4"/><circle cx="482.7" cy="1443.1" r="2.4"/><circle cx="486.0" cy="1423.6" r="2.4"/><circle cx="488.2" cy="1443.8" r="2.4"/><circle cx="493.7" cy="1443.8" r="2.4"/><circle cx="496.6" cy="1439.0" r="2.4"/><circle cx="501.9" cy="1442.0" r="2.4"/><circle cx="506.5" cy="1438.3" r="2.4"/><circle cx="510.9" cy="1435.0" r="2.4"/><circle cx="518.6" cy="1501.7" r="2.4"/><circle cx="519.7" cy="1443.4" r="2.4"/><circle cx="520.8" cy="1508.8" r="2.4"/><circle cx="523.4" cy="1471.3" r="2.4"/><circle cx="526.7" cy="1483.0" r="2.4"/><circle cx="528.3" cy="1459.7" r="2.4"/><circle cx="531.1" cy="1448.9" r="2.4"/><circle cx="532.7" cy="1472.9" r="2.4"/><circle cx="534.4" cy="1455.9" r="2.4"/><circle cx="537.8" cy="1454.4" r="2.4"/><circle cx="541.1" cy="1479.7" r="2.4"/><circle cx="546.1" cy="1455.5" r="2.4"/><circle cx="548.1" cy="1452.2" r="2.4"/><circle cx="551.0" cy="1445.3" r="2.4"/><circle cx="559.8" cy="1453.7" r="2.4"/><circle cx="562.0" cy="1437.6" r="2.4"/><circle cx="568.6" cy="1435.0" r="2.4"/><circle cx="574.7" cy="1462.1" r="2.4"/><circle cx="578.9" cy="1447.1" r="2.4"/><circle cx="586.2" cy="1398.2" r="2.4"/><circle cx="591.7" cy="1473.5" r="2.4"/><circle cx="598.8" cy="1422.9" r="2.4"/><circle cx="602.1" cy="1420.7" r="2.4"/><circle cx="608.7" cy="1454.4" r="2.4"/><circle cx="612.0" cy="1449.3" r="2.4"/><circle cx="614.7" cy="1440.9" r="2.4"/><circle cx="620.2" cy="1421.1" r="2.4"/><circle cx="621.9" cy="1432.1" r="2.4"/><circle cx="626.3" cy="1444.9" r="2.4"/><circle cx="630.7" cy="1425.8" r="2.4"/><circle cx="638.4" cy="1330.9" r="2.4"/><circle cx="641.1" cy="1354.2" r="2.4"/><circle cx="649.0" cy="1372.9" r="2.4"/><circle cx="654.3" cy="1461.4" r="2.4"/><circle cx="655.6" cy="1402.4" r="2.4"/><circle cx="661.6" cy="1447.8" r="2.4"/><circle cx="667.1" cy="1451.5" r="2.4"/><circle cx="672.6" cy="1447.8" r="2.4"/><circle cx="682.9" cy="1454.8" r="2.4"/><circle cx="685.3" cy="1443.8" r="2.4"/><circle cx="691.7" cy="1452.2" r="2.4"/><circle cx="697.2" cy="1462.1" r="2.4"/><circle cx="700.8" cy="1388.3" r="2.4"/><circle cx="706.0" cy="1445.3" r="2.4"/><circle cx="711.5" cy="1434.6" r="2.4"/><circle cx="718.8" cy="1483.0" r="2.4"/><circle cx="721.4" cy="1494.9" r="2.4"/><circle cx="732.0" cy="1447.8" r="2.4"/><circle cx="736.0" cy="1440.9" r="2.4"/><circle cx="743.0" cy="1448.7" r="2.4"/><circle cx="745.9" cy="1455.5" r="2.4"/><circle cx="754.0" cy="1469.6" r="2.4"/><circle cx="757.8" cy="1452.6" r="2.4"/><circle cx="763.5" cy="1492.9" r="2.4"/><circle cx="769.0" cy="1454.2" r="2.4"/><circle cx="778.9" cy="1477.5" r="2.4"/><circle cx="784.2" cy="1414.5" r="2.4"/><circle cx="794.3" cy="1445.3" r="2.4"/><circle cx="805.1" cy="1432.1" r="2.4"/><circle cx="808.6" cy="1456.6" r="2.4"/><circle cx="817.2" cy="1450.9" r="2.4"/><circle cx="826.0" cy="1488.5" r="2.4"/><circle cx="831.6" cy="1422.4" r="2.4"/><circle cx="837.8" cy="1466.5" r="2.4"/><circle cx="842.2" cy="1403.1" r="2.4"/><circle cx="846.6" cy="1448.7" r="2.4"/><circle cx="853.2" cy="1446.0" r="2.4"/><circle cx="861.8" cy="1446.0" r="2.4"/><circle cx="867.5" cy="1455.3" r="2.4"/><circle cx="872.8" cy="1461.4" r="2.4"/><circle cx="875.6" cy="1459.2" r="2.4"/><circle cx="884.4" cy="1388.8" r="2.4"/><circle cx="895.5" cy="1475.7" r="2.4"/><circle cx="907.1" cy="1454.2" r="2.4"/><circle cx="913.1" cy="1446.4" r="2.4"/><circle cx="918.6" cy="1443.8" r="2.4"/><circle cx="925.6" cy="1444.2" r="2.4"/><circle cx="928.9" cy="1434.3" r="2.4"/><circle cx="943.9" cy="1375.1" r="2.4"/><circle cx="952.3" cy="1438.3" r="2.4"/><circle cx="956.0" cy="1458.6" r="2.4"/><circle cx="962.2" cy="1447.6" r="2.4"/><circle cx="967.5" cy="1451.1" r="2.4"/><circle cx="1039.7" cy="1445.6" r="2.4"/><circle cx="1044.1" cy="1431.3" r="2.4"/></g>
<polyline points="131.0,1437.9 135.9,1449.8 144.7,1447.1 148.2,1450.0 156.8,1459.7 170.6,1455.3 192.7,1427.7 197.5,1450.4 208.5,1449.3 211.4,1453.7" fill="none" stroke="#f4766e" stroke-width="1.0" stroke-linejoin="round" stroke-linecap="round"/>
<polyline points="223.5,1323.8 229.0,1414.7 243.3,1458.8 250.3,1445.6 262.7,1450.9 268.6,1447.8 273.5,1448.2 277.0,1417.8 278.5,1426.9 285.1,1479.0 295.7,1388.3 302.8,1430.2 309.8,1441.6 325.2,1450.0 328.1,1443.8 333.1,1446.0 336.9,1459.2 342.4,1487.4 350.5,1420.0 351.9,1491.1 357.8,1479.7 362.7,1355.7 364.9,1400.2 376.4,1447.8 384.3,1440.5 388.0,1442.3 396.8,1438.3 400.1,1382.2 403.9,1483.9 405.6,1480.1 408.9,1409.7 411.8,1452.6 414.9,1359.0 421.5,1503.9 424.4,1485.0 425.9,1450.0 429.4,1454.8 435.8,1439.0 436.0,1441.6 444.2,1447.1 447.9,1444.9 450.3,1430.2 455.2,1461.4 457.4,1457.7 462.9,1487.8 465.1,1466.9 468.4,1467.6 475.0,1460.8 480.5,1368.3 482.7,1443.1 486.0,1423.6 488.2,1443.8 493.7,1443.8 496.6,1439.0 501.9,1442.0 506.5,1438.3 510.9,1435.0 518.6,1501.7 519.7,1443.4 520.8,1508.8 523.4,1471.3 526.7,1483.0 528.3,1459.7 531.1,1448.9 532.7,1472.9 534.4,1455.9 537.8,1454.4 541.1,1479.7 546.1,1455.5 548.1,1452.2 551.0,1445.3 559.8,1453.7 562.0,1437.6 568.6,1435.0 574.7,1462.1 578.9,1447.1 586.2,1398.2 591.7,1473.5 598.8,1422.9 602.1,1420.7 608.7,1454.4 612.0,1449.3 614.7,1440.9 620.2,1421.1 621.9,1432.1 626.3,1444.9 630.7,1425.8 638.4,1330.9 641.1,1354.2 649.0,1372.9 654.3,1461.4 655.6,1402.4 661.6,1447.8 667.1,1451.5 672.6,1447.8 682.9,1454.8 685.3,1443.8 691.7,1452.2 697.2,1462.1 700.8,1388.3 706.0,1445.3 711.5,1434.6 718.8,1483.0 721.4,1494.9 732.0,1447.8 736.0,1440.9 743.0,1448.7 745.9,1455.5 754.0,1469.6 757.8,1452.6 763.5,1492.9 769.0,1454.2 778.9,1477.5 784.2,1414.5 794.3,1445.3 805.1,1432.1 808.6,1456.6 817.2,1450.9 826.0,1488.5 831.6,1422.4 837.8,1466.5 842.2,1403.1 846.6,1448.7 853.2,1446.0 861.8,1446.0 867.5,1455.3 872.8,1461.4 875.6,1459.2 884.4,1388.8 895.5,1475.7 907.1,1454.2 913.1,1446.4 918.6,1443.8 925.6,1444.2 928.9,1434.3 943.9,1375.1 952.3,1438.3 956.0,1458.6 962.2,1447.6 967.5,1451.1" fill="none" stroke="#f4766e" stroke-width="1.0" stroke-linejoin="round" stroke-linecap="round"/>
<polyline points="1039.7,1445.6 1044.1,1431.3" fill="none" stroke="#f4766e" stroke-width="1.0" stroke-linejoin="round" stroke-linecap="round"/>
<g fill="#000"><circle cx="131.4" cy="1709.7" r="2.4"/><circle cx="138.1" cy="1726.2" r="2.4"/><circle cx="140.3" cy="1744.9" r="2.4"/><circle cx="144.7" cy="1730.6" r="2.4"/><circle cx="151.3" cy="1713.0" r="2.4"/><circle cx="157.9" cy="1750.7" r="2.4"/><circle cx="164.5" cy="1779.7" r="2.4"/><circle cx="171.1" cy="1724.2" r="2.4"/><circle cx="177.7" cy="1765.4" r="2.4"/><circle cx="182.1" cy="1719.2" r="2.4"/><circle cx="188.7" cy="1756.6" r="2.4"/><circle cx="197.5" cy="1761.4" r="2.4"/><circle cx="201.9" cy="1747.4" r="2.4"/><circle cx="208.5" cy="1720.7" r="2.4"/><circle cx="213.1" cy="1708.6" r="2.4"/><circle cx="221.7" cy="1728.4" r="2.4"/><circle cx="226.3" cy="1732.4" r="2.4"/><circle cx="228.6" cy="1776.4" r="2.4"/><circle cx="237.8" cy="1757.0" r="2.4"/><circle cx="244.0" cy="1751.5" r="2.4"/><circle cx="248.4" cy="1744.9" r="2.4"/><circle cx="252.8" cy="1820.5" r="2.4"/><circle cx="259.4" cy="1714.1" r="2.4"/><circle cx="266.0" cy="1752.6" r="2.4"/><circle cx="274.8" cy="1746.0" r="2.4"/><circle cx="281.4" cy="1765.4" r="2.4"/><circle cx="283.6" cy="1722.9" r="2.4"/><circle cx="292.4" cy="1704.9" r="2.4"/><circle cx="299.0" cy="1722.9" r="2.4"/><circle cx="301.2" cy="1753.3" r="2.4"/><circle cx="305.6" cy="1714.1" r="2.4"/><circle cx="316.6" cy="1798.4" r="2.4"/><circle cx="321.0" cy="1753.7" r="2.4"/><circle cx="327.6" cy="1736.8" r="2.4"/><circle cx="332.0" cy="1678.9" r="2.4"/><circle cx="338.6" cy="1690.1" r="2.4"/><circle cx="345.2" cy="1688.8" r="2.4"/><circle cx="349.7" cy="1727.5" r="2.4"/><circle cx="356.3" cy="1711.0" r="2.4"/><circle cx="365.6" cy="1736.8" r="2.4"/><circle cx="370.0" cy="1720.3" r="2.4"/><circle cx="374.4" cy="1698.9" r="2.4"/><circle cx="378.8" cy="1707.5" r="2.4"/><circle cx="389.8" cy="1749.6" r="2.4"/><circle cx="394.2" cy="1713.7" r="2.4"/><circle cx="398.6" cy="1748.2" r="2.4"/><circle cx="405.2" cy="1725.3" r="2.4"/><circle cx="411.8" cy="1759.9" r="2.4"/><circle cx="418.4" cy="1726.9" r="2.4"/><circle cx="425.0" cy="1697.2" r="2.4"/><circle cx="429.4" cy="1708.2" r="2.4"/><circle cx="438.2" cy="1735.0" r="2.4"/><circle cx="442.6" cy="1769.2" r="2.4"/><circle cx="449.2" cy="1720.7" r="2.4"/><circle cx="453.6" cy="1726.2" r="2.4"/><circle cx="460.2" cy="1716.3" r="2.4"/><circle cx="464.7" cy="1635.5" r="2.4"/><circle cx="473.5" cy="1647.2" r="2.4"/><circle cx="477.9" cy="1700.5" r="2.4"/><circle cx="484.5" cy="1725.1" r="2.4"/><circle cx="488.9" cy="1709.9" r="2.4"/><circle cx="495.5" cy="1773.8" r="2.4"/><circle cx="502.1" cy="1802.4" r="2.4"/><circle cx="510.9" cy="1787.9" r="2.4"/><circle cx="515.3" cy="1766.5" r="2.4"/><circle cx="519.7" cy="1767.0" r="2.4"/><circle cx="526.3" cy="1731.7" r="2.4"/><circle cx="532.9" cy="1731.7" r="2.4"/><circle cx="539.5" cy="1751.5" r="2.4"/><circle cx="543.9" cy="1752.6" r="2.4"/><circle cx="551.0" cy="1778.2" r="2.4"/><circle cx="558.0" cy="1748.2" r="2.4"/><circle cx="565.3" cy="1750.7" r="2.4"/><circle cx="569.7" cy="1781.5" r="2.4"/><circle cx="575.8" cy="1766.5" r="2.4"/><circle cx="582.4" cy="1785.7" r="2.4"/><circle cx="591.3" cy="1768.1" r="2.4"/><circle cx="595.9" cy="1698.9" r="2.4"/><circle cx="600.3" cy="1745.2" r="2.4"/><circle cx="607.0" cy="1733.5" r="2.4"/><circle cx="613.6" cy="1736.8" r="2.4"/><circle cx="618.0" cy="1743.4" r="2.4"/><circle cx="624.6" cy="1726.2" r="2.4"/><circle cx="631.2" cy="1735.2" r="2.4"/><circle cx="640.0" cy="1742.3" r="2.4"/><circle cx="642.2" cy="1744.9" r="2.4"/><circle cx="648.8" cy="1736.3" r="2.4"/><circle cx="655.4" cy="1771.6" r="2.4"/><circle cx="664.2" cy="1768.7" r="2.4"/><circle cx="668.6" cy="1733.9" r="2.4"/><circle cx="673.0" cy="1733.9" r="2.4"/><circle cx="679.6" cy="1722.5" r="2.4"/><circle cx="686.2" cy="1735.2" r="2.4"/><circle cx="690.6" cy="1769.2" r="2.4"/><circle cx="697.2" cy="1758.8" r="2.4"/><circle cx="703.8" cy="1746.7" r="2.4"/><circle cx="712.6" cy="1793.4" r="2.4"/><circle cx="714.8" cy="1798.4" r="2.4"/><circle cx="721.4" cy="1791.8" r="2.4"/><circle cx="730.3" cy="1752.2" r="2.4"/><circle cx="734.7" cy="1781.3" r="2.4"/><circle cx="739.1" cy="1780.2" r="2.4"/><circle cx="743.5" cy="1743.8" r="2.4"/><circle cx="752.3" cy="1745.6" r="2.4"/><circle cx="761.1" cy="1767.6" r="2.4"/><circle cx="763.3" cy="1722.5" r="2.4"/><circle cx="769.9" cy="1759.9" r="2.4"/><circle cx="778.7" cy="1757.0" r="2.4"/><circle cx="785.3" cy="1779.1" r="2.4"/><circle cx="787.5" cy="1772.5" r="2.4"/><circle cx="794.3" cy="1756.6" r="2.4"/><circle cx="802.9" cy="1779.1" r="2.4"/><circle cx="807.5" cy="1762.1" r="2.4"/><circle cx="814.1" cy="1755.5" r="2.4"/><circle cx="816.3" cy="1780.8" r="2.4"/><circle cx="825.2" cy="1788.5" r="2.4"/><circle cx="832.0" cy="1729.7" r="2.4"/><circle cx="836.4" cy="1773.8" r="2.4"/><circle cx="843.1" cy="1777.1" r="2.4"/><circle cx="849.7" cy="1760.3" r="2.4"/><circle cx="858.5" cy="1763.9" r="2.4"/><circle cx="862.9" cy="1715.2" r="2.4"/><circle cx="867.3" cy="1715.4" r="2.4"/><circle cx="873.9" cy="1661.9" r="2.4"/><circle cx="882.7" cy="1661.5" r="2.4"/><circle cx="884.9" cy="1639.2" r="2.4"/><circle cx="891.5" cy="1660.8" r="2.4"/><circle cx="898.1" cy="1644.3" r="2.4"/><circle cx="906.9" cy="1640.3" r="2.4"/><circle cx="909.1" cy="1698.9" r="2.4"/><circle cx="915.7" cy="1683.3" r="2.4"/><circle cx="922.3" cy="1715.2" r="2.4"/><circle cx="931.1" cy="1707.1" r="2.4"/><circle cx="933.3" cy="1726.9" r="2.4"/><circle cx="939.9" cy="1716.5" r="2.4"/><circle cx="948.7" cy="1709.3" r="2.4"/><circle cx="955.3" cy="1718.7" r="2.4"/><circle cx="959.8" cy="1678.0" r="2.4"/><circle cx="964.2" cy="1724.0" r="2.4"/><circle cx="968.6" cy="1745.6" r="2.4"/><circle cx="977.4" cy="1706.0" r="2.4"/><circle cx="984.0" cy="1702.2" r="2.4"/><circle cx="988.4" cy="1706.0" r="2.4"/><circle cx="995.0" cy="1741.6" r="2.4"/><circle cx="1003.8" cy="1726.4" r="2.4"/><circle cx="1006.0" cy="1740.1" r="2.4"/><circle cx="1019.2" cy="1725.3" r="2.4"/><circle cx="1025.8" cy="1656.0" r="2.4"/><circle cx="1030.2" cy="1755.1" r="2.4"/><circle cx="1039.0" cy="1744.5" r="2.4"/><circle cx="1043.4" cy="1726.9" r="2.4"/></g>
<polyline points="131.4,1709.7 138.1,1726.2 140.3,1744.9 144.7,1730.6 151.3,1713.0 157.9,1750.7 164.5,1779.7 171.1,1724.2 177.7,1765.4 182.1,1719.2 188.7,1756.6 197.5,1761.4 201.9,1747.4 208.5,1720.7 213.1,1708.6 221.7,1728.4 226.3,1732.4 228.6,1776.4 237.8,1757.0 244.0,1751.5 248.4,1744.9 252.8,1820.5 259.4,1714.1 266.0,1752.6 274.8,1746.0 281.4,1765.4 283.6,1722.9 292.4,1704.9 299.0,1722.9 301.2,1753.3 305.6,1714.1 316.6,1798.4 321.0,1753.7 327.6,1736.8 332.0,1678.9 338.6,1690.1 345.2,1688.8 349.7,1727.5 356.3,1711.0 365.6,1736.8 370.0,1720.3 374.4,1698.9 378.8,1707.5 389.8,1749.6 394.2,1713.7 398.6,1748.2 405.2,1725.3 411.8,1759.9 418.4,1726.9 425.0,1697.2 429.4,1708.2 438.2,1735.0 442.6,1769.2 449.2,1720.7 453.6,1726.2 460.2,1716.3 464.7,1635.5 473.5,1647.2 477.9,1700.5 484.5,1725.1 488.9,1709.9 495.5,1773.8 502.1,1802.4 510.9,1787.9 515.3,1766.5 519.7,1767.0 526.3,1731.7 532.9,1731.7 539.5,1751.5 543.9,1752.6 551.0,1778.2 558.0,1748.2 565.3,1750.7 569.7,1781.5 575.8,1766.5 582.4,1785.7 591.3,1768.1 595.9,1698.9 600.3,1745.2 607.0,1733.5 613.6,1736.8 618.0,1743.4 624.6,1726.2 631.2,1735.2 640.0,1742.3 642.2,1744.9 648.8,1736.3 655.4,1771.6 664.2,1768.7 668.6,1733.9 673.0,1733.9 679.6,1722.5 686.2,1735.2 690.6,1769.2 697.2,1758.8 703.8,1746.7 712.6,1793.4 714.8,1798.4 721.4,1791.8 730.3,1752.2 734.7,1781.3 739.1,1780.2 743.5,1743.8 752.3,1745.6 761.1,1767.6 763.3,1722.5 769.9,1759.9 778.7,1757.0 785.3,1779.1 787.5,1772.5 794.3,1756.6 802.9,1779.1 807.5,1762.1 814.1,1755.5 816.3,1780.8 825.2,1788.5 832.0,1729.7 836.4,1773.8 843.1,1777.1 849.7,1760.3 858.5,1763.9 862.9,1715.2 867.3,1715.4 873.9,1661.9 882.7,1661.5 884.9,1639.2 891.5,1660.8 898.1,1644.3 906.9,1640.3 909.1,1698.9 915.7,1683.3 922.3,1715.2 931.1,1707.1 933.3,1726.9 939.9,1716.5 948.7,1709.3 955.3,1718.7 959.8,1678.0 964.2,1724.0 968.6,1745.6 977.4,1706.0 984.0,1702.2 988.4,1706.0 995.0,1741.6 1003.8,1726.4 1006.0,1740.1 1019.2,1725.3 1025.8,1656.0 1030.2,1755.1 1039.0,1744.5 1043.4,1726.9" fill="none" stroke="#d41018" stroke-width="1.5" stroke-linejoin="round" stroke-linecap="round"/>
<g fill="#000"><circle cx="131.0" cy="1931.7" r="2.4"/><circle cx="137.6" cy="1933.9" r="2.4"/><circle cx="140.3" cy="1925.7" r="2.4"/><circle cx="144.7" cy="1947.1" r="2.4"/><circle cx="151.3" cy="1923.9" r="2.4"/><circle cx="157.9" cy="1929.0" r="2.4"/><circle cx="164.5" cy="1912.3" r="2.4"/><circle cx="171.1" cy="1916.7" r="2.4"/><circle cx="177.7" cy="1901.3" r="2.4"/><circle cx="182.1" cy="1953.0" r="2.4"/><circle cx="188.7" cy="1943.1" r="2.4"/><circle cx="197.5" cy="1951.5" r="2.4"/><circle cx="201.9" cy="1970.6" r="2.4"/><circle cx="208.5" cy="1957.4" r="2.4"/><circle cx="212.9" cy="1951.5" r="2.4"/><circle cx="221.7" cy="1953.7" r="2.4"/><circle cx="226.1" cy="1973.5" r="2.4"/><circle cx="228.3" cy="1937.8" r="2.4"/><circle cx="237.4" cy="1933.2" r="2.4"/><circle cx="244.0" cy="1941.1" r="2.4"/><circle cx="248.4" cy="1937.2" r="2.4"/><circle cx="252.8" cy="1930.6" r="2.4"/><circle cx="259.4" cy="1936.5" r="2.4"/><circle cx="266.0" cy="1935.4" r="2.4"/><circle cx="274.8" cy="1915.8" r="2.4"/><circle cx="281.4" cy="1908.5" r="2.4"/><circle cx="283.6" cy="1916.9" r="2.4"/><circle cx="292.4" cy="1922.8" r="2.4"/><circle cx="299.0" cy="1906.8" r="2.4"/><circle cx="301.2" cy="1902.6" r="2.4"/><circle cx="305.6" cy="1917.8" r="2.4"/><circle cx="316.6" cy="1965.3" r="2.4"/><circle cx="321.0" cy="1989.3" r="2.4"/><circle cx="327.6" cy="1980.8" r="2.4"/><circle cx="332.0" cy="2001.0" r="2.4"/><circle cx="338.6" cy="2006.1" r="2.4"/><circle cx="345.2" cy="1983.8" r="2.4"/><circle cx="349.7" cy="2020.8" r="2.4"/><circle cx="356.3" cy="1998.8" r="2.4"/><circle cx="365.3" cy="1991.5" r="2.4"/><circle cx="369.8" cy="1992.2" r="2.4"/><circle cx="374.2" cy="1966.2" r="2.4"/><circle cx="378.6" cy="1975.2" r="2.4"/><circle cx="389.6" cy="1972.4" r="2.4"/><circle cx="394.0" cy="1967.3" r="2.4"/><circle cx="398.4" cy="1983.4" r="2.4"/><circle cx="405.0" cy="1987.4" r="2.4"/><circle cx="411.6" cy="1965.1" r="2.4"/><circle cx="418.2" cy="1938.9" r="2.4"/><circle cx="424.8" cy="1933.2" r="2.4"/><circle cx="429.2" cy="1925.0" r="2.4"/><circle cx="438.0" cy="1927.2" r="2.4"/><circle cx="442.6" cy="1943.1" r="2.4"/><circle cx="449.2" cy="1979.0" r="2.4"/><circle cx="453.6" cy="1942.7" r="2.4"/><circle cx="460.2" cy="1927.9" r="2.4"/><circle cx="464.7" cy="1917.3" r="2.4"/><circle cx="473.5" cy="1879.2" r="2.4"/><circle cx="477.9" cy="1929.0" r="2.4"/><circle cx="484.5" cy="1975.7" r="2.4"/><circle cx="488.9" cy="1962.5" r="2.4"/><circle cx="495.5" cy="1919.5" r="2.4"/><circle cx="502.1" cy="1915.8" r="2.4"/><circle cx="510.9" cy="1912.9" r="2.4"/><circle cx="515.3" cy="1905.2" r="2.4"/><circle cx="519.7" cy="1892.0" r="2.4"/><circle cx="526.3" cy="1911.8" r="2.4"/><circle cx="532.9" cy="1912.9" r="2.4"/><circle cx="539.5" cy="1905.9" r="2.4"/><circle cx="543.9" cy="1903.7" r="2.4"/><circle cx="550.5" cy="1911.2" r="2.4"/><circle cx="558.0" cy="1902.6" r="2.4"/><circle cx="565.3" cy="1903.0" r="2.4"/><circle cx="569.7" cy="1911.8" r="2.4"/><circle cx="575.8" cy="1935.4" r="2.4"/><circle cx="582.4" cy="1953.7" r="2.4"/><circle cx="591.3" cy="1982.3" r="2.4"/><circle cx="595.9" cy="2000.6" r="2.4"/><circle cx="600.3" cy="2010.5" r="2.4"/><circle cx="607.0" cy="2023.7" r="2.4"/><circle cx="613.6" cy="2043.5" r="2.4"/><circle cx="618.0" cy="2047.9" r="2.4"/><circle cx="624.6" cy="2030.7" r="2.4"/><circle cx="631.2" cy="2003.2" r="2.4"/><circle cx="640.0" cy="2022.4" r="2.4"/><circle cx="642.2" cy="2061.6" r="2.4"/><circle cx="648.8" cy="2010.5" r="2.4"/><circle cx="655.4" cy="1966.9" r="2.4"/><circle cx="664.2" cy="1983.0" r="2.4"/><circle cx="668.6" cy="1961.4" r="2.4"/><circle cx="673.0" cy="2001.0" r="2.4"/><circle cx="679.6" cy="1964.0" r="2.4"/><circle cx="686.2" cy="1953.2" r="2.4"/><circle cx="690.8" cy="1899.3" r="2.4"/><circle cx="697.4" cy="1902.6" r="2.4"/><circle cx="704.1" cy="1916.9" r="2.4"/><circle cx="712.9" cy="1940.0" r="2.4"/><circle cx="715.1" cy="1950.4" r="2.4"/><circle cx="721.7" cy="1938.3" r="2.4"/><circle cx="730.5" cy="1964.0" r="2.4"/><circle cx="734.9" cy="1951.9" r="2.4"/><circle cx="739.3" cy="1961.4" r="2.4"/><circle cx="743.7" cy="1964.7" r="2.4"/><circle cx="752.5" cy="1951.0" r="2.4"/><circle cx="761.3" cy="1958.5" r="2.4"/><circle cx="763.5" cy="1970.6" r="2.4"/><circle cx="770.1" cy="1972.4" r="2.4"/><circle cx="778.9" cy="1962.5" r="2.4"/><circle cx="785.5" cy="1969.5" r="2.4"/><circle cx="787.7" cy="1995.1" r="2.4"/><circle cx="794.3" cy="1969.1" r="2.4"/><circle cx="803.1" cy="1965.8" r="2.4"/><circle cx="807.5" cy="1964.2" r="2.4"/><circle cx="814.1" cy="1949.9" r="2.4"/><circle cx="816.8" cy="1933.2" r="2.4"/><circle cx="825.2" cy="1936.1" r="2.4"/><circle cx="832.0" cy="1927.7" r="2.4"/><circle cx="836.4" cy="1923.3" r="2.4"/><circle cx="843.1" cy="1903.0" r="2.4"/><circle cx="849.7" cy="1915.1" r="2.4"/><circle cx="858.5" cy="1906.3" r="2.4"/><circle cx="862.9" cy="1932.1" r="2.4"/><circle cx="867.3" cy="1935.6" r="2.4"/><circle cx="873.9" cy="1928.3" r="2.4"/><circle cx="882.7" cy="1940.0" r="2.4"/><circle cx="884.9" cy="1970.6" r="2.4"/><circle cx="891.5" cy="1980.5" r="2.4"/><circle cx="898.1" cy="1989.6" r="2.4"/><circle cx="906.9" cy="1957.0" r="2.4"/><circle cx="909.1" cy="1925.0" r="2.4"/><circle cx="915.7" cy="1951.0" r="2.4"/><circle cx="922.3" cy="1959.2" r="2.4"/><circle cx="931.1" cy="1971.3" r="2.4"/><circle cx="933.3" cy="1975.7" r="2.4"/><circle cx="939.9" cy="1976.8" r="2.4"/><circle cx="948.7" cy="1957.4" r="2.4"/><circle cx="955.3" cy="1918.9" r="2.4"/><circle cx="959.8" cy="1889.2" r="2.4"/><circle cx="964.2" cy="1894.7" r="2.4"/><circle cx="968.6" cy="1882.6" r="2.4"/><circle cx="977.4" cy="1876.6" r="2.4"/><circle cx="984.0" cy="1890.9" r="2.4"/><circle cx="988.4" cy="1903.0" r="2.4"/><circle cx="995.0" cy="1907.4" r="2.4"/><circle cx="1003.8" cy="1905.2" r="2.4"/><circle cx="1006.0" cy="1925.0" r="2.4"/><circle cx="1019.2" cy="1918.0" r="2.4"/><circle cx="1025.8" cy="1941.1" r="2.4"/><circle cx="1030.2" cy="1953.0" r="2.4"/><circle cx="1039.0" cy="1918.4" r="2.4"/><circle cx="1043.4" cy="1956.3" r="2.4"/></g>
<polyline points="131.0,1931.7 137.6,1933.9 140.3,1925.7 144.7,1947.1 151.3,1923.9 157.9,1929.0 164.5,1912.3 171.1,1916.7 177.7,1901.3 182.1,1953.0 188.7,1943.1 197.5,1951.5 201.9,1970.6 208.5,1957.4 212.9,1951.5 221.7,1953.7 226.1,1973.5 228.3,1937.8 237.4,1933.2 244.0,1941.1 248.4,1937.2 252.8,1930.6 259.4,1936.5 266.0,1935.4 274.8,1915.8 281.4,1908.5 283.6,1916.9 292.4,1922.8 299.0,1906.8 301.2,1902.6 305.6,1917.8 316.6,1965.3 321.0,1989.3 327.6,1980.8 332.0,2001.0 338.6,2006.1 345.2,1983.8 349.7,2020.8 356.3,1998.8 365.3,1991.5 369.8,1992.2 374.2,1966.2 378.6,1975.2 389.6,1972.4 394.0,1967.3 398.4,1983.4 405.0,1987.4 411.6,1965.1 418.2,1938.9 424.8,1933.2 429.2,1925.0 438.0,1927.2 442.6,1943.1 449.2,1979.0 453.6,1942.7 460.2,1927.9 464.7,1917.3 473.5,1879.2 477.9,1929.0 484.5,1975.7 488.9,1962.5 495.5,1919.5 502.1,1915.8 510.9,1912.9 515.3,1905.2 519.7,1892.0 526.3,1911.8 532.9,1912.9 539.5,1905.9 543.9,1903.7 550.5,1911.2 558.0,1902.6 565.3,1903.0 569.7,1911.8 575.8,1935.4 582.4,1953.7 591.3,1982.3 595.9,2000.6 600.3,2010.5 607.0,2023.7 613.6,2043.5 618.0,2047.9 624.6,2030.7 631.2,2003.2 640.0,2022.4 642.2,2061.6 648.8,2010.5 655.4,1966.9 664.2,1983.0 668.6,1961.4 673.0,2001.0 679.6,1964.0 686.2,1953.2 690.8,1899.3 697.4,1902.6 704.1,1916.9 712.9,1940.0 715.1,1950.4 721.7,1938.3 730.5,1964.0 734.9,1951.9 739.3,1961.4 743.7,1964.7 752.5,1951.0 761.3,1958.5 763.5,1970.6 770.1,1972.4 778.9,1962.5 785.5,1969.5 787.7,1995.1 794.3,1969.1 803.1,1965.8 807.5,1964.2 814.1,1949.9 816.8,1933.2 825.2,1936.1 832.0,1927.7 836.4,1923.3 843.1,1903.0 849.7,1915.1 858.5,1906.3 862.9,1932.1 867.3,1935.6 873.9,1928.3 882.7,1940.0 884.9,1970.6 891.5,1980.5 898.1,1989.6 906.9,1957.0 909.1,1925.0 915.7,1951.0 922.3,1959.2 931.1,1971.3 933.3,1975.7 939.9,1976.8 948.7,1957.4 955.3,1918.9 959.8,1889.2 964.2,1894.7 968.6,1882.6 977.4,1876.6 984.0,1890.9 988.4,1903.0 995.0,1907.4 1003.8,1905.2 1006.0,1925.0 1019.2,1918.0 1025.8,1941.1 1030.2,1953.0 1039.0,1918.4 1043.4,1956.3" fill="none" stroke="#d41018" stroke-width="1.5" stroke-linejoin="round" stroke-linecap="round"/>
<g fill="#000"><circle cx="131.0" cy="2275.5" r="2.4"/><circle cx="138.1" cy="2202.8" r="2.4"/><circle cx="140.3" cy="2227.7" r="2.4"/><circle cx="144.7" cy="2268.4" r="2.4"/><circle cx="151.3" cy="2285.4" r="2.4"/><circle cx="157.9" cy="2239.8" r="2.4"/><circle cx="164.5" cy="2230.6" r="2.4"/><circle cx="171.1" cy="2302.6" r="2.4"/><circle cx="177.7" cy="2239.8" r="2.4"/><circle cx="182.1" cy="2268.9" r="2.4"/><circle cx="188.7" cy="2228.1" r="2.4"/><circle cx="197.5" cy="2225.9" r="2.4"/><circle cx="201.9" cy="2230.6" r="2.4"/><circle cx="208.5" cy="2268.0" r="2.4"/><circle cx="213.1" cy="2287.8" r="2.4"/><circle cx="221.7" cy="2269.1" r="2.4"/><circle cx="226.3" cy="2250.2" r="2.4"/><circle cx="228.6" cy="2156.8" r="2.4"/><circle cx="237.4" cy="2218.4" r="2.4"/><circle cx="244.0" cy="2209.4" r="2.4"/><circle cx="248.4" cy="2212.3" r="2.4"/><circle cx="252.8" cy="2156.8" r="2.4"/><circle cx="259.4" cy="2264.0" r="2.4"/><circle cx="266.0" cy="2228.8" r="2.4"/><circle cx="274.8" cy="2199.1" r="2.4"/><circle cx="281.4" cy="2189.8" r="2.4"/><circle cx="283.6" cy="2291.1" r="2.4"/><circle cx="292.4" cy="2229.9" r="2.4"/><circle cx="299.0" cy="2223.3" r="2.4"/><circle cx="301.2" cy="2205.0" r="2.4"/><circle cx="305.6" cy="2249.3" r="2.4"/><circle cx="316.6" cy="2218.0" r="2.4"/><circle cx="321.0" cy="2242.0" r="2.4"/><circle cx="327.6" cy="2244.2" r="2.4"/><circle cx="332.0" cy="2232.8" r="2.4"/><circle cx="338.6" cy="2270.6" r="2.4"/><circle cx="345.2" cy="2260.3" r="2.4"/><circle cx="349.7" cy="2234.3" r="2.4"/><circle cx="356.3" cy="2244.7" r="2.4"/><circle cx="365.3" cy="2251.9" r="2.4"/><circle cx="369.8" cy="2250.8" r="2.4"/><circle cx="374.2" cy="2261.4" r="2.4"/><circle cx="378.6" cy="2276.1" r="2.4"/><circle cx="389.6" cy="2233.6" r="2.4"/><circle cx="394.0" cy="2216.0" r="2.4"/><circle cx="398.4" cy="2194.0" r="2.4"/><circle cx="405.0" cy="2207.9" r="2.4"/><circle cx="411.6" cy="2211.8" r="2.4"/><circle cx="418.2" cy="2216.0" r="2.4"/><circle cx="424.8" cy="2236.9" r="2.4"/><circle cx="429.2" cy="2222.6" r="2.4"/><circle cx="438.0" cy="2218.2" r="2.4"/><circle cx="442.6" cy="2171.6" r="2.4"/><circle cx="449.2" cy="2222.2" r="2.4"/><circle cx="453.6" cy="2222.2" r="2.4"/><circle cx="460.2" cy="2212.3" r="2.4"/><circle cx="464.7" cy="2264.0" r="2.4"/><circle cx="473.5" cy="2246.0" r="2.4"/><circle cx="477.9" cy="2222.9" r="2.4"/><circle cx="484.5" cy="2249.7" r="2.4"/><circle cx="488.9" cy="2229.2" r="2.4"/><circle cx="495.5" cy="2215.6" r="2.4"/><circle cx="502.1" cy="2117.6" r="2.4"/><circle cx="510.9" cy="2188.1" r="2.4"/><circle cx="515.3" cy="2215.1" r="2.4"/><circle cx="519.7" cy="2195.3" r="2.4"/><circle cx="526.3" cy="2220.4" r="2.4"/><circle cx="532.9" cy="2217.8" r="2.4"/><circle cx="539.5" cy="2210.5" r="2.4"/><circle cx="543.9" cy="2190.7" r="2.4"/><circle cx="550.5" cy="2157.2" r="2.4"/><circle cx="558.0" cy="2195.3" r="2.4"/><circle cx="565.3" cy="2211.2" r="2.4"/><circle cx="569.7" cy="2177.7" r="2.4"/><circle cx="575.8" cy="2222.2" r="2.4"/><circle cx="582.4" cy="2199.5" r="2.4"/><circle cx="591.3" cy="2214.5" r="2.4"/><circle cx="595.9" cy="2250.8" r="2.4"/><circle cx="600.3" cy="2159.9" r="2.4"/><circle cx="607.0" cy="2178.8" r="2.4"/><circle cx="613.6" cy="2203.9" r="2.4"/><circle cx="618.0" cy="2195.1" r="2.4"/><circle cx="624.6" cy="2177.1" r="2.4"/><circle cx="631.2" cy="2183.7" r="2.4"/><circle cx="640.0" cy="2212.3" r="2.4"/><circle cx="642.2" cy="2188.7" r="2.4"/><circle cx="648.8" cy="2173.3" r="2.4"/><circle cx="655.4" cy="2145.1" r="2.4"/><circle cx="664.4" cy="2130.2" r="2.4"/><circle cx="668.8" cy="2173.3" r="2.4"/><circle cx="673.0" cy="2198.4" r="2.4"/><circle cx="679.6" cy="2166.0" r="2.4"/><circle cx="686.2" cy="2209.0" r="2.4"/><circle cx="690.8" cy="2135.2" r="2.4"/><circle cx="697.4" cy="2198.6" r="2.4"/><circle cx="704.1" cy="2196.9" r="2.4"/><circle cx="712.9" cy="2153.5" r="2.4"/><circle cx="715.1" cy="2141.4" r="2.4"/><circle cx="721.7" cy="2158.8" r="2.4"/><circle cx="730.5" cy="2203.5" r="2.4"/><circle cx="734.9" cy="2190.7" r="2.4"/><circle cx="739.3" cy="2156.8" r="2.4"/><circle cx="743.7" cy="2196.9" r="2.4"/><circle cx="752.5" cy="2163.8" r="2.4"/><circle cx="761.3" cy="2174.9" r="2.4"/><circle cx="763.5" cy="2216.2" r="2.4"/><circle cx="770.1" cy="2178.2" r="2.4"/><circle cx="778.9" cy="2157.7" r="2.4"/><circle cx="785.5" cy="2159.9" r="2.4"/><circle cx="787.7" cy="2144.5" r="2.4"/><circle cx="794.3" cy="2188.1" r="2.4"/><circle cx="803.1" cy="2167.8" r="2.4"/><circle cx="807.5" cy="2181.5" r="2.4"/><circle cx="814.1" cy="2195.1" r="2.4"/><circle cx="816.8" cy="2203.9" r="2.4"/><circle cx="825.6" cy="2154.6" r="2.4"/><circle cx="832.0" cy="2243.1" r="2.4"/><circle cx="836.4" cy="2184.1" r="2.4"/><circle cx="843.1" cy="2155.0" r="2.4"/><circle cx="849.7" cy="2160.5" r="2.4"/><circle cx="858.5" cy="2170.0" r="2.4"/><circle cx="862.9" cy="2211.2" r="2.4"/><circle cx="867.3" cy="2206.1" r="2.4"/><circle cx="873.9" cy="2275.7" r="2.4"/><circle cx="882.7" cy="2245.3" r="2.4"/><circle cx="884.9" cy="2289.8" r="2.4"/><circle cx="891.5" cy="2236.9" r="2.4"/><circle cx="898.1" cy="2259.6" r="2.4"/><circle cx="906.9" cy="2249.1" r="2.4"/><circle cx="909.1" cy="2212.7" r="2.4"/><circle cx="915.7" cy="2254.1" r="2.4"/><circle cx="922.3" cy="2199.7" r="2.4"/><circle cx="931.1" cy="2194.0" r="2.4"/><circle cx="933.3" cy="2207.9" r="2.4"/><circle cx="939.9" cy="2219.3" r="2.4"/><circle cx="948.7" cy="2215.1" r="2.4"/><circle cx="955.3" cy="2190.9" r="2.4"/><circle cx="959.8" cy="2259.0" r="2.4"/><circle cx="964.2" cy="2209.0" r="2.4"/><circle cx="968.6" cy="2178.8" r="2.4"/><circle cx="977.4" cy="2213.4" r="2.4"/><circle cx="984.0" cy="2194.0" r="2.4"/><circle cx="988.4" cy="2254.6" r="2.4"/><circle cx="995.0" cy="2172.0" r="2.4"/><circle cx="1003.8" cy="2176.4" r="2.4"/><circle cx="1006.0" cy="2220.0" r="2.4"/><circle cx="1019.2" cy="2142.3" r="2.4"/><circle cx="1025.8" cy="2224.4" r="2.4"/><circle cx="1030.2" cy="2185.9" r="2.4"/><circle cx="1039.0" cy="2161.6" r="2.4"/><circle cx="1043.4" cy="2189.2" r="2.4"/></g>
<polyline points="131.0,2275.5 138.1,2202.8 140.3,2227.7 144.7,2268.4 151.3,2285.4 157.9,2239.8 164.5,2230.6 171.1,2302.6 177.7,2239.8 182.1,2268.9 188.7,2228.1 197.5,2225.9 201.9,2230.6 208.5,2268.0 213.1,2287.8 221.7,2269.1 226.3,2250.2 228.6,2156.8 237.4,2218.4 244.0,2209.4 248.4,2212.3 252.8,2156.8 259.4,2264.0 266.0,2228.8 274.8,2199.1 281.4,2189.8 283.6,2291.1 292.4,2229.9 299.0,2223.3 301.2,2205.0 305.6,2249.3 316.6,2218.0 321.0,2242.0 327.6,2244.2 332.0,2232.8 338.6,2270.6 345.2,2260.3 349.7,2234.3 356.3,2244.7 365.3,2251.9 369.8,2250.8 374.2,2261.4 378.6,2276.1 389.6,2233.6 394.0,2216.0 398.4,2194.0 405.0,2207.9 411.6,2211.8 418.2,2216.0 424.8,2236.9 429.2,2222.6 438.0,2218.2 442.6,2171.6 449.2,2222.2 453.6,2222.2 460.2,2212.3 464.7,2264.0 473.5,2246.0 477.9,2222.9 484.5,2249.7 488.9,2229.2 495.5,2215.6 502.1,2117.6 510.9,2188.1 515.3,2215.1 519.7,2195.3 526.3,2220.4 532.9,2217.8 539.5,2210.5 543.9,2190.7 550.5,2157.2 558.0,2195.3 565.3,2211.2 569.7,2177.7 575.8,2222.2 582.4,2199.5 591.3,2214.5 595.9,2250.8 600.3,2159.9 607.0,2178.8 613.6,2203.9 618.0,2195.1 624.6,2177.1 631.2,2183.7 640.0,2212.3 642.2,2188.7 648.8,2173.3 655.4,2145.1 664.4,2130.2 668.8,2173.3 673.0,2198.4 679.6,2166.0 686.2,2209.0 690.8,2135.2 697.4,2198.6 704.1,2196.9 712.9,2153.5 715.1,2141.4 721.7,2158.8 730.5,2203.5 734.9,2190.7 739.3,2156.8 743.7,2196.9 752.5,2163.8 761.3,2174.9 763.5,2216.2 770.1,2178.2 778.9,2157.7 785.5,2159.9 787.7,2144.5 794.3,2188.1 803.1,2167.8 807.5,2181.5 814.1,2195.1 816.8,2203.9 825.6,2154.6 832.0,2243.1 836.4,2184.1 843.1,2155.0 849.7,2160.5 858.5,2170.0 862.9,2211.2 867.3,2206.1 873.9,2275.7 882.7,2245.3 884.9,2289.8 891.5,2236.9 898.1,2259.6 906.9,2249.1 909.1,2212.7 915.7,2254.1 922.3,2199.7 931.1,2194.0 933.3,2207.9 939.9,2219.3 948.7,2215.1 955.3,2190.9 959.8,2259.0 964.2,2209.0 968.6,2178.8 977.4,2213.4 984.0,2194.0 988.4,2254.6 995.0,2172.0 1003.8,2176.4 1006.0,2220.0 1019.2,2142.3 1025.8,2224.4 1030.2,2185.9 1039.0,2161.6 1043.4,2189.2" fill="none" stroke="#d41018" stroke-width="1.5" stroke-linejoin="round" stroke-linecap="round"/>
<line x1="86.0" y1="7.0" x2="86.0" y2="241.5" stroke="#c4c4c4" stroke-width="1.8"/><line x1="1089.3" y1="7.0" x2="1089.3" y2="241.5" stroke="#6e6e6e" stroke-width="1.5"/><line x1="86.0" y1="38.1" x2="1089.3" y2="38.1" stroke="#7a7a7a" stroke-width="1.7"/><line x1="86.0" y1="240.6" x2="1090.0" y2="240.6" stroke="#8a8a8a" stroke-width="1.8"/><line x1="82.4" y1="44.9" x2="86.0" y2="44.9" stroke="#555" stroke-width="1.3"/><g transform="translate(79.70 53.85) scale(1.0200 1)"><text x="0" y="0" class="yt">3</text></g><line x1="82.4" y1="81.8" x2="86.0" y2="81.8" stroke="#555" stroke-width="1.3"/><g transform="translate(79.70 90.80) scale(1.0200 1)"><text x="0" y="0" class="yt">2</text></g><line x1="82.4" y1="118.8" x2="86.0" y2="118.8" stroke="#555" stroke-width="1.3"/><g transform="translate(79.70 127.80) scale(1.0200 1)"><text x="0" y="0" class="yt"> </text><path d="M763,0 L583,0 L583,1147 Q518,1085 412,1023 Q306,961 222,930 L222,1104 Q373,1175 486,1276 Q599,1377 646,1450 L763,1450 Z" transform="translate(-13.51 0) scale(0.01187 -0.01187)" class="one"/></g><line x1="82.4" y1="156.0" x2="86.0" y2="156.0" stroke="#555" stroke-width="1.3"/><g transform="translate(79.70 165.00) scale(1.0200 1)"><text x="0" y="0" class="yt">0</text></g><line x1="82.4" y1="193.0" x2="86.0" y2="193.0" stroke="#555" stroke-width="1.3"/><g transform="translate(79.70 202.00) scale(1.0200 1)"><text x="0" y="0" class="yt">- </text><path d="M763,0 L583,0 L583,1147 Q518,1085 412,1023 Q306,961 222,930 L222,1104 Q373,1175 486,1276 Q599,1377 646,1450 L763,1450 Z" transform="translate(-13.51 0) scale(0.01187 -0.01187)" class="one"/></g><line x1="82.4" y1="229.8" x2="86.0" y2="229.8" stroke="#555" stroke-width="1.3"/><g transform="translate(79.70 238.80) scale(1.0200 1)"><text x="0" y="0" class="yt">-2</text></g><text x="587.6" y="30.2" class="st">temperature</text>
<line x1="86.0" y1="247.0" x2="86.0" y2="482.4" stroke="#c4c4c4" stroke-width="1.8"/><line x1="1089.3" y1="247.0" x2="1089.3" y2="482.4" stroke="#6e6e6e" stroke-width="1.5"/><line x1="86.0" y1="278.4" x2="1089.3" y2="278.4" stroke="#7a7a7a" stroke-width="1.7"/><line x1="86.0" y1="481.5" x2="1090.0" y2="481.5" stroke="#8a8a8a" stroke-width="1.8"/><line x1="82.4" y1="312.7" x2="86.0" y2="312.7" stroke="#555" stroke-width="1.3"/><g transform="translate(79.70 321.70) scale(1.0200 1)"><text x="0" y="0" class="yt">0.4</text></g><line x1="82.4" y1="371.4" x2="86.0" y2="371.4" stroke="#555" stroke-width="1.3"/><g transform="translate(79.70 380.40) scale(1.0200 1)"><text x="0" y="0" class="yt">0.0</text></g><line x1="82.4" y1="430.6" x2="86.0" y2="430.6" stroke="#555" stroke-width="1.3"/><g transform="translate(79.70 439.60) scale(1.0200 1)"><text x="0" y="0" class="yt">-0.4</text></g><text x="587.6" y="270.5" class="st">salinity</text>
<line x1="86.0" y1="489.0" x2="86.0" y2="723.8" stroke="#c4c4c4" stroke-width="1.8"/><line x1="1089.3" y1="489.0" x2="1089.3" y2="723.8" stroke="#6e6e6e" stroke-width="1.5"/><line x1="86.0" y1="520.6" x2="1089.3" y2="520.6" stroke="#7a7a7a" stroke-width="1.7"/><line x1="86.0" y1="722.9" x2="1090.0" y2="722.9" stroke="#8a8a8a" stroke-width="1.8"/><line x1="82.4" y1="521.1" x2="86.0" y2="521.1" stroke="#555" stroke-width="1.3"/><g transform="translate(79.70 530.10) scale(1.0200 1)"><text x="0" y="0" class="yt"> 2</text><path d="M763,0 L583,0 L583,1147 Q518,1085 412,1023 Q306,961 222,930 L222,1104 Q373,1175 486,1276 Q599,1377 646,1450 L763,1450 Z" transform="translate(-27.03 0) scale(0.01187 -0.01187)" class="one"/></g><line x1="82.4" y1="574.1" x2="86.0" y2="574.1" stroke="#555" stroke-width="1.3"/><g transform="translate(79.70 583.10) scale(1.0200 1)"><text x="0" y="0" class="yt">8</text></g><line x1="82.4" y1="627.0" x2="86.0" y2="627.0" stroke="#555" stroke-width="1.3"/><g transform="translate(79.70 636.00) scale(1.0200 1)"><text x="0" y="0" class="yt">4</text></g><line x1="82.4" y1="680.0" x2="86.0" y2="680.0" stroke="#555" stroke-width="1.3"/><g transform="translate(79.70 689.00) scale(1.0200 1)"><text x="0" y="0" class="yt">0</text></g><text x="587.6" y="512.7" class="st">chl a</text><line x1="166.2" y1="722.9" x2="166.2" y2="726.5" stroke="#555" stroke-width="1.3"/><g transform="translate(166.20 747.20) scale(1.0200 1)"><text x="0" y="0" class="xt"> 997</text><path d="M763,0 L583,0 L583,1147 Q518,1085 412,1023 Q306,961 222,930 L222,1104 Q373,1175 486,1276 Q599,1377 646,1450 L763,1450 Z" transform="translate(-27.03 0) scale(0.01187 -0.01187)" class="one"/></g><line x1="271.9" y1="722.9" x2="271.9" y2="726.5" stroke="#555" stroke-width="1.3"/><g transform="translate(271.92 747.20) scale(1.0200 1)"><text x="0" y="0" class="xt">2000</text></g><line x1="377.6" y1="722.9" x2="377.6" y2="726.5" stroke="#555" stroke-width="1.3"/><g transform="translate(377.64 747.20) scale(1.0200 1)"><text x="0" y="0" class="xt">2003</text></g><line x1="483.4" y1="722.9" x2="483.4" y2="726.5" stroke="#555" stroke-width="1.3"/><g transform="translate(483.36 747.20) scale(1.0200 1)"><text x="0" y="0" class="xt">2006</text></g><line x1="589.1" y1="722.9" x2="589.1" y2="726.5" stroke="#555" stroke-width="1.3"/><g transform="translate(589.08 747.20) scale(1.0200 1)"><text x="0" y="0" class="xt">2009</text></g><line x1="694.8" y1="722.9" x2="694.8" y2="726.5" stroke="#555" stroke-width="1.3"/><g transform="translate(694.80 747.20) scale(1.0200 1)"><text x="0" y="0" class="xt">20 2</text><path d="M763,0 L583,0 L583,1147 Q518,1085 412,1023 Q306,961 222,930 L222,1104 Q373,1175 486,1276 Q599,1377 646,1450 L763,1450 Z" transform="translate(0.00 0) scale(0.01187 -0.01187)" class="one"/></g><line x1="800.5" y1="722.9" x2="800.5" y2="726.5" stroke="#555" stroke-width="1.3"/><g transform="translate(800.52 747.20) scale(1.0200 1)"><text x="0" y="0" class="xt">20 5</text><path d="M763,0 L583,0 L583,1147 Q518,1085 412,1023 Q306,961 222,930 L222,1104 Q373,1175 486,1276 Q599,1377 646,1450 L763,1450 Z" transform="translate(0.00 0) scale(0.01187 -0.01187)" class="one"/></g><line x1="906.2" y1="722.9" x2="906.2" y2="726.5" stroke="#555" stroke-width="1.3"/><g transform="translate(906.24 747.20) scale(1.0200 1)"><text x="0" y="0" class="xt">20 8</text><path d="M763,0 L583,0 L583,1147 Q518,1085 412,1023 Q306,961 222,930 L222,1104 Q373,1175 486,1276 Q599,1377 646,1450 L763,1450 Z" transform="translate(0.00 0) scale(0.01187 -0.01187)" class="one"/></g><line x1="1012.0" y1="722.9" x2="1012.0" y2="726.5" stroke="#555" stroke-width="1.3"/><g transform="translate(1011.96 747.20) scale(1.0200 1)"><text x="0" y="0" class="xt">202 </text><path d="M763,0 L583,0 L583,1147 Q518,1085 412,1023 Q306,961 222,930 L222,1104 Q373,1175 486,1276 Q599,1377 646,1450 L763,1450 Z" transform="translate(13.51 0) scale(0.01187 -0.01187)" class="one"/></g>
<line x1="86.0" y1="801.0" x2="86.0" y2="1036.8" stroke="#c4c4c4" stroke-width="1.8"/><line x1="1089.3" y1="801.0" x2="1089.3" y2="1036.8" stroke="#6e6e6e" stroke-width="1.5"/><line x1="86.0" y1="833.2" x2="1089.3" y2="833.2" stroke="#7a7a7a" stroke-width="1.7"/><line x1="86.0" y1="1035.9" x2="1090.0" y2="1035.9" stroke="#8a8a8a" stroke-width="1.8"/><line x1="82.4" y1="844.3" x2="86.0" y2="844.3" stroke="#555" stroke-width="1.3"/><g transform="translate(79.70 853.30) scale(1.0200 1)"><text x="0" y="0" class="yt">4</text></g><line x1="82.4" y1="898.5" x2="86.0" y2="898.5" stroke="#555" stroke-width="1.3"/><g transform="translate(79.70 907.50) scale(1.0200 1)"><text x="0" y="0" class="yt">2</text></g><line x1="82.4" y1="952.7" x2="86.0" y2="952.7" stroke="#555" stroke-width="1.3"/><g transform="translate(79.70 961.70) scale(1.0200 1)"><text x="0" y="0" class="yt">0</text></g><line x1="82.4" y1="1006.8" x2="86.0" y2="1006.8" stroke="#555" stroke-width="1.3"/><g transform="translate(79.70 1015.80) scale(1.0200 1)"><text x="0" y="0" class="yt">-2</text></g><text x="587.6" y="825.3" class="st">temperature</text>
<line x1="86.0" y1="1042.4" x2="86.0" y2="1277.6" stroke="#c4c4c4" stroke-width="1.8"/><line x1="1089.3" y1="1042.4" x2="1089.3" y2="1277.6" stroke="#6e6e6e" stroke-width="1.5"/><line x1="86.0" y1="1074.0" x2="1089.3" y2="1074.0" stroke="#7a7a7a" stroke-width="1.7"/><line x1="86.0" y1="1276.7" x2="1090.0" y2="1276.7" stroke="#8a8a8a" stroke-width="1.8"/><line x1="82.4" y1="1078.6" x2="86.0" y2="1078.6" stroke="#555" stroke-width="1.3"/><g transform="translate(79.70 1087.60) scale(1.0200 1)"><text x="0" y="0" class="yt"> .0</text><path d="M763,0 L583,0 L583,1147 Q518,1085 412,1023 Q306,961 222,930 L222,1104 Q373,1175 486,1276 Q599,1377 646,1450 L763,1450 Z" transform="translate(-33.78 0) scale(0.01187 -0.01187)" class="one"/></g><line x1="82.4" y1="1130.9" x2="86.0" y2="1130.9" stroke="#555" stroke-width="1.3"/><g transform="translate(79.70 1139.90) scale(1.0200 1)"><text x="0" y="0" class="yt">0.5</text></g><line x1="82.4" y1="1183.2" x2="86.0" y2="1183.2" stroke="#555" stroke-width="1.3"/><g transform="translate(79.70 1192.20) scale(1.0200 1)"><text x="0" y="0" class="yt">0.0</text></g><line x1="82.4" y1="1235.5" x2="86.0" y2="1235.5" stroke="#555" stroke-width="1.3"/><g transform="translate(79.70 1244.50) scale(1.0200 1)"><text x="0" y="0" class="yt">-0.5</text></g><text x="587.6" y="1066.1" class="st">salinity</text>
<line x1="86.0" y1="1283.3" x2="86.0" y2="1519.0" stroke="#c4c4c4" stroke-width="1.8"/><line x1="1089.3" y1="1283.3" x2="1089.3" y2="1519.0" stroke="#6e6e6e" stroke-width="1.5"/><line x1="86.0" y1="1314.9" x2="1089.3" y2="1314.9" stroke="#7a7a7a" stroke-width="1.7"/><line x1="86.0" y1="1518.1" x2="1090.0" y2="1518.1" stroke="#8a8a8a" stroke-width="1.8"/><line x1="82.4" y1="1348.0" x2="86.0" y2="1348.0" stroke="#555" stroke-width="1.3"/><g transform="translate(79.70 1357.00) scale(1.0200 1)"><text x="0" y="0" class="yt"> 0</text><path d="M763,0 L583,0 L583,1147 Q518,1085 412,1023 Q306,961 222,930 L222,1104 Q373,1175 486,1276 Q599,1377 646,1450 L763,1450 Z" transform="translate(-27.03 0) scale(0.01187 -0.01187)" class="one"/></g><line x1="82.4" y1="1395.9" x2="86.0" y2="1395.9" stroke="#555" stroke-width="1.3"/><g transform="translate(79.70 1404.90) scale(1.0200 1)"><text x="0" y="0" class="yt">5</text></g><line x1="82.4" y1="1443.9" x2="86.0" y2="1443.9" stroke="#555" stroke-width="1.3"/><g transform="translate(79.70 1452.90) scale(1.0200 1)"><text x="0" y="0" class="yt">0</text></g><line x1="82.4" y1="1491.9" x2="86.0" y2="1491.9" stroke="#555" stroke-width="1.3"/><g transform="translate(79.70 1500.90) scale(1.0200 1)"><text x="0" y="0" class="yt">-5</text></g><text x="587.6" y="1307.0" class="st">fluorescence</text><line x1="200.7" y1="1518.1" x2="200.7" y2="1521.7" stroke="#555" stroke-width="1.3"/><g transform="translate(200.70 1542.40) scale(1.0200 1)"><text x="0" y="0" class="xt">2008</text></g><line x1="320.2" y1="1518.1" x2="320.2" y2="1521.7" stroke="#555" stroke-width="1.3"/><g transform="translate(320.22 1542.40) scale(1.0200 1)"><text x="0" y="0" class="xt">20 0</text><path d="M763,0 L583,0 L583,1147 Q518,1085 412,1023 Q306,961 222,930 L222,1104 Q373,1175 486,1276 Q599,1377 646,1450 L763,1450 Z" transform="translate(-0.00 0) scale(0.01187 -0.01187)" class="one"/></g><line x1="439.7" y1="1518.1" x2="439.7" y2="1521.7" stroke="#555" stroke-width="1.3"/><g transform="translate(439.74 1542.40) scale(1.0200 1)"><text x="0" y="0" class="xt">20 2</text><path d="M763,0 L583,0 L583,1147 Q518,1085 412,1023 Q306,961 222,930 L222,1104 Q373,1175 486,1276 Q599,1377 646,1450 L763,1450 Z" transform="translate(-0.00 0) scale(0.01187 -0.01187)" class="one"/></g><line x1="559.3" y1="1518.1" x2="559.3" y2="1521.7" stroke="#555" stroke-width="1.3"/><g transform="translate(559.26 1542.40) scale(1.0200 1)"><text x="0" y="0" class="xt">20 4</text><path d="M763,0 L583,0 L583,1147 Q518,1085 412,1023 Q306,961 222,930 L222,1104 Q373,1175 486,1276 Q599,1377 646,1450 L763,1450 Z" transform="translate(0.00 0) scale(0.01187 -0.01187)" class="one"/></g><line x1="678.8" y1="1518.1" x2="678.8" y2="1521.7" stroke="#555" stroke-width="1.3"/><g transform="translate(678.78 1542.40) scale(1.0200 1)"><text x="0" y="0" class="xt">20 6</text><path d="M763,0 L583,0 L583,1147 Q518,1085 412,1023 Q306,961 222,930 L222,1104 Q373,1175 486,1276 Q599,1377 646,1450 L763,1450 Z" transform="translate(0.00 0) scale(0.01187 -0.01187)" class="one"/></g><line x1="798.3" y1="1518.1" x2="798.3" y2="1521.7" stroke="#555" stroke-width="1.3"/><g transform="translate(798.30 1542.40) scale(1.0200 1)"><text x="0" y="0" class="xt">20 8</text><path d="M763,0 L583,0 L583,1147 Q518,1085 412,1023 Q306,961 222,930 L222,1104 Q373,1175 486,1276 Q599,1377 646,1450 L763,1450 Z" transform="translate(0.00 0) scale(0.01187 -0.01187)" class="one"/></g><line x1="917.8" y1="1518.1" x2="917.8" y2="1521.7" stroke="#555" stroke-width="1.3"/><g transform="translate(917.82 1542.40) scale(1.0200 1)"><text x="0" y="0" class="xt">2020</text></g>
<line x1="86.0" y1="1594.7" x2="86.0" y2="1830.3" stroke="#c4c4c4" stroke-width="1.8"/><line x1="1089.3" y1="1594.7" x2="1089.3" y2="1830.3" stroke="#6e6e6e" stroke-width="1.5"/><line x1="86.0" y1="1626.6" x2="1089.3" y2="1626.6" stroke="#7a7a7a" stroke-width="1.7"/><line x1="86.0" y1="1829.4" x2="1090.0" y2="1829.4" stroke="#8a8a8a" stroke-width="1.8"/><line x1="82.4" y1="1636.4" x2="86.0" y2="1636.4" stroke="#555" stroke-width="1.3"/><g transform="translate(79.70 1645.40) scale(1.0200 1)"><text x="0" y="0" class="yt">2</text></g><line x1="82.4" y1="1686.3" x2="86.0" y2="1686.3" stroke="#555" stroke-width="1.3"/><g transform="translate(79.70 1695.30) scale(1.0200 1)"><text x="0" y="0" class="yt"> </text><path d="M763,0 L583,0 L583,1147 Q518,1085 412,1023 Q306,961 222,930 L222,1104 Q373,1175 486,1276 Q599,1377 646,1450 L763,1450 Z" transform="translate(-13.51 0) scale(0.01187 -0.01187)" class="one"/></g><line x1="82.4" y1="1736.2" x2="86.0" y2="1736.2" stroke="#555" stroke-width="1.3"/><g transform="translate(79.70 1745.20) scale(1.0200 1)"><text x="0" y="0" class="yt">0</text></g><line x1="82.4" y1="1786.0" x2="86.0" y2="1786.0" stroke="#555" stroke-width="1.3"/><g transform="translate(79.70 1795.00) scale(1.0200 1)"><text x="0" y="0" class="yt">- </text><path d="M763,0 L583,0 L583,1147 Q518,1085 412,1023 Q306,961 222,930 L222,1104 Q373,1175 486,1276 Q599,1377 646,1450 L763,1450 Z" transform="translate(-13.51 0) scale(0.01187 -0.01187)" class="one"/></g><text x="587.6" y="1618.7" class="st">temperature</text>
<line x1="86.0" y1="1835.6" x2="86.0" y2="2071.4" stroke="#c4c4c4" stroke-width="1.8"/><line x1="1089.3" y1="1835.6" x2="1089.3" y2="2071.4" stroke="#6e6e6e" stroke-width="1.5"/><line x1="86.0" y1="1867.2" x2="1089.3" y2="1867.2" stroke="#7a7a7a" stroke-width="1.7"/><line x1="86.0" y1="2070.5" x2="1090.0" y2="2070.5" stroke="#8a8a8a" stroke-width="1.8"/><line x1="82.4" y1="1880.2" x2="86.0" y2="1880.2" stroke="#555" stroke-width="1.3"/><g transform="translate(79.70 1889.20) scale(1.0200 1)"><text x="0" y="0" class="yt">0.2</text></g><line x1="82.4" y1="1947.8" x2="86.0" y2="1947.8" stroke="#555" stroke-width="1.3"/><g transform="translate(79.70 1956.80) scale(1.0200 1)"><text x="0" y="0" class="yt">0.0</text></g><line x1="82.4" y1="2015.5" x2="86.0" y2="2015.5" stroke="#555" stroke-width="1.3"/><g transform="translate(79.70 2024.50) scale(1.0200 1)"><text x="0" y="0" class="yt">-0.2</text></g><text x="587.6" y="1859.3" class="st">salinity</text>
<line x1="86.0" y1="2077.1" x2="86.0" y2="2312.4" stroke="#c4c4c4" stroke-width="1.8"/><line x1="1089.3" y1="2077.1" x2="1089.3" y2="2312.4" stroke="#6e6e6e" stroke-width="1.5"/><line x1="86.0" y1="2108.4" x2="1089.3" y2="2108.4" stroke="#7a7a7a" stroke-width="1.7"/><line x1="86.0" y1="2311.5" x2="1090.0" y2="2311.5" stroke="#8a8a8a" stroke-width="1.8"/><line x1="82.4" y1="2109.4" x2="86.0" y2="2109.4" stroke="#555" stroke-width="1.3"/><g transform="translate(79.70 2118.40) scale(1.0200 1)"><text x="0" y="0" class="yt">0.4</text></g><line x1="82.4" y1="2160.0" x2="86.0" y2="2160.0" stroke="#555" stroke-width="1.3"/><g transform="translate(79.70 2169.00) scale(1.0200 1)"><text x="0" y="0" class="yt">0.2</text></g><line x1="82.4" y1="2210.7" x2="86.0" y2="2210.7" stroke="#555" stroke-width="1.3"/><g transform="translate(79.70 2219.70) scale(1.0200 1)"><text x="0" y="0" class="yt">0.0</text></g><line x1="82.4" y1="2261.0" x2="86.0" y2="2261.0" stroke="#555" stroke-width="1.3"/><g transform="translate(79.70 2270.00) scale(1.0200 1)"><text x="0" y="0" class="yt">-0.2</text></g><line x1="82.4" y1="2311.4" x2="86.0" y2="2311.4" stroke="#555" stroke-width="1.3"/><g transform="translate(79.70 2320.40) scale(1.0200 1)"><text x="0" y="0" class="yt">-0.4</text></g><text x="587.6" y="2100.5" class="st">chl a</text><line x1="129.6" y1="2311.5" x2="129.6" y2="2315.1" stroke="#555" stroke-width="1.3"/><g transform="translate(129.60 2335.80) scale(1.0200 1)"><text x="0" y="0" class="xt"> 984</text><path d="M763,0 L583,0 L583,1147 Q518,1085 412,1023 Q306,961 222,930 L222,1104 Q373,1175 486,1276 Q599,1377 646,1450 L763,1450 Z" transform="translate(-27.03 0) scale(0.01187 -0.01187)" class="one"/></g><line x1="226.8" y1="2311.5" x2="226.8" y2="2315.1" stroke="#555" stroke-width="1.3"/><g transform="translate(226.80 2335.80) scale(1.0200 1)"><text x="0" y="0" class="xt"> 988</text><path d="M763,0 L583,0 L583,1147 Q518,1085 412,1023 Q306,961 222,930 L222,1104 Q373,1175 486,1276 Q599,1377 646,1450 L763,1450 Z" transform="translate(-27.03 0) scale(0.01187 -0.01187)" class="one"/></g><line x1="324.0" y1="2311.5" x2="324.0" y2="2315.1" stroke="#555" stroke-width="1.3"/><g transform="translate(324.00 2335.80) scale(1.0200 1)"><text x="0" y="0" class="xt"> 992</text><path d="M763,0 L583,0 L583,1147 Q518,1085 412,1023 Q306,961 222,930 L222,1104 Q373,1175 486,1276 Q599,1377 646,1450 L763,1450 Z" transform="translate(-27.03 0) scale(0.01187 -0.01187)" class="one"/></g><line x1="421.2" y1="2311.5" x2="421.2" y2="2315.1" stroke="#555" stroke-width="1.3"/><g transform="translate(421.20 2335.80) scale(1.0200 1)"><text x="0" y="0" class="xt"> 996</text><path d="M763,0 L583,0 L583,1147 Q518,1085 412,1023 Q306,961 222,930 L222,1104 Q373,1175 486,1276 Q599,1377 646,1450 L763,1450 Z" transform="translate(-27.03 0) scale(0.01187 -0.01187)" class="one"/></g><line x1="518.4" y1="2311.5" x2="518.4" y2="2315.1" stroke="#555" stroke-width="1.3"/><g transform="translate(518.40 2335.80) scale(1.0200 1)"><text x="0" y="0" class="xt">2000</text></g><line x1="615.6" y1="2311.5" x2="615.6" y2="2315.1" stroke="#555" stroke-width="1.3"/><g transform="translate(615.60 2335.80) scale(1.0200 1)"><text x="0" y="0" class="xt">2004</text></g><line x1="712.8" y1="2311.5" x2="712.8" y2="2315.1" stroke="#555" stroke-width="1.3"/><g transform="translate(712.80 2335.80) scale(1.0200 1)"><text x="0" y="0" class="xt">2008</text></g><line x1="810.0" y1="2311.5" x2="810.0" y2="2315.1" stroke="#555" stroke-width="1.3"/><g transform="translate(810.00 2335.80) scale(1.0200 1)"><text x="0" y="0" class="xt">20 2</text><path d="M763,0 L583,0 L583,1147 Q518,1085 412,1023 Q306,961 222,930 L222,1104 Q373,1175 486,1276 Q599,1377 646,1450 L763,1450 Z" transform="translate(0.00 0) scale(0.01187 -0.01187)" class="one"/></g><line x1="907.2" y1="2311.5" x2="907.2" y2="2315.1" stroke="#555" stroke-width="1.3"/><g transform="translate(907.20 2335.80) scale(1.0200 1)"><text x="0" y="0" class="xt">20 6</text><path d="M763,0 L583,0 L583,1147 Q518,1085 412,1023 Q306,961 222,930 L222,1104 Q373,1175 486,1276 Q599,1377 646,1450 L763,1450 Z" transform="translate(0.00 0) scale(0.01187 -0.01187)" class="one"/></g><line x1="1004.4" y1="2311.5" x2="1004.4" y2="2315.1" stroke="#555" stroke-width="1.3"/><g transform="translate(1004.40 2335.80) scale(1.0200 1)"><text x="0" y="0" class="xt">2020</text></g>
<text x="9.6" y="24.2" class="lt">A</text>
<text x="9.9" y="840.0" class="lt">B</text>
<text x="9.4" y="1612.0" class="lt">C</text>
</svg></body></html>
